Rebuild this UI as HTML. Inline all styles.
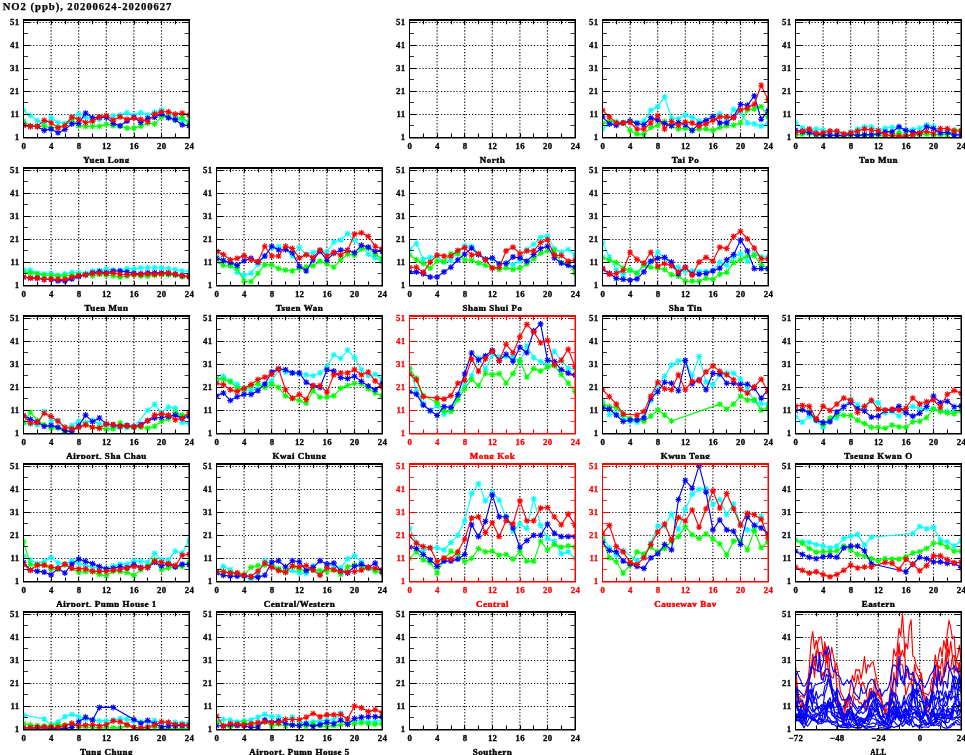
<!DOCTYPE html>
<html lang="en"><head><meta charset="utf-8"><title>NO2 (ppb), 20200624-20200627</title>
<style>
html,body{margin:0;padding:0;background:#fff;}
body{width:965px;height:755px;overflow:hidden;}
svg{display:block;}
text{font-family:"Liberation Serif","DejaVu Serif",serif;font-weight:bold;}
.t{font-size:8.8px;letter-spacing:0.3px;}
.l{font-size:7.2px;letter-spacing:0.42px;stroke-width:0.35px;}
.h{font-size:10.7px;letter-spacing:0.94px;}
.gr{stroke:#000;stroke-width:1.2;stroke-dasharray:1.15 1.95;fill:none;}
.ln{fill:none;stroke-width:1.15;stroke-linejoin:round;}
.mk{fill:none;stroke-width:1.1;}
</style></head><body>
<svg width="965" height="755" viewBox="0 0 965 755">
<defs><path id="s" d="M-3 0H3M0 -3V3M-2.2 -2.2L2.2 2.2M-2.2 2.2L2.2 -2.2"/></defs>
<rect width="965" height="755" fill="#fff"/>
<text class="h" x="2.7" y="10.4" stroke="#000" stroke-width="0.25">NO2 (ppb), 20200624-20200627</text>
<g>
<rect x="0" y="15" width="965" height="148" fill="#fff"/>
<clipPath id="k00"><rect x="23.5" y="20" width="165.6" height="118"/></clipPath><path class="gr" d="M51.1 21V137.5M78.7 21V137.5M106.3 21V137.5M133.9 21V137.5M161.5 21V137.5M24 114.5H189.1M24 91.5H189.1M24 68.5H189.1M24 45.5H189.1M24 22.5H189.1"/><g clip-path="url(#k00)"><g stroke="#00ffff"><path class="ln" d="M23.5 110.36L30.4 115.49L37.3 120.62L44.2 123.88L51.1 117.81L58 122.48L64.9 123.42L71.8 117.35L78.7 114.09L85.6 117.35L92.5 120.16L99.4 119.22L106.3 116.43L113.2 115.95L120.1 115.03L127 112.68L133.9 115.03L140.8 112.68L147.7 115.03L154.6 112.22L161.5 109.9L168.4 112.68L175.3 116.43L182.2 120.16L189.1 121.08"/><g class="mk"><use href="#s" x="23.5" y="110.36"/><use href="#s" x="30.4" y="115.49"/><use href="#s" x="37.3" y="120.62"/><use href="#s" x="44.2" y="123.88"/><use href="#s" x="51.1" y="117.81"/><use href="#s" x="58" y="122.48"/><use href="#s" x="64.9" y="123.42"/><use href="#s" x="71.8" y="117.35"/><use href="#s" x="78.7" y="114.09"/><use href="#s" x="85.6" y="117.35"/><use href="#s" x="92.5" y="120.16"/><use href="#s" x="99.4" y="119.22"/><use href="#s" x="106.3" y="116.43"/><use href="#s" x="113.2" y="115.95"/><use href="#s" x="120.1" y="115.03"/><use href="#s" x="127" y="112.68"/><use href="#s" x="133.9" y="115.03"/><use href="#s" x="140.8" y="112.68"/><use href="#s" x="147.7" y="115.03"/><use href="#s" x="154.6" y="112.22"/><use href="#s" x="161.5" y="109.9"/><use href="#s" x="168.4" y="112.68"/><use href="#s" x="175.3" y="116.43"/><use href="#s" x="182.2" y="120.16"/><use href="#s" x="189.1" y="121.08"/></g></g><g stroke="#00ff00"><path class="ln" d="M23.5 121.08L30.4 125.75L37.3 126.39L44.2 126.39L51.1 127.61L58 127.61L64.9 125.75L71.8 119.22L78.7 125.75L85.6 126.39L92.5 126.39L99.4 126.39L106.3 124.11L113.2 125.75L120.1 126.21L127 128.07L133.9 128.07L140.8 126.21L147.7 122.94L154.6 123.88L161.5 117.35L168.4 116.43L175.3 120.16L182.2 117.35L189.1 122.94"/><g class="mk"><use href="#s" x="23.5" y="121.08"/><use href="#s" x="30.4" y="125.75"/><use href="#s" x="37.3" y="126.39"/><use href="#s" x="44.2" y="126.39"/><use href="#s" x="51.1" y="127.61"/><use href="#s" x="58" y="127.61"/><use href="#s" x="64.9" y="125.75"/><use href="#s" x="71.8" y="119.22"/><use href="#s" x="78.7" y="125.75"/><use href="#s" x="85.6" y="126.39"/><use href="#s" x="92.5" y="126.39"/><use href="#s" x="99.4" y="126.39"/><use href="#s" x="106.3" y="124.11"/><use href="#s" x="113.2" y="125.75"/><use href="#s" x="120.1" y="126.21"/><use href="#s" x="127" y="128.07"/><use href="#s" x="133.9" y="128.07"/><use href="#s" x="140.8" y="126.21"/><use href="#s" x="147.7" y="122.94"/><use href="#s" x="154.6" y="123.88"/><use href="#s" x="161.5" y="117.35"/><use href="#s" x="168.4" y="116.43"/><use href="#s" x="175.3" y="120.16"/><use href="#s" x="182.2" y="117.35"/><use href="#s" x="189.1" y="122.94"/></g></g><g stroke="#0000ff"><path class="ln" d="M23.5 124.8L30.4 126.39L37.3 126.39L44.2 130.42L51.1 129.01L58 132.74L64.9 129.47L71.8 123.88L78.7 123.42L85.6 113.17L92.5 117.81L99.4 117.35L106.3 117.35L113.2 123.42L120.1 125.75L127 121.08L133.9 117.35L140.8 122.48L147.7 118.3L154.6 117.35L161.5 114.09L168.4 117.81L175.3 119.67L182.2 124.8L189.1 125.75"/><g class="mk"><use href="#s" x="23.5" y="124.8"/><use href="#s" x="30.4" y="126.39"/><use href="#s" x="37.3" y="126.39"/><use href="#s" x="44.2" y="130.42"/><use href="#s" x="51.1" y="129.01"/><use href="#s" x="58" y="132.74"/><use href="#s" x="64.9" y="129.47"/><use href="#s" x="71.8" y="123.88"/><use href="#s" x="78.7" y="123.42"/><use href="#s" x="85.6" y="113.17"/><use href="#s" x="92.5" y="117.81"/><use href="#s" x="99.4" y="117.35"/><use href="#s" x="106.3" y="117.35"/><use href="#s" x="113.2" y="123.42"/><use href="#s" x="120.1" y="125.75"/><use href="#s" x="127" y="121.08"/><use href="#s" x="133.9" y="117.35"/><use href="#s" x="140.8" y="122.48"/><use href="#s" x="147.7" y="118.3"/><use href="#s" x="154.6" y="117.35"/><use href="#s" x="161.5" y="114.09"/><use href="#s" x="168.4" y="117.81"/><use href="#s" x="175.3" y="119.67"/><use href="#s" x="182.2" y="124.8"/><use href="#s" x="189.1" y="125.75"/></g></g><g stroke="#ff0000"><path class="ln" d="M23.5 125.56L30.4 126.39L37.3 126.39L44.2 120.34L51.1 122.76L58 127.61L64.9 125.47L71.8 117.17L78.7 119.22L85.6 122.48L92.5 121.08L99.4 116.89L106.3 115.49L113.2 120.16L120.1 116.89L127 119.22L133.9 117.81L140.8 119.22L147.7 121.56L154.6 114.09L161.5 111.76L168.4 111.76L175.3 114.09L182.2 113.17L189.1 115.03"/><g class="mk"><use href="#s" x="23.5" y="125.56"/><use href="#s" x="30.4" y="126.39"/><use href="#s" x="37.3" y="126.39"/><use href="#s" x="44.2" y="120.34"/><use href="#s" x="51.1" y="122.76"/><use href="#s" x="58" y="127.61"/><use href="#s" x="64.9" y="125.47"/><use href="#s" x="71.8" y="117.17"/><use href="#s" x="78.7" y="119.22"/><use href="#s" x="85.6" y="122.48"/><use href="#s" x="92.5" y="121.08"/><use href="#s" x="99.4" y="116.89"/><use href="#s" x="106.3" y="115.49"/><use href="#s" x="113.2" y="120.16"/><use href="#s" x="120.1" y="116.89"/><use href="#s" x="127" y="119.22"/><use href="#s" x="133.9" y="117.81"/><use href="#s" x="140.8" y="119.22"/><use href="#s" x="147.7" y="121.56"/><use href="#s" x="154.6" y="114.09"/><use href="#s" x="161.5" y="111.76"/><use href="#s" x="168.4" y="111.76"/><use href="#s" x="175.3" y="114.09"/><use href="#s" x="182.2" y="113.17"/><use href="#s" x="189.1" y="115.03"/></g></g></g><path stroke="#000" stroke-width="1.1" fill="none" d="M51.5 137.5v-4M51.5 21v3.2M78.5 137.5v-4M78.5 21v3.2M106.5 137.5v-4M106.5 21v3.2M134.5 137.5v-4M134.5 21v3.2M161.5 137.5v-4M161.5 21v3.2M37.5 137.5v-4M37.5 21v3.2M65.5 137.5v-4M65.5 21v3.2M92.5 137.5v-4M92.5 21v3.2M120.5 137.5v-4M120.5 21v3.2M147.5 137.5v-4M147.5 21v3.2M175.5 137.5v-4M175.5 21v3.2M24 114.5h6M188.6 114.5h-6M24 91.5h6M188.6 91.5h-6M24 68.5h6M188.6 68.5h-6M24 45.5h6M188.6 45.5h-6M24 22.5h6M188.6 22.5h-6"/><path stroke="#000" stroke-width="0.8" fill="none" d="M24 125.5h4M188.6 125.5h-4M24 102.5h4M188.6 102.5h-4M24 79.5h4M188.6 79.5h-4M24 56.5h4M188.6 56.5h-4M24 33.5h4M188.6 33.5h-4"/><path fill="#000" d="M23 19h167v2h-167zM23 19h1v119h-1zM188.5 19h1.5v119h-1.5zM23 137h167v1.5h-167z"/><g fill="#000" stroke="#000" stroke-width="0.3"><text class="t" x="19.5" y="140.4" text-anchor="end">1</text><text class="t" x="19.5" y="117.4" text-anchor="end">11</text><text class="t" x="19.5" y="94.4" text-anchor="end">21</text><text class="t" x="19.5" y="71.4" text-anchor="end">31</text><text class="t" x="19.5" y="48.4" text-anchor="end">41</text><text class="t" x="19.5" y="25.4" text-anchor="end">51</text><text class="t" x="23.8" y="149" text-anchor="middle">0</text><text class="t" x="51.4" y="149" text-anchor="middle">4</text><text class="t" x="79" y="149" text-anchor="middle">8</text><text class="t" x="106.6" y="149" text-anchor="middle">12</text><text class="t" x="134.2" y="149" text-anchor="middle">16</text><text class="t" x="161.8" y="149" text-anchor="middle">20</text><text class="t" x="189.4" y="149" text-anchor="middle">24</text><text class="l" transform="translate(106.5 162.7) scale(1.25 1)" text-anchor="middle">Yuen Long</text></g>
<clipPath id="k02"><rect x="409.5" y="20" width="165.6" height="118"/></clipPath><path class="gr" d="M437.1 21V137.5M464.7 21V137.5M492.3 21V137.5M519.9 21V137.5M547.5 21V137.5M410 114.5H575.1M410 91.5H575.1M410 68.5H575.1M410 45.5H575.1M410 22.5H575.1"/><g clip-path="url(#k02)"></g><path stroke="#000" stroke-width="1.1" fill="none" d="M437.5 137.5v-4M437.5 21v3.2M464.5 137.5v-4M464.5 21v3.2M492.5 137.5v-4M492.5 21v3.2M520.5 137.5v-4M520.5 21v3.2M547.5 137.5v-4M547.5 21v3.2M423.5 137.5v-4M423.5 21v3.2M451.5 137.5v-4M451.5 21v3.2M478.5 137.5v-4M478.5 21v3.2M506.5 137.5v-4M506.5 21v3.2M533.5 137.5v-4M533.5 21v3.2M561.5 137.5v-4M561.5 21v3.2M410 114.5h6M574.6 114.5h-6M410 91.5h6M574.6 91.5h-6M410 68.5h6M574.6 68.5h-6M410 45.5h6M574.6 45.5h-6M410 22.5h6M574.6 22.5h-6"/><path stroke="#000" stroke-width="0.8" fill="none" d="M410 125.5h4M574.6 125.5h-4M410 102.5h4M574.6 102.5h-4M410 79.5h4M574.6 79.5h-4M410 56.5h4M574.6 56.5h-4M410 33.5h4M574.6 33.5h-4"/><path fill="#000" d="M409 19h167v2h-167zM409 19h1v119h-1zM574.5 19h1.5v119h-1.5zM409 137h167v1.5h-167z"/><g fill="#000" stroke="#000" stroke-width="0.3"><text class="t" x="405.5" y="140.4" text-anchor="end">1</text><text class="t" x="405.5" y="117.4" text-anchor="end">11</text><text class="t" x="405.5" y="94.4" text-anchor="end">21</text><text class="t" x="405.5" y="71.4" text-anchor="end">31</text><text class="t" x="405.5" y="48.4" text-anchor="end">41</text><text class="t" x="405.5" y="25.4" text-anchor="end">51</text><text class="t" x="409.8" y="149" text-anchor="middle">0</text><text class="t" x="437.4" y="149" text-anchor="middle">4</text><text class="t" x="465" y="149" text-anchor="middle">8</text><text class="t" x="492.6" y="149" text-anchor="middle">12</text><text class="t" x="520.2" y="149" text-anchor="middle">16</text><text class="t" x="547.8" y="149" text-anchor="middle">20</text><text class="t" x="575.4" y="149" text-anchor="middle">24</text><text class="l" transform="translate(492.5 162.7) scale(1.25 1)" text-anchor="middle">North</text></g>
<clipPath id="k03"><rect x="602.5" y="20" width="165.6" height="118"/></clipPath><path class="gr" d="M630.1 21V137.5M657.7 21V137.5M685.3 21V137.5M712.9 21V137.5M740.5 21V137.5M603 114.5H768.1M603 91.5H768.1M603 68.5H768.1M603 45.5H768.1M603 22.5H768.1"/><g clip-path="url(#k03)"><g stroke="#00ffff"><path class="ln" d="M602.5 129.01L609.4 123.88L616.3 121.56L623.2 122.48L630.1 121.08L637 122.48L643.9 121.08L650.8 110.36L657.7 106.63L664.6 96.84L671.5 118.3L678.4 118.75L685.3 115.03L692.2 117.35L699.1 121.08L706 120.16L712.9 117.35L719.8 113.63L726.7 121.08L733.6 109.42L740.5 112.68L747.4 122.94L754.3 123.88L761.2 126.21L768.1 123.42"/><g class="mk"><use href="#s" x="602.5" y="129.01"/><use href="#s" x="609.4" y="123.88"/><use href="#s" x="616.3" y="121.56"/><use href="#s" x="623.2" y="122.48"/><use href="#s" x="630.1" y="121.08"/><use href="#s" x="637" y="122.48"/><use href="#s" x="643.9" y="121.08"/><use href="#s" x="650.8" y="110.36"/><use href="#s" x="657.7" y="106.63"/><use href="#s" x="664.6" y="96.84"/><use href="#s" x="671.5" y="118.3"/><use href="#s" x="678.4" y="118.75"/><use href="#s" x="685.3" y="115.03"/><use href="#s" x="692.2" y="117.35"/><use href="#s" x="699.1" y="121.08"/><use href="#s" x="706" y="120.16"/><use href="#s" x="712.9" y="117.35"/><use href="#s" x="719.8" y="113.63"/><use href="#s" x="726.7" y="121.08"/><use href="#s" x="733.6" y="109.42"/><use href="#s" x="740.5" y="112.68"/><use href="#s" x="747.4" y="122.94"/><use href="#s" x="754.3" y="123.88"/><use href="#s" x="761.2" y="126.21"/><use href="#s" x="768.1" y="123.42"/></g></g><g stroke="#00ff00"><path class="ln" d="M602.5 123.42L609.4 120.62L616.3 122.94L623.2 122.94L630.1 130.42L637 134.14L643.9 134.14L650.8 127.61L657.7 125.29L664.6 121.56L671.5 126.21L678.4 129.01L685.3 128.07L692.2 130.42L699.1 129.01L706 129.01L712.9 130.42L719.8 127.61L726.7 125.75L733.6 125.29L740.5 122.94L747.4 109.9L754.3 108.96L761.2 106.63L768.1 116.89"/><g class="mk"><use href="#s" x="602.5" y="123.42"/><use href="#s" x="609.4" y="120.62"/><use href="#s" x="616.3" y="122.94"/><use href="#s" x="623.2" y="122.94"/><use href="#s" x="630.1" y="130.42"/><use href="#s" x="637" y="134.14"/><use href="#s" x="643.9" y="134.14"/><use href="#s" x="650.8" y="127.61"/><use href="#s" x="657.7" y="125.29"/><use href="#s" x="664.6" y="121.56"/><use href="#s" x="671.5" y="126.21"/><use href="#s" x="678.4" y="129.01"/><use href="#s" x="685.3" y="128.07"/><use href="#s" x="692.2" y="130.42"/><use href="#s" x="699.1" y="129.01"/><use href="#s" x="706" y="129.01"/><use href="#s" x="712.9" y="130.42"/><use href="#s" x="719.8" y="127.61"/><use href="#s" x="726.7" y="125.75"/><use href="#s" x="733.6" y="125.29"/><use href="#s" x="740.5" y="122.94"/><use href="#s" x="747.4" y="109.9"/><use href="#s" x="754.3" y="108.96"/><use href="#s" x="761.2" y="106.63"/><use href="#s" x="768.1" y="116.89"/></g></g><g stroke="#0000ff"><path class="ln" d="M602.5 116.89L609.4 123.88L616.3 125.29L623.2 122.94L630.1 121.08L637 123.42L643.9 124.8L650.8 117.81L657.7 120.16L664.6 123.42L671.5 125.75L678.4 122.48L685.3 124.8L692.2 130.42L699.1 123.88L706 120.62L712.9 116.43L719.8 122.94L726.7 122.94L733.6 116.89L740.5 104.29L747.4 105.23L754.3 95.89L761.2 119.22L768.1 110.82"/><g class="mk"><use href="#s" x="602.5" y="116.89"/><use href="#s" x="609.4" y="123.88"/><use href="#s" x="616.3" y="125.29"/><use href="#s" x="623.2" y="122.94"/><use href="#s" x="630.1" y="121.08"/><use href="#s" x="637" y="123.42"/><use href="#s" x="643.9" y="124.8"/><use href="#s" x="650.8" y="117.81"/><use href="#s" x="657.7" y="120.16"/><use href="#s" x="664.6" y="123.42"/><use href="#s" x="671.5" y="125.75"/><use href="#s" x="678.4" y="122.48"/><use href="#s" x="685.3" y="124.8"/><use href="#s" x="692.2" y="130.42"/><use href="#s" x="699.1" y="123.88"/><use href="#s" x="706" y="120.62"/><use href="#s" x="712.9" y="116.43"/><use href="#s" x="719.8" y="122.94"/><use href="#s" x="726.7" y="122.94"/><use href="#s" x="733.6" y="116.89"/><use href="#s" x="740.5" y="104.29"/><use href="#s" x="747.4" y="105.23"/><use href="#s" x="754.3" y="95.89"/><use href="#s" x="761.2" y="119.22"/><use href="#s" x="768.1" y="110.82"/></g></g><g stroke="#ff0000"><path class="ln" d="M602.5 110.36L609.4 116.89L616.3 122.94L623.2 122.94L630.1 122.48L637 129.01L643.9 129.01L650.8 122.94L657.7 115.49L664.6 129.01L671.5 121.56L678.4 125.29L685.3 122.02L692.2 122.94L699.1 126.21L706 123.88L712.9 120.16L719.8 116.89L726.7 116.89L733.6 117.81L740.5 109.9L747.4 108.04L754.3 104.29L761.2 85.18L768.1 99.64"/><g class="mk"><use href="#s" x="602.5" y="110.36"/><use href="#s" x="609.4" y="116.89"/><use href="#s" x="616.3" y="122.94"/><use href="#s" x="623.2" y="122.94"/><use href="#s" x="630.1" y="122.48"/><use href="#s" x="637" y="129.01"/><use href="#s" x="643.9" y="129.01"/><use href="#s" x="650.8" y="122.94"/><use href="#s" x="657.7" y="115.49"/><use href="#s" x="664.6" y="129.01"/><use href="#s" x="671.5" y="121.56"/><use href="#s" x="678.4" y="125.29"/><use href="#s" x="685.3" y="122.02"/><use href="#s" x="692.2" y="122.94"/><use href="#s" x="699.1" y="126.21"/><use href="#s" x="706" y="123.88"/><use href="#s" x="712.9" y="120.16"/><use href="#s" x="719.8" y="116.89"/><use href="#s" x="726.7" y="116.89"/><use href="#s" x="733.6" y="117.81"/><use href="#s" x="740.5" y="109.9"/><use href="#s" x="747.4" y="108.04"/><use href="#s" x="754.3" y="104.29"/><use href="#s" x="761.2" y="85.18"/><use href="#s" x="768.1" y="99.64"/></g></g></g><path stroke="#000" stroke-width="1.1" fill="none" d="M630.5 137.5v-4M630.5 21v3.2M657.5 137.5v-4M657.5 21v3.2M685.5 137.5v-4M685.5 21v3.2M713.5 137.5v-4M713.5 21v3.2M740.5 137.5v-4M740.5 21v3.2M616.5 137.5v-4M616.5 21v3.2M644.5 137.5v-4M644.5 21v3.2M671.5 137.5v-4M671.5 21v3.2M699.5 137.5v-4M699.5 21v3.2M726.5 137.5v-4M726.5 21v3.2M754.5 137.5v-4M754.5 21v3.2M603 114.5h6M767.6 114.5h-6M603 91.5h6M767.6 91.5h-6M603 68.5h6M767.6 68.5h-6M603 45.5h6M767.6 45.5h-6M603 22.5h6M767.6 22.5h-6"/><path stroke="#000" stroke-width="0.8" fill="none" d="M603 125.5h4M767.6 125.5h-4M603 102.5h4M767.6 102.5h-4M603 79.5h4M767.6 79.5h-4M603 56.5h4M767.6 56.5h-4M603 33.5h4M767.6 33.5h-4"/><path fill="#000" d="M602 19h167v2h-167zM602 19h1v119h-1zM767.5 19h1.5v119h-1.5zM602 137h167v1.5h-167z"/><g fill="#000" stroke="#000" stroke-width="0.3"><text class="t" x="598.5" y="140.4" text-anchor="end">1</text><text class="t" x="598.5" y="117.4" text-anchor="end">11</text><text class="t" x="598.5" y="94.4" text-anchor="end">21</text><text class="t" x="598.5" y="71.4" text-anchor="end">31</text><text class="t" x="598.5" y="48.4" text-anchor="end">41</text><text class="t" x="598.5" y="25.4" text-anchor="end">51</text><text class="t" x="602.8" y="149" text-anchor="middle">0</text><text class="t" x="630.4" y="149" text-anchor="middle">4</text><text class="t" x="658" y="149" text-anchor="middle">8</text><text class="t" x="685.6" y="149" text-anchor="middle">12</text><text class="t" x="713.2" y="149" text-anchor="middle">16</text><text class="t" x="740.8" y="149" text-anchor="middle">20</text><text class="t" x="768.4" y="149" text-anchor="middle">24</text><text class="l" transform="translate(685.5 162.7) scale(1.25 1)" text-anchor="middle">Tai Po</text></g>
<clipPath id="k04"><rect x="795.5" y="20" width="165.6" height="118"/></clipPath><path class="gr" d="M823.1 21V137.5M850.7 21V137.5M878.3 21V137.5M905.9 21V137.5M933.5 21V137.5M796 114.5H961.1M796 91.5H961.1M796 68.5H961.1M796 45.5H961.1M796 22.5H961.1"/><g clip-path="url(#k04)"><g stroke="#00ffff"><path class="ln" d="M795.5 122.57L802.4 127.7L809.3 129.1L816.2 129.1L823.1 130.05L830 131.43L836.9 131.91L843.8 134.23L850.7 131.91L857.6 129.1L864.5 126.78L871.4 126.78L878.3 130.05L885.2 128.16L892.1 127.24L899 127.7L905.9 130.05L912.8 129.56L919.7 128.16L926.6 124.92L933.5 126.78L940.4 132.37L947.3 132.37L954.2 133.31L961.1 135.18"/><g class="mk"><use href="#s" x="795.5" y="122.57"/><use href="#s" x="802.4" y="127.7"/><use href="#s" x="809.3" y="129.1"/><use href="#s" x="816.2" y="129.1"/><use href="#s" x="823.1" y="130.05"/><use href="#s" x="830" y="131.43"/><use href="#s" x="836.9" y="131.91"/><use href="#s" x="843.8" y="134.23"/><use href="#s" x="850.7" y="131.91"/><use href="#s" x="857.6" y="129.1"/><use href="#s" x="864.5" y="126.78"/><use href="#s" x="871.4" y="126.78"/><use href="#s" x="878.3" y="130.05"/><use href="#s" x="885.2" y="128.16"/><use href="#s" x="892.1" y="127.24"/><use href="#s" x="899" y="127.7"/><use href="#s" x="905.9" y="130.05"/><use href="#s" x="912.8" y="129.56"/><use href="#s" x="919.7" y="128.16"/><use href="#s" x="926.6" y="124.92"/><use href="#s" x="933.5" y="126.78"/><use href="#s" x="940.4" y="132.37"/><use href="#s" x="947.3" y="132.37"/><use href="#s" x="954.2" y="133.31"/><use href="#s" x="961.1" y="135.18"/></g></g><g stroke="#00ff00"><path class="ln" d="M795.5 135.18L802.4 134.23L809.3 133.31L816.2 135.64L823.1 135.18L830 135.64L836.9 135.64L843.8 136.1L850.7 134.69L857.6 134.69L864.5 135.18L871.4 135.64L878.3 134.69L885.2 136.1L892.1 135.18L899 132.83L905.9 135.18L912.8 135.18L919.7 134.69L926.6 134.23L933.5 134.69L940.4 134.69L947.3 134.69L954.2 130.05L961.1 130.05"/><g class="mk"><use href="#s" x="795.5" y="135.18"/><use href="#s" x="802.4" y="134.23"/><use href="#s" x="809.3" y="133.31"/><use href="#s" x="816.2" y="135.64"/><use href="#s" x="823.1" y="135.18"/><use href="#s" x="830" y="135.64"/><use href="#s" x="836.9" y="135.64"/><use href="#s" x="843.8" y="136.1"/><use href="#s" x="850.7" y="134.69"/><use href="#s" x="857.6" y="134.69"/><use href="#s" x="864.5" y="135.18"/><use href="#s" x="871.4" y="135.64"/><use href="#s" x="878.3" y="134.69"/><use href="#s" x="885.2" y="136.1"/><use href="#s" x="892.1" y="135.18"/><use href="#s" x="899" y="132.83"/><use href="#s" x="905.9" y="135.18"/><use href="#s" x="912.8" y="135.18"/><use href="#s" x="919.7" y="134.69"/><use href="#s" x="926.6" y="134.23"/><use href="#s" x="933.5" y="134.69"/><use href="#s" x="940.4" y="134.69"/><use href="#s" x="947.3" y="134.69"/><use href="#s" x="954.2" y="130.05"/><use href="#s" x="961.1" y="130.05"/></g></g><g stroke="#0000ff"><path class="ln" d="M795.5 130.05L802.4 131.91L809.3 132.37L816.2 134.23L823.1 134.69L830 135.18L836.9 135.18L843.8 135.64L850.7 134.23L857.6 135.64L864.5 134.69L871.4 134.69L878.3 133.77L885.2 131.91L892.1 131.91L899 126.78L905.9 130.51L912.8 131.91L919.7 133.31L926.6 126.78L933.5 128.65L940.4 132.83L947.3 132.37L954.2 135.18L961.1 134.69"/><g class="mk"><use href="#s" x="795.5" y="130.05"/><use href="#s" x="802.4" y="131.91"/><use href="#s" x="809.3" y="132.37"/><use href="#s" x="816.2" y="134.23"/><use href="#s" x="823.1" y="134.69"/><use href="#s" x="830" y="135.18"/><use href="#s" x="836.9" y="135.18"/><use href="#s" x="843.8" y="135.64"/><use href="#s" x="850.7" y="134.23"/><use href="#s" x="857.6" y="135.64"/><use href="#s" x="864.5" y="134.69"/><use href="#s" x="871.4" y="134.69"/><use href="#s" x="878.3" y="133.77"/><use href="#s" x="885.2" y="131.91"/><use href="#s" x="892.1" y="131.91"/><use href="#s" x="899" y="126.78"/><use href="#s" x="905.9" y="130.51"/><use href="#s" x="912.8" y="131.91"/><use href="#s" x="919.7" y="133.31"/><use href="#s" x="926.6" y="126.78"/><use href="#s" x="933.5" y="128.65"/><use href="#s" x="940.4" y="132.83"/><use href="#s" x="947.3" y="132.37"/><use href="#s" x="954.2" y="135.18"/><use href="#s" x="961.1" y="134.69"/></g></g><g stroke="#ff0000"><path class="ln" d="M795.5 132.83L802.4 130.97L809.3 129.1L816.2 133.31L823.1 132.83L830 130.97L836.9 130.97L843.8 133.77L850.7 132.83L857.6 130.97L864.5 129.1L871.4 130.05L878.3 130.74L885.2 134.69L892.1 135.64L899 136.1L905.9 136.1L912.8 134.69L919.7 132.83L926.6 131.43L933.5 133.31L940.4 128.65L947.3 128.65L954.2 130.97L961.1 130.97"/><g class="mk"><use href="#s" x="795.5" y="132.83"/><use href="#s" x="802.4" y="130.97"/><use href="#s" x="809.3" y="129.1"/><use href="#s" x="816.2" y="133.31"/><use href="#s" x="823.1" y="132.83"/><use href="#s" x="830" y="130.97"/><use href="#s" x="836.9" y="130.97"/><use href="#s" x="843.8" y="133.77"/><use href="#s" x="850.7" y="132.83"/><use href="#s" x="857.6" y="130.97"/><use href="#s" x="864.5" y="129.1"/><use href="#s" x="871.4" y="130.05"/><use href="#s" x="878.3" y="130.74"/><use href="#s" x="885.2" y="134.69"/><use href="#s" x="892.1" y="135.64"/><use href="#s" x="899" y="136.1"/><use href="#s" x="905.9" y="136.1"/><use href="#s" x="912.8" y="134.69"/><use href="#s" x="919.7" y="132.83"/><use href="#s" x="926.6" y="131.43"/><use href="#s" x="933.5" y="133.31"/><use href="#s" x="940.4" y="128.65"/><use href="#s" x="947.3" y="128.65"/><use href="#s" x="954.2" y="130.97"/><use href="#s" x="961.1" y="130.97"/></g></g></g><path stroke="#000" stroke-width="1.1" fill="none" d="M823.5 137.5v-4M823.5 21v3.2M850.5 137.5v-4M850.5 21v3.2M878.5 137.5v-4M878.5 21v3.2M906.5 137.5v-4M906.5 21v3.2M933.5 137.5v-4M933.5 21v3.2M809.5 137.5v-4M809.5 21v3.2M837.5 137.5v-4M837.5 21v3.2M864.5 137.5v-4M864.5 21v3.2M892.5 137.5v-4M892.5 21v3.2M919.5 137.5v-4M919.5 21v3.2M947.5 137.5v-4M947.5 21v3.2M796 114.5h6M960.6 114.5h-6M796 91.5h6M960.6 91.5h-6M796 68.5h6M960.6 68.5h-6M796 45.5h6M960.6 45.5h-6M796 22.5h6M960.6 22.5h-6"/><path stroke="#000" stroke-width="0.8" fill="none" d="M796 125.5h4M960.6 125.5h-4M796 102.5h4M960.6 102.5h-4M796 79.5h4M960.6 79.5h-4M796 56.5h4M960.6 56.5h-4M796 33.5h4M960.6 33.5h-4"/><path fill="#000" d="M795 19h167v2h-167zM795 19h1v119h-1zM960.5 19h1.5v119h-1.5zM795 137h167v1.5h-167z"/><g fill="#000" stroke="#000" stroke-width="0.3"><text class="t" x="791.5" y="140.4" text-anchor="end">1</text><text class="t" x="791.5" y="117.4" text-anchor="end">11</text><text class="t" x="791.5" y="94.4" text-anchor="end">21</text><text class="t" x="791.5" y="71.4" text-anchor="end">31</text><text class="t" x="791.5" y="48.4" text-anchor="end">41</text><text class="t" x="791.5" y="25.4" text-anchor="end">51</text><text class="t" x="795.8" y="149" text-anchor="middle">0</text><text class="t" x="823.4" y="149" text-anchor="middle">4</text><text class="t" x="851" y="149" text-anchor="middle">8</text><text class="t" x="878.6" y="149" text-anchor="middle">12</text><text class="t" x="906.2" y="149" text-anchor="middle">16</text><text class="t" x="933.8" y="149" text-anchor="middle">20</text><text class="t" x="961.4" y="149" text-anchor="middle">24</text><text class="l" transform="translate(878.5 162.7) scale(1.25 1)" text-anchor="middle">Tap Mun</text></g>
</g>
<g>
<rect x="0" y="163" width="965" height="148" fill="#fff"/>
<clipPath id="k10"><rect x="23.5" y="168" width="165.6" height="118"/></clipPath><path class="gr" d="M51.1 169V285.5M78.7 169V285.5M106.3 169V285.5M133.9 169V285.5M161.5 169V285.5M24 262.5H189.1M24 239.5H189.1M24 216.5H189.1M24 193.5H189.1M24 170.5H189.1"/><g clip-path="url(#k10)"><g stroke="#00ffff"><path class="ln" d="M23.5 269.65L30.4 270.11L37.3 273.38L44.2 273.84L51.1 273.38L58 275.24L64.9 273.84L71.8 272.44L78.7 272.44L85.6 273.38L92.5 271.03L99.4 270.57L106.3 269.17L113.2 270.11L120.1 270.57L127 268.71L133.9 269.17L140.8 267.79L147.7 267.79L154.6 267.79L161.5 267.79L168.4 268.71L175.3 269.65L182.2 271.03L189.1 271.52"/><g class="mk"><use href="#s" x="23.5" y="269.65"/><use href="#s" x="30.4" y="270.11"/><use href="#s" x="37.3" y="273.38"/><use href="#s" x="44.2" y="273.84"/><use href="#s" x="51.1" y="273.38"/><use href="#s" x="58" y="275.24"/><use href="#s" x="64.9" y="273.84"/><use href="#s" x="71.8" y="272.44"/><use href="#s" x="78.7" y="272.44"/><use href="#s" x="85.6" y="273.38"/><use href="#s" x="92.5" y="271.03"/><use href="#s" x="99.4" y="270.57"/><use href="#s" x="106.3" y="269.17"/><use href="#s" x="113.2" y="270.11"/><use href="#s" x="120.1" y="270.57"/><use href="#s" x="127" y="268.71"/><use href="#s" x="133.9" y="269.17"/><use href="#s" x="140.8" y="267.79"/><use href="#s" x="147.7" y="267.79"/><use href="#s" x="154.6" y="267.79"/><use href="#s" x="161.5" y="267.79"/><use href="#s" x="168.4" y="268.71"/><use href="#s" x="175.3" y="269.65"/><use href="#s" x="182.2" y="271.03"/><use href="#s" x="189.1" y="271.52"/></g></g><g stroke="#00ff00"><path class="ln" d="M23.5 271.98L30.4 272.92L37.3 273.84L44.2 275.24L51.1 275.24L58 276.16L64.9 275.7L71.8 275.24L78.7 274.78L85.6 275.24L92.5 275.7L99.4 274.3L106.3 275.24L113.2 275.7L120.1 277.11L127 276.16L133.9 274.78L140.8 276.16L147.7 276.16L154.6 275.24L161.5 274.78L168.4 274.78L175.3 275.24L182.2 276.64L189.1 276.64"/><g class="mk"><use href="#s" x="23.5" y="271.98"/><use href="#s" x="30.4" y="272.92"/><use href="#s" x="37.3" y="273.84"/><use href="#s" x="44.2" y="275.24"/><use href="#s" x="51.1" y="275.24"/><use href="#s" x="58" y="276.16"/><use href="#s" x="64.9" y="275.7"/><use href="#s" x="71.8" y="275.24"/><use href="#s" x="78.7" y="274.78"/><use href="#s" x="85.6" y="275.24"/><use href="#s" x="92.5" y="275.7"/><use href="#s" x="99.4" y="274.3"/><use href="#s" x="106.3" y="275.24"/><use href="#s" x="113.2" y="275.7"/><use href="#s" x="120.1" y="277.11"/><use href="#s" x="127" y="276.16"/><use href="#s" x="133.9" y="274.78"/><use href="#s" x="140.8" y="276.16"/><use href="#s" x="147.7" y="276.16"/><use href="#s" x="154.6" y="275.24"/><use href="#s" x="161.5" y="274.78"/><use href="#s" x="168.4" y="274.78"/><use href="#s" x="175.3" y="275.24"/><use href="#s" x="182.2" y="276.64"/><use href="#s" x="189.1" y="276.64"/></g></g><g stroke="#0000ff"><path class="ln" d="M23.5 277.11L30.4 278.05L37.3 278.05L44.2 279.43L51.1 279.43L58 280.83L64.9 280.83L71.8 278.97L78.7 276.64L85.6 274.78L92.5 272.92L99.4 271.52L106.3 272.92L113.2 271.03L120.1 271.03L127 271.98L133.9 273.38L140.8 273.84L147.7 272.92L154.6 272.92L161.5 272.92L168.4 273.38L175.3 274.3L182.2 275.7L189.1 276.64"/><g class="mk"><use href="#s" x="23.5" y="277.11"/><use href="#s" x="30.4" y="278.05"/><use href="#s" x="37.3" y="278.05"/><use href="#s" x="44.2" y="279.43"/><use href="#s" x="51.1" y="279.43"/><use href="#s" x="58" y="280.83"/><use href="#s" x="64.9" y="280.83"/><use href="#s" x="71.8" y="278.97"/><use href="#s" x="78.7" y="276.64"/><use href="#s" x="85.6" y="274.78"/><use href="#s" x="92.5" y="272.92"/><use href="#s" x="99.4" y="271.52"/><use href="#s" x="106.3" y="272.92"/><use href="#s" x="113.2" y="271.03"/><use href="#s" x="120.1" y="271.03"/><use href="#s" x="127" y="271.98"/><use href="#s" x="133.9" y="273.38"/><use href="#s" x="140.8" y="273.84"/><use href="#s" x="147.7" y="272.92"/><use href="#s" x="154.6" y="272.92"/><use href="#s" x="161.5" y="272.92"/><use href="#s" x="168.4" y="273.38"/><use href="#s" x="175.3" y="274.3"/><use href="#s" x="182.2" y="275.7"/><use href="#s" x="189.1" y="276.64"/></g></g><g stroke="#ff0000"><path class="ln" d="M23.5 277.11L30.4 278.05L37.3 278.05L44.2 279.43L51.1 278.97L58 279.43L64.9 279.43L71.8 277.11L78.7 275.7L85.6 274.78L92.5 273.38L99.4 273.38L106.3 273.38L113.2 272.92L120.1 274.3L127 274.78L133.9 274.3L140.8 274.3L147.7 273.84L154.6 274.3L161.5 273.84L168.4 272.92L175.3 274.3L182.2 275.7L189.1 276.64"/><g class="mk"><use href="#s" x="23.5" y="277.11"/><use href="#s" x="30.4" y="278.05"/><use href="#s" x="37.3" y="278.05"/><use href="#s" x="44.2" y="279.43"/><use href="#s" x="51.1" y="278.97"/><use href="#s" x="58" y="279.43"/><use href="#s" x="64.9" y="279.43"/><use href="#s" x="71.8" y="277.11"/><use href="#s" x="78.7" y="275.7"/><use href="#s" x="85.6" y="274.78"/><use href="#s" x="92.5" y="273.38"/><use href="#s" x="99.4" y="273.38"/><use href="#s" x="106.3" y="273.38"/><use href="#s" x="113.2" y="272.92"/><use href="#s" x="120.1" y="274.3"/><use href="#s" x="127" y="274.78"/><use href="#s" x="133.9" y="274.3"/><use href="#s" x="140.8" y="274.3"/><use href="#s" x="147.7" y="273.84"/><use href="#s" x="154.6" y="274.3"/><use href="#s" x="161.5" y="273.84"/><use href="#s" x="168.4" y="272.92"/><use href="#s" x="175.3" y="274.3"/><use href="#s" x="182.2" y="275.7"/><use href="#s" x="189.1" y="276.64"/></g></g></g><path stroke="#000" stroke-width="1.1" fill="none" d="M51.5 285.5v-4M51.5 169v3.2M78.5 285.5v-4M78.5 169v3.2M106.5 285.5v-4M106.5 169v3.2M134.5 285.5v-4M134.5 169v3.2M161.5 285.5v-4M161.5 169v3.2M37.5 285.5v-4M37.5 169v3.2M65.5 285.5v-4M65.5 169v3.2M92.5 285.5v-4M92.5 169v3.2M120.5 285.5v-4M120.5 169v3.2M147.5 285.5v-4M147.5 169v3.2M175.5 285.5v-4M175.5 169v3.2M24 262.5h6M188.6 262.5h-6M24 239.5h6M188.6 239.5h-6M24 216.5h6M188.6 216.5h-6M24 193.5h6M188.6 193.5h-6M24 170.5h6M188.6 170.5h-6"/><path stroke="#000" stroke-width="0.8" fill="none" d="M24 273.5h4M188.6 273.5h-4M24 250.5h4M188.6 250.5h-4M24 227.5h4M188.6 227.5h-4M24 204.5h4M188.6 204.5h-4M24 181.5h4M188.6 181.5h-4"/><path fill="#000" d="M23 167h167v2h-167zM23 167h1v119h-1zM188.5 167h1.5v119h-1.5zM23 285h167v1.5h-167z"/><g fill="#000" stroke="#000" stroke-width="0.3"><text class="t" x="19.5" y="288.4" text-anchor="end">1</text><text class="t" x="19.5" y="265.4" text-anchor="end">11</text><text class="t" x="19.5" y="242.4" text-anchor="end">21</text><text class="t" x="19.5" y="219.4" text-anchor="end">31</text><text class="t" x="19.5" y="196.4" text-anchor="end">41</text><text class="t" x="19.5" y="173.4" text-anchor="end">51</text><text class="t" x="23.8" y="297" text-anchor="middle">0</text><text class="t" x="51.4" y="297" text-anchor="middle">4</text><text class="t" x="79" y="297" text-anchor="middle">8</text><text class="t" x="106.6" y="297" text-anchor="middle">12</text><text class="t" x="134.2" y="297" text-anchor="middle">16</text><text class="t" x="161.8" y="297" text-anchor="middle">20</text><text class="t" x="189.4" y="297" text-anchor="middle">24</text><text class="l" transform="translate(106.5 310.7) scale(1.25 1)" text-anchor="middle">Tuen Mun</text></g>
<clipPath id="k11"><rect x="216.5" y="168" width="165.6" height="118"/></clipPath><path class="gr" d="M244.1 169V285.5M271.7 169V285.5M299.3 169V285.5M326.9 169V285.5M354.5 169V285.5M217 262.5H382.1M217 239.5H382.1M217 216.5H382.1M217 193.5H382.1M217 170.5H382.1"/><g clip-path="url(#k11)"><g stroke="#00ffff"><path class="ln" d="M216.5 255.09L223.4 259.76L230.3 265.35L237.2 272.34L244.1 275.15L251 273.29L257.9 264.43L264.8 256.04L271.7 247.64L278.6 246.7L285.5 249.5L292.4 256.04L299.3 247.39L306.2 254.63L313.1 252.29L320 250.43L326.9 251.83L333.8 242.03L340.7 240.17L347.6 233.63L354.5 240.17L361.4 247.16L368.3 254.15L375.2 257.9L382.1 261.63"/><g class="mk"><use href="#s" x="216.5" y="255.09"/><use href="#s" x="223.4" y="259.76"/><use href="#s" x="230.3" y="265.35"/><use href="#s" x="237.2" y="272.34"/><use href="#s" x="244.1" y="275.15"/><use href="#s" x="251" y="273.29"/><use href="#s" x="257.9" y="264.43"/><use href="#s" x="264.8" y="256.04"/><use href="#s" x="271.7" y="247.64"/><use href="#s" x="278.6" y="246.7"/><use href="#s" x="285.5" y="249.5"/><use href="#s" x="292.4" y="256.04"/><use href="#s" x="299.3" y="247.39"/><use href="#s" x="306.2" y="254.63"/><use href="#s" x="313.1" y="252.29"/><use href="#s" x="320" y="250.43"/><use href="#s" x="326.9" y="251.83"/><use href="#s" x="333.8" y="242.03"/><use href="#s" x="340.7" y="240.17"/><use href="#s" x="347.6" y="233.63"/><use href="#s" x="354.5" y="240.17"/><use href="#s" x="361.4" y="247.16"/><use href="#s" x="368.3" y="254.15"/><use href="#s" x="375.2" y="257.9"/><use href="#s" x="382.1" y="261.63"/></g></g><g stroke="#00ff00"><path class="ln" d="M216.5 261.63L223.4 265.35L230.3 265.81L237.2 268.16L244.1 281.2L251 281.68L257.9 273.29L264.8 264.89L271.7 264.89L278.6 268.62L285.5 270.02L292.4 270.94L299.3 268.16L306.2 266.75L313.1 265.81L320 261.17L326.9 263.95L333.8 267.22L340.7 259.76L347.6 254.15L354.5 255.09L361.4 249.02L368.3 248.1L375.2 254.15L382.1 258.82"/><g class="mk"><use href="#s" x="216.5" y="261.63"/><use href="#s" x="223.4" y="265.35"/><use href="#s" x="230.3" y="265.81"/><use href="#s" x="237.2" y="268.16"/><use href="#s" x="244.1" y="281.2"/><use href="#s" x="251" y="281.68"/><use href="#s" x="257.9" y="273.29"/><use href="#s" x="264.8" y="264.89"/><use href="#s" x="271.7" y="264.89"/><use href="#s" x="278.6" y="268.62"/><use href="#s" x="285.5" y="270.02"/><use href="#s" x="292.4" y="270.94"/><use href="#s" x="299.3" y="268.16"/><use href="#s" x="306.2" y="266.75"/><use href="#s" x="313.1" y="265.81"/><use href="#s" x="320" y="261.17"/><use href="#s" x="326.9" y="263.95"/><use href="#s" x="333.8" y="267.22"/><use href="#s" x="340.7" y="259.76"/><use href="#s" x="347.6" y="254.15"/><use href="#s" x="354.5" y="255.09"/><use href="#s" x="361.4" y="249.02"/><use href="#s" x="368.3" y="248.1"/><use href="#s" x="375.2" y="254.15"/><use href="#s" x="382.1" y="258.82"/></g></g><g stroke="#0000ff"><path class="ln" d="M216.5 258.36L223.4 260.68L230.3 262.55L237.2 265.35L244.1 260.68L251 258.36L257.9 262.09L264.8 256.04L271.7 246.24L278.6 249.97L285.5 249.5L292.4 252.77L299.3 266.3L306.2 270.94L313.1 259.76L320 251.37L326.9 260.22L333.8 253.23L340.7 249.97L347.6 250.43L354.5 252.77L361.4 245.3L368.3 247.16L375.2 251.37L382.1 251.37"/><g class="mk"><use href="#s" x="216.5" y="258.36"/><use href="#s" x="223.4" y="260.68"/><use href="#s" x="230.3" y="262.55"/><use href="#s" x="237.2" y="265.35"/><use href="#s" x="244.1" y="260.68"/><use href="#s" x="251" y="258.36"/><use href="#s" x="257.9" y="262.09"/><use href="#s" x="264.8" y="256.04"/><use href="#s" x="271.7" y="246.24"/><use href="#s" x="278.6" y="249.97"/><use href="#s" x="285.5" y="249.5"/><use href="#s" x="292.4" y="252.77"/><use href="#s" x="299.3" y="266.3"/><use href="#s" x="306.2" y="270.94"/><use href="#s" x="313.1" y="259.76"/><use href="#s" x="320" y="251.37"/><use href="#s" x="326.9" y="260.22"/><use href="#s" x="333.8" y="253.23"/><use href="#s" x="340.7" y="249.97"/><use href="#s" x="347.6" y="250.43"/><use href="#s" x="354.5" y="252.77"/><use href="#s" x="361.4" y="245.3"/><use href="#s" x="368.3" y="247.16"/><use href="#s" x="375.2" y="251.37"/><use href="#s" x="382.1" y="251.37"/></g></g><g stroke="#ff0000"><path class="ln" d="M216.5 251.37L223.4 254.63L230.3 259.76L237.2 258.36L244.1 255.55L251 259.76L257.9 261.63L264.8 246.24L271.7 256.04L278.6 256.04L285.5 246.24L292.4 248.56L299.3 257.9L306.2 254.63L313.1 257.42L320 249.97L326.9 256.04L333.8 252.29L340.7 255.09L347.6 250.43L354.5 234.12L361.4 232.72L368.3 236.44L375.2 246.24L382.1 249.02"/><g class="mk"><use href="#s" x="216.5" y="251.37"/><use href="#s" x="223.4" y="254.63"/><use href="#s" x="230.3" y="259.76"/><use href="#s" x="237.2" y="258.36"/><use href="#s" x="244.1" y="255.55"/><use href="#s" x="251" y="259.76"/><use href="#s" x="257.9" y="261.63"/><use href="#s" x="264.8" y="246.24"/><use href="#s" x="271.7" y="256.04"/><use href="#s" x="278.6" y="256.04"/><use href="#s" x="285.5" y="246.24"/><use href="#s" x="292.4" y="248.56"/><use href="#s" x="299.3" y="257.9"/><use href="#s" x="306.2" y="254.63"/><use href="#s" x="313.1" y="257.42"/><use href="#s" x="320" y="249.97"/><use href="#s" x="326.9" y="256.04"/><use href="#s" x="333.8" y="252.29"/><use href="#s" x="340.7" y="255.09"/><use href="#s" x="347.6" y="250.43"/><use href="#s" x="354.5" y="234.12"/><use href="#s" x="361.4" y="232.72"/><use href="#s" x="368.3" y="236.44"/><use href="#s" x="375.2" y="246.24"/><use href="#s" x="382.1" y="249.02"/></g></g></g><path stroke="#000" stroke-width="1.1" fill="none" d="M244.5 285.5v-4M244.5 169v3.2M271.5 285.5v-4M271.5 169v3.2M299.5 285.5v-4M299.5 169v3.2M327.5 285.5v-4M327.5 169v3.2M354.5 285.5v-4M354.5 169v3.2M230.5 285.5v-4M230.5 169v3.2M258.5 285.5v-4M258.5 169v3.2M285.5 285.5v-4M285.5 169v3.2M313.5 285.5v-4M313.5 169v3.2M340.5 285.5v-4M340.5 169v3.2M368.5 285.5v-4M368.5 169v3.2M217 262.5h6M381.6 262.5h-6M217 239.5h6M381.6 239.5h-6M217 216.5h6M381.6 216.5h-6M217 193.5h6M381.6 193.5h-6M217 170.5h6M381.6 170.5h-6"/><path stroke="#000" stroke-width="0.8" fill="none" d="M217 273.5h4M381.6 273.5h-4M217 250.5h4M381.6 250.5h-4M217 227.5h4M381.6 227.5h-4M217 204.5h4M381.6 204.5h-4M217 181.5h4M381.6 181.5h-4"/><path fill="#000" d="M216 167h167v2h-167zM216 167h1v119h-1zM381.5 167h1.5v119h-1.5zM216 285h167v1.5h-167z"/><g fill="#000" stroke="#000" stroke-width="0.3"><text class="t" x="212.5" y="288.4" text-anchor="end">1</text><text class="t" x="212.5" y="265.4" text-anchor="end">11</text><text class="t" x="212.5" y="242.4" text-anchor="end">21</text><text class="t" x="212.5" y="219.4" text-anchor="end">31</text><text class="t" x="212.5" y="196.4" text-anchor="end">41</text><text class="t" x="212.5" y="173.4" text-anchor="end">51</text><text class="t" x="216.8" y="297" text-anchor="middle">0</text><text class="t" x="244.4" y="297" text-anchor="middle">4</text><text class="t" x="272" y="297" text-anchor="middle">8</text><text class="t" x="299.6" y="297" text-anchor="middle">12</text><text class="t" x="327.2" y="297" text-anchor="middle">16</text><text class="t" x="354.8" y="297" text-anchor="middle">20</text><text class="t" x="382.4" y="297" text-anchor="middle">24</text><text class="l" transform="translate(299.5 310.7) scale(1.25 1)" text-anchor="middle">Tsuen Wan</text></g>
<clipPath id="k12"><rect x="409.5" y="168" width="165.6" height="118"/></clipPath><path class="gr" d="M437.1 169V285.5M464.7 169V285.5M492.3 169V285.5M519.9 169V285.5M547.5 169V285.5M410 262.5H575.1M410 239.5H575.1M410 216.5H575.1M410 193.5H575.1M410 170.5H575.1"/><g clip-path="url(#k12)"><g stroke="#00ffff"><path class="ln" d="M409.5 249.5L416.4 243.43L423.3 259.3L430.2 257.42L437.1 256.04L444 262.09L450.9 260.22L457.8 251.37L464.7 245.78L471.6 246.24L478.5 253.69L485.4 258.82L492.3 258.82L499.2 263.95L506.1 263.03L513 264.89L519.9 261.17L526.8 249.5L533.7 244.38L540.6 237.38L547.5 235.98L554.4 249.02L561.3 252.29L568.2 249.5L575.1 255.09"/><g class="mk"><use href="#s" x="409.5" y="249.5"/><use href="#s" x="416.4" y="243.43"/><use href="#s" x="423.3" y="259.3"/><use href="#s" x="430.2" y="257.42"/><use href="#s" x="437.1" y="256.04"/><use href="#s" x="444" y="262.09"/><use href="#s" x="450.9" y="260.22"/><use href="#s" x="457.8" y="251.37"/><use href="#s" x="464.7" y="245.78"/><use href="#s" x="471.6" y="246.24"/><use href="#s" x="478.5" y="253.69"/><use href="#s" x="485.4" y="258.82"/><use href="#s" x="492.3" y="258.82"/><use href="#s" x="499.2" y="263.95"/><use href="#s" x="506.1" y="263.03"/><use href="#s" x="513" y="264.89"/><use href="#s" x="519.9" y="261.17"/><use href="#s" x="526.8" y="249.5"/><use href="#s" x="533.7" y="244.38"/><use href="#s" x="540.6" y="237.38"/><use href="#s" x="547.5" y="235.98"/><use href="#s" x="554.4" y="249.02"/><use href="#s" x="561.3" y="252.29"/><use href="#s" x="568.2" y="249.5"/><use href="#s" x="575.1" y="255.09"/></g></g><g stroke="#00ff00"><path class="ln" d="M409.5 255.09L416.4 259.76L423.3 263.49L430.2 268.16L437.1 261.17L444 261.63L450.9 253.69L457.8 253.69L464.7 259.76L471.6 260.22L478.5 263.03L485.4 265.35L492.3 267.68L499.2 269.56L506.1 267.68L513 269.56L519.9 268.16L526.8 263.95L533.7 258.82L540.6 253.23L547.5 250.91L554.4 250.43L561.3 263.03L568.2 263.95L575.1 272.8"/><g class="mk"><use href="#s" x="409.5" y="255.09"/><use href="#s" x="416.4" y="259.76"/><use href="#s" x="423.3" y="263.49"/><use href="#s" x="430.2" y="268.16"/><use href="#s" x="437.1" y="261.17"/><use href="#s" x="444" y="261.63"/><use href="#s" x="450.9" y="253.69"/><use href="#s" x="457.8" y="253.69"/><use href="#s" x="464.7" y="259.76"/><use href="#s" x="471.6" y="260.22"/><use href="#s" x="478.5" y="263.03"/><use href="#s" x="485.4" y="265.35"/><use href="#s" x="492.3" y="267.68"/><use href="#s" x="499.2" y="269.56"/><use href="#s" x="506.1" y="267.68"/><use href="#s" x="513" y="269.56"/><use href="#s" x="519.9" y="268.16"/><use href="#s" x="526.8" y="263.95"/><use href="#s" x="533.7" y="258.82"/><use href="#s" x="540.6" y="253.23"/><use href="#s" x="547.5" y="250.91"/><use href="#s" x="554.4" y="250.43"/><use href="#s" x="561.3" y="263.03"/><use href="#s" x="568.2" y="263.95"/><use href="#s" x="575.1" y="272.8"/></g></g><g stroke="#0000ff"><path class="ln" d="M409.5 271.88L416.4 271.88L423.3 273.75L430.2 277.01L437.1 277.01L444 271.88L450.9 267.22L457.8 259.76L464.7 254.15L471.6 248.1L478.5 254.63L485.4 259.3L492.3 257.9L499.2 263.95L506.1 263.49L513 256.96L519.9 257.9L526.8 261.17L533.7 254.63L540.6 248.56L547.5 246.24L554.4 257.9L561.3 263.03L568.2 265.35L575.1 267.22"/><g class="mk"><use href="#s" x="409.5" y="271.88"/><use href="#s" x="416.4" y="271.88"/><use href="#s" x="423.3" y="273.75"/><use href="#s" x="430.2" y="277.01"/><use href="#s" x="437.1" y="277.01"/><use href="#s" x="444" y="271.88"/><use href="#s" x="450.9" y="267.22"/><use href="#s" x="457.8" y="259.76"/><use href="#s" x="464.7" y="254.15"/><use href="#s" x="471.6" y="248.1"/><use href="#s" x="478.5" y="254.63"/><use href="#s" x="485.4" y="259.3"/><use href="#s" x="492.3" y="257.9"/><use href="#s" x="499.2" y="263.95"/><use href="#s" x="506.1" y="263.49"/><use href="#s" x="513" y="256.96"/><use href="#s" x="519.9" y="257.9"/><use href="#s" x="526.8" y="261.17"/><use href="#s" x="533.7" y="254.63"/><use href="#s" x="540.6" y="248.56"/><use href="#s" x="547.5" y="246.24"/><use href="#s" x="554.4" y="257.9"/><use href="#s" x="561.3" y="263.03"/><use href="#s" x="568.2" y="265.35"/><use href="#s" x="575.1" y="267.22"/></g></g><g stroke="#ff0000"><path class="ln" d="M409.5 267.22L416.4 267.22L423.3 272.34L430.2 262.09L437.1 255.09L444 256.04L450.9 256.04L457.8 250.43L464.7 247.64L471.6 255.09L478.5 253.69L485.4 259.76L492.3 268.16L499.2 267.22L506.1 250.91L513 247.16L519.9 253.69L526.8 250.91L533.7 250.91L540.6 242.51L547.5 239.71L554.4 255.09L561.3 255.55L568.2 261.17L575.1 260.22"/><g class="mk"><use href="#s" x="409.5" y="267.22"/><use href="#s" x="416.4" y="267.22"/><use href="#s" x="423.3" y="272.34"/><use href="#s" x="430.2" y="262.09"/><use href="#s" x="437.1" y="255.09"/><use href="#s" x="444" y="256.04"/><use href="#s" x="450.9" y="256.04"/><use href="#s" x="457.8" y="250.43"/><use href="#s" x="464.7" y="247.64"/><use href="#s" x="471.6" y="255.09"/><use href="#s" x="478.5" y="253.69"/><use href="#s" x="485.4" y="259.76"/><use href="#s" x="492.3" y="268.16"/><use href="#s" x="499.2" y="267.22"/><use href="#s" x="506.1" y="250.91"/><use href="#s" x="513" y="247.16"/><use href="#s" x="519.9" y="253.69"/><use href="#s" x="526.8" y="250.91"/><use href="#s" x="533.7" y="250.91"/><use href="#s" x="540.6" y="242.51"/><use href="#s" x="547.5" y="239.71"/><use href="#s" x="554.4" y="255.09"/><use href="#s" x="561.3" y="255.55"/><use href="#s" x="568.2" y="261.17"/><use href="#s" x="575.1" y="260.22"/></g></g></g><path stroke="#000" stroke-width="1.1" fill="none" d="M437.5 285.5v-4M437.5 169v3.2M464.5 285.5v-4M464.5 169v3.2M492.5 285.5v-4M492.5 169v3.2M520.5 285.5v-4M520.5 169v3.2M547.5 285.5v-4M547.5 169v3.2M423.5 285.5v-4M423.5 169v3.2M451.5 285.5v-4M451.5 169v3.2M478.5 285.5v-4M478.5 169v3.2M506.5 285.5v-4M506.5 169v3.2M533.5 285.5v-4M533.5 169v3.2M561.5 285.5v-4M561.5 169v3.2M410 262.5h6M574.6 262.5h-6M410 239.5h6M574.6 239.5h-6M410 216.5h6M574.6 216.5h-6M410 193.5h6M574.6 193.5h-6M410 170.5h6M574.6 170.5h-6"/><path stroke="#000" stroke-width="0.8" fill="none" d="M410 273.5h4M574.6 273.5h-4M410 250.5h4M574.6 250.5h-4M410 227.5h4M574.6 227.5h-4M410 204.5h4M574.6 204.5h-4M410 181.5h4M574.6 181.5h-4"/><path fill="#000" d="M409 167h167v2h-167zM409 167h1v119h-1zM574.5 167h1.5v119h-1.5zM409 285h167v1.5h-167z"/><g fill="#000" stroke="#000" stroke-width="0.3"><text class="t" x="405.5" y="288.4" text-anchor="end">1</text><text class="t" x="405.5" y="265.4" text-anchor="end">11</text><text class="t" x="405.5" y="242.4" text-anchor="end">21</text><text class="t" x="405.5" y="219.4" text-anchor="end">31</text><text class="t" x="405.5" y="196.4" text-anchor="end">41</text><text class="t" x="405.5" y="173.4" text-anchor="end">51</text><text class="t" x="409.8" y="297" text-anchor="middle">0</text><text class="t" x="437.4" y="297" text-anchor="middle">4</text><text class="t" x="465" y="297" text-anchor="middle">8</text><text class="t" x="492.6" y="297" text-anchor="middle">12</text><text class="t" x="520.2" y="297" text-anchor="middle">16</text><text class="t" x="547.8" y="297" text-anchor="middle">20</text><text class="t" x="575.4" y="297" text-anchor="middle">24</text><text class="l" transform="translate(492.5 310.7) scale(1.25 1)" text-anchor="middle">Sham Shui Po</text></g>
<clipPath id="k13"><rect x="602.5" y="168" width="165.6" height="118"/></clipPath><path class="gr" d="M630.1 169V285.5M657.7 169V285.5M685.3 169V285.5M712.9 169V285.5M740.5 169V285.5M603 262.5H768.1M603 239.5H768.1M603 216.5H768.1M603 193.5H768.1M603 170.5H768.1"/><g clip-path="url(#k13)"><g stroke="#00ffff"><path class="ln" d="M602.5 242.51L609.4 256.96L616.3 269.56L623.2 274.69L630.1 269.56L637 272.8L643.9 264.43L650.8 261.63L657.7 252.29L664.6 257.9L671.5 264.43L678.4 267.22L685.3 271.42L692.2 270.94L699.1 271.42L706 271.42L712.9 270.48L719.8 262.09L726.7 265.35L733.6 256.96L740.5 253.69L747.4 261.17L754.3 253.69L761.2 256.96L768.1 256.96"/><g class="mk"><use href="#s" x="602.5" y="242.51"/><use href="#s" x="609.4" y="256.96"/><use href="#s" x="616.3" y="269.56"/><use href="#s" x="623.2" y="274.69"/><use href="#s" x="630.1" y="269.56"/><use href="#s" x="637" y="272.8"/><use href="#s" x="643.9" y="264.43"/><use href="#s" x="650.8" y="261.63"/><use href="#s" x="657.7" y="252.29"/><use href="#s" x="664.6" y="257.9"/><use href="#s" x="671.5" y="264.43"/><use href="#s" x="678.4" y="267.22"/><use href="#s" x="685.3" y="271.42"/><use href="#s" x="692.2" y="270.94"/><use href="#s" x="699.1" y="271.42"/><use href="#s" x="706" y="271.42"/><use href="#s" x="712.9" y="270.48"/><use href="#s" x="719.8" y="262.09"/><use href="#s" x="726.7" y="265.35"/><use href="#s" x="733.6" y="256.96"/><use href="#s" x="740.5" y="253.69"/><use href="#s" x="747.4" y="261.17"/><use href="#s" x="754.3" y="253.69"/><use href="#s" x="761.2" y="256.96"/><use href="#s" x="768.1" y="256.96"/></g></g><g stroke="#00ff00"><path class="ln" d="M602.5 257.42L609.4 260.22L616.3 262.55L623.2 268.16L630.1 270.48L637 273.29L643.9 265.35L650.8 267.22L657.7 268.16L664.6 269.56L671.5 274.69L678.4 276.07L685.3 281.2L692.2 281.2L699.1 281.2L706 278.42L712.9 279.34L719.8 274.21L726.7 272.34L733.6 262.55L740.5 259.76L747.4 256.04L754.3 255.55L761.2 264.43L768.1 269.08"/><g class="mk"><use href="#s" x="602.5" y="257.42"/><use href="#s" x="609.4" y="260.22"/><use href="#s" x="616.3" y="262.55"/><use href="#s" x="623.2" y="268.16"/><use href="#s" x="630.1" y="270.48"/><use href="#s" x="637" y="273.29"/><use href="#s" x="643.9" y="265.35"/><use href="#s" x="650.8" y="267.22"/><use href="#s" x="657.7" y="268.16"/><use href="#s" x="664.6" y="269.56"/><use href="#s" x="671.5" y="274.69"/><use href="#s" x="678.4" y="276.07"/><use href="#s" x="685.3" y="281.2"/><use href="#s" x="692.2" y="281.2"/><use href="#s" x="699.1" y="281.2"/><use href="#s" x="706" y="278.42"/><use href="#s" x="712.9" y="279.34"/><use href="#s" x="719.8" y="274.21"/><use href="#s" x="726.7" y="272.34"/><use href="#s" x="733.6" y="262.55"/><use href="#s" x="740.5" y="259.76"/><use href="#s" x="747.4" y="256.04"/><use href="#s" x="754.3" y="255.55"/><use href="#s" x="761.2" y="264.43"/><use href="#s" x="768.1" y="269.08"/></g></g><g stroke="#0000ff"><path class="ln" d="M602.5 269.08L609.4 273.29L616.3 278.42L623.2 279.34L630.1 280.28L637 278.88L643.9 271.88L650.8 261.17L657.7 258.36L664.6 257.42L671.5 262.09L678.4 273.75L685.3 267.22L692.2 274.21L699.1 274.21L706 273.29L712.9 270.94L719.8 268.16L726.7 259.76L733.6 254.63L740.5 240.17L747.4 250.91L754.3 268.62L761.2 268.62L768.1 268.62"/><g class="mk"><use href="#s" x="602.5" y="269.08"/><use href="#s" x="609.4" y="273.29"/><use href="#s" x="616.3" y="278.42"/><use href="#s" x="623.2" y="279.34"/><use href="#s" x="630.1" y="280.28"/><use href="#s" x="637" y="278.88"/><use href="#s" x="643.9" y="271.88"/><use href="#s" x="650.8" y="261.17"/><use href="#s" x="657.7" y="258.36"/><use href="#s" x="664.6" y="257.42"/><use href="#s" x="671.5" y="262.09"/><use href="#s" x="678.4" y="273.75"/><use href="#s" x="685.3" y="267.22"/><use href="#s" x="692.2" y="274.21"/><use href="#s" x="699.1" y="274.21"/><use href="#s" x="706" y="273.29"/><use href="#s" x="712.9" y="270.94"/><use href="#s" x="719.8" y="268.16"/><use href="#s" x="726.7" y="259.76"/><use href="#s" x="733.6" y="254.63"/><use href="#s" x="740.5" y="240.17"/><use href="#s" x="747.4" y="250.91"/><use href="#s" x="754.3" y="268.62"/><use href="#s" x="761.2" y="268.62"/><use href="#s" x="768.1" y="268.62"/></g></g><g stroke="#ff0000"><path class="ln" d="M602.5 268.16L609.4 274.21L616.3 273.29L623.2 270.48L630.1 252.29L637 259.3L643.9 263.03L650.8 252.29L657.7 266.3L664.6 263.49L671.5 265.81L678.4 271.88L685.3 267.22L692.2 275.15L699.1 262.09L706 257.42L712.9 261.17L719.8 247.16L726.7 248.56L733.6 236.44L740.5 231.31L747.4 238.76L754.3 248.1L761.2 258.82L768.1 258.82"/><g class="mk"><use href="#s" x="602.5" y="268.16"/><use href="#s" x="609.4" y="274.21"/><use href="#s" x="616.3" y="273.29"/><use href="#s" x="623.2" y="270.48"/><use href="#s" x="630.1" y="252.29"/><use href="#s" x="637" y="259.3"/><use href="#s" x="643.9" y="263.03"/><use href="#s" x="650.8" y="252.29"/><use href="#s" x="657.7" y="266.3"/><use href="#s" x="664.6" y="263.49"/><use href="#s" x="671.5" y="265.81"/><use href="#s" x="678.4" y="271.88"/><use href="#s" x="685.3" y="267.22"/><use href="#s" x="692.2" y="275.15"/><use href="#s" x="699.1" y="262.09"/><use href="#s" x="706" y="257.42"/><use href="#s" x="712.9" y="261.17"/><use href="#s" x="719.8" y="247.16"/><use href="#s" x="726.7" y="248.56"/><use href="#s" x="733.6" y="236.44"/><use href="#s" x="740.5" y="231.31"/><use href="#s" x="747.4" y="238.76"/><use href="#s" x="754.3" y="248.1"/><use href="#s" x="761.2" y="258.82"/><use href="#s" x="768.1" y="258.82"/></g></g></g><path stroke="#000" stroke-width="1.1" fill="none" d="M630.5 285.5v-4M630.5 169v3.2M657.5 285.5v-4M657.5 169v3.2M685.5 285.5v-4M685.5 169v3.2M713.5 285.5v-4M713.5 169v3.2M740.5 285.5v-4M740.5 169v3.2M616.5 285.5v-4M616.5 169v3.2M644.5 285.5v-4M644.5 169v3.2M671.5 285.5v-4M671.5 169v3.2M699.5 285.5v-4M699.5 169v3.2M726.5 285.5v-4M726.5 169v3.2M754.5 285.5v-4M754.5 169v3.2M603 262.5h6M767.6 262.5h-6M603 239.5h6M767.6 239.5h-6M603 216.5h6M767.6 216.5h-6M603 193.5h6M767.6 193.5h-6M603 170.5h6M767.6 170.5h-6"/><path stroke="#000" stroke-width="0.8" fill="none" d="M603 273.5h4M767.6 273.5h-4M603 250.5h4M767.6 250.5h-4M603 227.5h4M767.6 227.5h-4M603 204.5h4M767.6 204.5h-4M603 181.5h4M767.6 181.5h-4"/><path fill="#000" d="M602 167h167v2h-167zM602 167h1v119h-1zM767.5 167h1.5v119h-1.5zM602 285h167v1.5h-167z"/><g fill="#000" stroke="#000" stroke-width="0.3"><text class="t" x="598.5" y="288.4" text-anchor="end">1</text><text class="t" x="598.5" y="265.4" text-anchor="end">11</text><text class="t" x="598.5" y="242.4" text-anchor="end">21</text><text class="t" x="598.5" y="219.4" text-anchor="end">31</text><text class="t" x="598.5" y="196.4" text-anchor="end">41</text><text class="t" x="598.5" y="173.4" text-anchor="end">51</text><text class="t" x="602.8" y="297" text-anchor="middle">0</text><text class="t" x="630.4" y="297" text-anchor="middle">4</text><text class="t" x="658" y="297" text-anchor="middle">8</text><text class="t" x="685.6" y="297" text-anchor="middle">12</text><text class="t" x="713.2" y="297" text-anchor="middle">16</text><text class="t" x="740.8" y="297" text-anchor="middle">20</text><text class="t" x="768.4" y="297" text-anchor="middle">24</text><text class="l" transform="translate(685.5 310.7) scale(1.25 1)" text-anchor="middle">Sha Tin</text></g>
</g>
<g>
<rect x="0" y="311" width="965" height="148" fill="#fff"/>
<clipPath id="k20"><rect x="23.5" y="316" width="165.6" height="118"/></clipPath><path class="gr" d="M51.1 317V433.5M78.7 317V433.5M106.3 317V433.5M133.9 317V433.5M161.5 317V433.5M24 410.5H189.1M24 387.5H189.1M24 364.5H189.1M24 341.5H189.1M24 318.5H189.1"/><g clip-path="url(#k20)"><g stroke="#00ffff"><path class="ln" d="M23.5 423.06L30.4 423.98L37.3 424.92L44.2 411.4L51.1 420.71L58 420.25L64.9 428.19L71.8 425.38L78.7 421.19L85.6 422.6L92.5 420.25L99.4 423.98L106.3 423.98L113.2 428.19L120.1 427.24L127 427.73L133.9 426.78L147.7 410.45L154.6 404.4L161.5 412.32L168.4 407.19L175.3 408.13L182.2 422.6L189.1 423.52"/><g class="mk"><use href="#s" x="23.5" y="423.06"/><use href="#s" x="30.4" y="423.98"/><use href="#s" x="37.3" y="424.92"/><use href="#s" x="44.2" y="411.4"/><use href="#s" x="51.1" y="420.71"/><use href="#s" x="58" y="420.25"/><use href="#s" x="64.9" y="428.19"/><use href="#s" x="71.8" y="425.38"/><use href="#s" x="78.7" y="421.19"/><use href="#s" x="85.6" y="422.6"/><use href="#s" x="92.5" y="420.25"/><use href="#s" x="99.4" y="423.98"/><use href="#s" x="106.3" y="423.98"/><use href="#s" x="113.2" y="428.19"/><use href="#s" x="120.1" y="427.24"/><use href="#s" x="127" y="427.73"/><use href="#s" x="133.9" y="426.78"/><use href="#s" x="147.7" y="410.45"/><use href="#s" x="154.6" y="404.4"/><use href="#s" x="161.5" y="412.32"/><use href="#s" x="168.4" y="407.19"/><use href="#s" x="175.3" y="408.13"/><use href="#s" x="182.2" y="422.6"/><use href="#s" x="189.1" y="423.52"/></g></g><g stroke="#00ff00"><path class="ln" d="M23.5 423.06L30.4 412.32L37.3 420.25L44.2 424.92L51.1 428.19L58 427.73L64.9 431.91L71.8 429.59L78.7 427.24L85.6 423.98L92.5 427.24L99.4 428.19L106.3 429.11L113.2 428.65L120.1 423.06L127 426.32L133.9 427.24L140.8 427.24L147.7 428.19L154.6 426.32L161.5 421.19L168.4 418.85L175.3 412.8L182.2 415.12L189.1 414.66"/><g class="mk"><use href="#s" x="23.5" y="423.06"/><use href="#s" x="30.4" y="412.32"/><use href="#s" x="37.3" y="420.25"/><use href="#s" x="44.2" y="424.92"/><use href="#s" x="51.1" y="428.19"/><use href="#s" x="58" y="427.73"/><use href="#s" x="64.9" y="431.91"/><use href="#s" x="71.8" y="429.59"/><use href="#s" x="78.7" y="427.24"/><use href="#s" x="85.6" y="423.98"/><use href="#s" x="92.5" y="427.24"/><use href="#s" x="99.4" y="428.19"/><use href="#s" x="106.3" y="429.11"/><use href="#s" x="113.2" y="428.65"/><use href="#s" x="120.1" y="423.06"/><use href="#s" x="127" y="426.32"/><use href="#s" x="133.9" y="427.24"/><use href="#s" x="140.8" y="427.24"/><use href="#s" x="147.7" y="428.19"/><use href="#s" x="154.6" y="426.32"/><use href="#s" x="161.5" y="421.19"/><use href="#s" x="168.4" y="418.85"/><use href="#s" x="175.3" y="412.8"/><use href="#s" x="182.2" y="415.12"/><use href="#s" x="189.1" y="414.66"/></g></g><g stroke="#0000ff"><path class="ln" d="M23.5 415.58L30.4 419.33L37.3 422.12L44.2 426.32L51.1 425.38L58 427.24L64.9 430.51L71.8 431.91L78.7 425.84L85.6 415.12L92.5 421.65L99.4 417.93L106.3 423.98L113.2 424.92L120.1 426.32L127 425.38L133.9 426.78L140.8 424.46L147.7 420.71L154.6 417.93L161.5 417.47L168.4 416.53L175.3 415.12L182.2 418.39L189.1 416.07"/><g class="mk"><use href="#s" x="23.5" y="415.58"/><use href="#s" x="30.4" y="419.33"/><use href="#s" x="37.3" y="422.12"/><use href="#s" x="44.2" y="426.32"/><use href="#s" x="51.1" y="425.38"/><use href="#s" x="58" y="427.24"/><use href="#s" x="64.9" y="430.51"/><use href="#s" x="71.8" y="431.91"/><use href="#s" x="78.7" y="425.84"/><use href="#s" x="85.6" y="415.12"/><use href="#s" x="92.5" y="421.65"/><use href="#s" x="99.4" y="417.93"/><use href="#s" x="106.3" y="423.98"/><use href="#s" x="113.2" y="424.92"/><use href="#s" x="120.1" y="426.32"/><use href="#s" x="127" y="425.38"/><use href="#s" x="133.9" y="426.78"/><use href="#s" x="140.8" y="424.46"/><use href="#s" x="147.7" y="420.71"/><use href="#s" x="154.6" y="417.93"/><use href="#s" x="161.5" y="417.47"/><use href="#s" x="168.4" y="416.53"/><use href="#s" x="175.3" y="415.12"/><use href="#s" x="182.2" y="418.39"/><use href="#s" x="189.1" y="416.07"/></g></g><g stroke="#ff0000"><path class="ln" d="M23.5 416.07L30.4 423.06L37.3 422.6L44.2 413.26L51.1 416.53L58 421.19L64.9 427.24L71.8 428.65L78.7 427.24L85.6 424.92L92.5 427.24L99.4 428.19L106.3 423.98L113.2 424.46L120.1 426.32L127 425.84L133.9 426.78L140.8 425.84L147.7 420.71L154.6 415.12L161.5 413.72L168.4 415.12L175.3 419.79L182.2 418.39L189.1 412.32"/><g class="mk"><use href="#s" x="23.5" y="416.07"/><use href="#s" x="30.4" y="423.06"/><use href="#s" x="37.3" y="422.6"/><use href="#s" x="44.2" y="413.26"/><use href="#s" x="51.1" y="416.53"/><use href="#s" x="58" y="421.19"/><use href="#s" x="64.9" y="427.24"/><use href="#s" x="71.8" y="428.65"/><use href="#s" x="78.7" y="427.24"/><use href="#s" x="85.6" y="424.92"/><use href="#s" x="92.5" y="427.24"/><use href="#s" x="99.4" y="428.19"/><use href="#s" x="106.3" y="423.98"/><use href="#s" x="113.2" y="424.46"/><use href="#s" x="120.1" y="426.32"/><use href="#s" x="127" y="425.84"/><use href="#s" x="133.9" y="426.78"/><use href="#s" x="140.8" y="425.84"/><use href="#s" x="147.7" y="420.71"/><use href="#s" x="154.6" y="415.12"/><use href="#s" x="161.5" y="413.72"/><use href="#s" x="168.4" y="415.12"/><use href="#s" x="175.3" y="419.79"/><use href="#s" x="182.2" y="418.39"/><use href="#s" x="189.1" y="412.32"/></g></g></g><path stroke="#000" stroke-width="1.1" fill="none" d="M51.5 433.5v-4M51.5 317v3.2M78.5 433.5v-4M78.5 317v3.2M106.5 433.5v-4M106.5 317v3.2M134.5 433.5v-4M134.5 317v3.2M161.5 433.5v-4M161.5 317v3.2M37.5 433.5v-4M37.5 317v3.2M65.5 433.5v-4M65.5 317v3.2M92.5 433.5v-4M92.5 317v3.2M120.5 433.5v-4M120.5 317v3.2M147.5 433.5v-4M147.5 317v3.2M175.5 433.5v-4M175.5 317v3.2M24 410.5h6M188.6 410.5h-6M24 387.5h6M188.6 387.5h-6M24 364.5h6M188.6 364.5h-6M24 341.5h6M188.6 341.5h-6M24 318.5h6M188.6 318.5h-6"/><path stroke="#000" stroke-width="0.8" fill="none" d="M24 421.5h4M188.6 421.5h-4M24 398.5h4M188.6 398.5h-4M24 375.5h4M188.6 375.5h-4M24 352.5h4M188.6 352.5h-4M24 329.5h4M188.6 329.5h-4"/><path fill="#000" d="M23 315h167v2h-167zM23 315h1v119h-1zM188.5 315h1.5v119h-1.5zM23 433h167v1.5h-167z"/><g fill="#000" stroke="#000" stroke-width="0.3"><text class="t" x="19.5" y="436.4" text-anchor="end">1</text><text class="t" x="19.5" y="413.4" text-anchor="end">11</text><text class="t" x="19.5" y="390.4" text-anchor="end">21</text><text class="t" x="19.5" y="367.4" text-anchor="end">31</text><text class="t" x="19.5" y="344.4" text-anchor="end">41</text><text class="t" x="19.5" y="321.4" text-anchor="end">51</text><text class="t" x="23.8" y="445" text-anchor="middle">0</text><text class="t" x="51.4" y="445" text-anchor="middle">4</text><text class="t" x="79" y="445" text-anchor="middle">8</text><text class="t" x="106.6" y="445" text-anchor="middle">12</text><text class="t" x="134.2" y="445" text-anchor="middle">16</text><text class="t" x="161.8" y="445" text-anchor="middle">20</text><text class="t" x="189.4" y="445" text-anchor="middle">24</text><text class="l" transform="translate(106.5 458.7) scale(1.25 1)" text-anchor="middle">Airport, Sha Chau</text></g>
<clipPath id="k21"><rect x="216.5" y="316" width="165.6" height="118"/></clipPath><path class="gr" d="M244.1 317V433.5M271.7 317V433.5M299.3 317V433.5M326.9 317V433.5M354.5 317V433.5M217 410.5H382.1M217 387.5H382.1M217 364.5H382.1M217 341.5H382.1M217 318.5H382.1"/><g clip-path="url(#k21)"><g stroke="#00ffff"><path class="ln" d="M216.5 380.9L223.4 376.23L230.3 380.9L237.2 384.17L244.1 389.75L251 390.21L257.9 388.83L264.8 384.17L271.7 380.9L278.6 370.18L285.5 372.04L292.4 372.96L299.3 373.91L306.2 374.83L313.1 375.77L320 372.96L326.9 366.92L333.8 354.77L340.7 358.52L347.6 350.12L354.5 357.58L361.4 369.7L368.3 375.77L375.2 374.37L382.1 379.04"/><g class="mk"><use href="#s" x="216.5" y="380.9"/><use href="#s" x="223.4" y="376.23"/><use href="#s" x="230.3" y="380.9"/><use href="#s" x="237.2" y="384.17"/><use href="#s" x="244.1" y="389.75"/><use href="#s" x="251" y="390.21"/><use href="#s" x="257.9" y="388.83"/><use href="#s" x="264.8" y="384.17"/><use href="#s" x="271.7" y="380.9"/><use href="#s" x="278.6" y="370.18"/><use href="#s" x="285.5" y="372.04"/><use href="#s" x="292.4" y="372.96"/><use href="#s" x="299.3" y="373.91"/><use href="#s" x="306.2" y="374.83"/><use href="#s" x="313.1" y="375.77"/><use href="#s" x="320" y="372.96"/><use href="#s" x="326.9" y="366.92"/><use href="#s" x="333.8" y="354.77"/><use href="#s" x="340.7" y="358.52"/><use href="#s" x="347.6" y="350.12"/><use href="#s" x="354.5" y="357.58"/><use href="#s" x="361.4" y="369.7"/><use href="#s" x="368.3" y="375.77"/><use href="#s" x="375.2" y="374.37"/><use href="#s" x="382.1" y="379.04"/></g></g><g stroke="#00ff00"><path class="ln" d="M216.5 378.09L223.4 379.5L230.3 381.82L237.2 387.89L244.1 389.29L251 386.03L257.9 383.7L264.8 387.43L271.7 384.17L278.6 387.43L285.5 395.83L292.4 398.61L299.3 400.47L306.2 403.28L313.1 390.7L320 397.23L326.9 397.23L333.8 395.83L340.7 388.35L347.6 385.57L354.5 383.22L361.4 383.7L368.3 388.83L375.2 393.02L382.1 395.83"/><g class="mk"><use href="#s" x="216.5" y="378.09"/><use href="#s" x="223.4" y="379.5"/><use href="#s" x="230.3" y="381.82"/><use href="#s" x="237.2" y="387.89"/><use href="#s" x="244.1" y="389.29"/><use href="#s" x="251" y="386.03"/><use href="#s" x="257.9" y="383.7"/><use href="#s" x="264.8" y="387.43"/><use href="#s" x="271.7" y="384.17"/><use href="#s" x="278.6" y="387.43"/><use href="#s" x="285.5" y="395.83"/><use href="#s" x="292.4" y="398.61"/><use href="#s" x="299.3" y="400.47"/><use href="#s" x="306.2" y="403.28"/><use href="#s" x="313.1" y="390.7"/><use href="#s" x="320" y="397.23"/><use href="#s" x="326.9" y="397.23"/><use href="#s" x="333.8" y="395.83"/><use href="#s" x="340.7" y="388.35"/><use href="#s" x="347.6" y="385.57"/><use href="#s" x="354.5" y="383.22"/><use href="#s" x="361.4" y="383.7"/><use href="#s" x="368.3" y="388.83"/><use href="#s" x="375.2" y="393.02"/><use href="#s" x="382.1" y="395.83"/></g></g><g stroke="#0000ff"><path class="ln" d="M216.5 395.83L223.4 393.02L230.3 400.47L237.2 396.75L244.1 394.42L251 394.42L257.9 390.7L264.8 384.17L271.7 372.04L278.6 368.78L285.5 369.7L292.4 372.96L299.3 372.96L306.2 382.3L313.1 386.03L320 387.43L326.9 369.7L333.8 371.1L340.7 377.63L347.6 378.58L354.5 376.23L361.4 381.36L368.3 386.03L375.2 389.75L382.1 383.7"/><g class="mk"><use href="#s" x="216.5" y="395.83"/><use href="#s" x="223.4" y="393.02"/><use href="#s" x="230.3" y="400.47"/><use href="#s" x="237.2" y="396.75"/><use href="#s" x="244.1" y="394.42"/><use href="#s" x="251" y="394.42"/><use href="#s" x="257.9" y="390.7"/><use href="#s" x="264.8" y="384.17"/><use href="#s" x="271.7" y="372.04"/><use href="#s" x="278.6" y="368.78"/><use href="#s" x="285.5" y="369.7"/><use href="#s" x="292.4" y="372.96"/><use href="#s" x="299.3" y="372.96"/><use href="#s" x="306.2" y="382.3"/><use href="#s" x="313.1" y="386.03"/><use href="#s" x="320" y="387.43"/><use href="#s" x="326.9" y="369.7"/><use href="#s" x="333.8" y="371.1"/><use href="#s" x="340.7" y="377.63"/><use href="#s" x="347.6" y="378.58"/><use href="#s" x="354.5" y="376.23"/><use href="#s" x="361.4" y="381.36"/><use href="#s" x="368.3" y="386.03"/><use href="#s" x="375.2" y="389.75"/><use href="#s" x="382.1" y="383.7"/></g></g><g stroke="#ff0000"><path class="ln" d="M216.5 383.22L223.4 384.62L230.3 389.75L237.2 391.62L244.1 388.35L251 384.62L257.9 379.5L264.8 377.17L271.7 374.37L278.6 368.78L285.5 389.75L292.4 398.15L299.3 394.65L306.2 399.55L313.1 385.57L320 385.57L326.9 392.1L333.8 374.83L340.7 372.96L347.6 372.96L354.5 369.7L361.4 374.83L368.3 372.04L375.2 380.9L382.1 386.95"/><g class="mk"><use href="#s" x="216.5" y="383.22"/><use href="#s" x="223.4" y="384.62"/><use href="#s" x="230.3" y="389.75"/><use href="#s" x="237.2" y="391.62"/><use href="#s" x="244.1" y="388.35"/><use href="#s" x="251" y="384.62"/><use href="#s" x="257.9" y="379.5"/><use href="#s" x="264.8" y="377.17"/><use href="#s" x="271.7" y="374.37"/><use href="#s" x="278.6" y="368.78"/><use href="#s" x="285.5" y="389.75"/><use href="#s" x="292.4" y="398.15"/><use href="#s" x="299.3" y="394.65"/><use href="#s" x="306.2" y="399.55"/><use href="#s" x="313.1" y="385.57"/><use href="#s" x="320" y="385.57"/><use href="#s" x="326.9" y="392.1"/><use href="#s" x="333.8" y="374.83"/><use href="#s" x="340.7" y="372.96"/><use href="#s" x="347.6" y="372.96"/><use href="#s" x="354.5" y="369.7"/><use href="#s" x="361.4" y="374.83"/><use href="#s" x="368.3" y="372.04"/><use href="#s" x="375.2" y="380.9"/><use href="#s" x="382.1" y="386.95"/></g></g></g><path stroke="#000" stroke-width="1.1" fill="none" d="M244.5 433.5v-4M244.5 317v3.2M271.5 433.5v-4M271.5 317v3.2M299.5 433.5v-4M299.5 317v3.2M327.5 433.5v-4M327.5 317v3.2M354.5 433.5v-4M354.5 317v3.2M230.5 433.5v-4M230.5 317v3.2M258.5 433.5v-4M258.5 317v3.2M285.5 433.5v-4M285.5 317v3.2M313.5 433.5v-4M313.5 317v3.2M340.5 433.5v-4M340.5 317v3.2M368.5 433.5v-4M368.5 317v3.2M217 410.5h6M381.6 410.5h-6M217 387.5h6M381.6 387.5h-6M217 364.5h6M381.6 364.5h-6M217 341.5h6M381.6 341.5h-6M217 318.5h6M381.6 318.5h-6"/><path stroke="#000" stroke-width="0.8" fill="none" d="M217 421.5h4M381.6 421.5h-4M217 398.5h4M381.6 398.5h-4M217 375.5h4M381.6 375.5h-4M217 352.5h4M381.6 352.5h-4M217 329.5h4M381.6 329.5h-4"/><path fill="#000" d="M216 315h167v2h-167zM216 315h1v119h-1zM381.5 315h1.5v119h-1.5zM216 433h167v1.5h-167z"/><g fill="#000" stroke="#000" stroke-width="0.3"><text class="t" x="212.5" y="436.4" text-anchor="end">1</text><text class="t" x="212.5" y="413.4" text-anchor="end">11</text><text class="t" x="212.5" y="390.4" text-anchor="end">21</text><text class="t" x="212.5" y="367.4" text-anchor="end">31</text><text class="t" x="212.5" y="344.4" text-anchor="end">41</text><text class="t" x="212.5" y="321.4" text-anchor="end">51</text><text class="t" x="216.8" y="445" text-anchor="middle">0</text><text class="t" x="244.4" y="445" text-anchor="middle">4</text><text class="t" x="272" y="445" text-anchor="middle">8</text><text class="t" x="299.6" y="445" text-anchor="middle">12</text><text class="t" x="327.2" y="445" text-anchor="middle">16</text><text class="t" x="354.8" y="445" text-anchor="middle">20</text><text class="t" x="382.4" y="445" text-anchor="middle">24</text><text class="l" transform="translate(299.5 458.7) scale(1.25 1)" text-anchor="middle">Kwai Chung</text></g>
<clipPath id="k22"><rect x="409.5" y="316" width="165.6" height="118"/></clipPath><path class="gr" d="M437.1 317V433.5M464.7 317V433.5M492.3 317V433.5M519.9 317V433.5M547.5 317V433.5M410 410.5H575.1M410 387.5H575.1M410 364.5H575.1M410 341.5H575.1M410 318.5H575.1"/><g clip-path="url(#k22)"><g stroke="#00ffff"><path class="ln" d="M409.5 367.84L416.4 390.67L423.3 403.6L430.2 411.05L437.1 405.58L444 414.52L450.9 408.57L457.8 396.63L464.7 384.72L471.6 375.77L478.5 357.9L485.4 369.33L492.3 354.56L499.2 356.7L506.1 356.2L513 356.7L519.9 361.67L526.8 345.78L533.7 357.69L540.6 361.67L547.5 364.64L554.4 351.23L561.3 360.68L568.2 368.13L575.1 368.62"/><g class="mk"><use href="#s" x="409.5" y="367.84"/><use href="#s" x="416.4" y="390.67"/><use href="#s" x="423.3" y="403.6"/><use href="#s" x="430.2" y="411.05"/><use href="#s" x="437.1" y="405.58"/><use href="#s" x="444" y="414.52"/><use href="#s" x="450.9" y="408.57"/><use href="#s" x="457.8" y="396.63"/><use href="#s" x="464.7" y="384.72"/><use href="#s" x="471.6" y="375.77"/><use href="#s" x="478.5" y="357.9"/><use href="#s" x="485.4" y="369.33"/><use href="#s" x="492.3" y="354.56"/><use href="#s" x="499.2" y="356.7"/><use href="#s" x="506.1" y="356.2"/><use href="#s" x="513" y="356.7"/><use href="#s" x="519.9" y="361.67"/><use href="#s" x="526.8" y="345.78"/><use href="#s" x="533.7" y="357.69"/><use href="#s" x="540.6" y="361.67"/><use href="#s" x="547.5" y="364.64"/><use href="#s" x="554.4" y="351.23"/><use href="#s" x="561.3" y="360.68"/><use href="#s" x="568.2" y="368.13"/><use href="#s" x="575.1" y="368.62"/></g></g><g stroke="#00ff00"><path class="ln" d="M409.5 368.82L416.4 378.25L423.3 395.64L437.1 402.61L444 411.05L450.9 411.54L457.8 399.62L464.7 388.7L471.6 379.24L478.5 385.71L485.4 373.29L492.3 374.69L499.2 373.58L506.1 383.04L513 373.58L519.9 360.68L526.8 377.06L533.7 368.62L540.6 371.1L547.5 367.12L554.4 365.65L561.3 374.57L568.2 383.04L575.1 391.48"/><g class="mk"><use href="#s" x="409.5" y="368.82"/><use href="#s" x="416.4" y="378.25"/><use href="#s" x="423.3" y="395.64"/><use href="#s" x="437.1" y="402.61"/><use href="#s" x="444" y="411.05"/><use href="#s" x="450.9" y="411.54"/><use href="#s" x="457.8" y="399.62"/><use href="#s" x="464.7" y="388.7"/><use href="#s" x="471.6" y="379.24"/><use href="#s" x="478.5" y="385.71"/><use href="#s" x="485.4" y="373.29"/><use href="#s" x="492.3" y="374.69"/><use href="#s" x="499.2" y="373.58"/><use href="#s" x="506.1" y="383.04"/><use href="#s" x="513" y="373.58"/><use href="#s" x="519.9" y="360.68"/><use href="#s" x="526.8" y="377.06"/><use href="#s" x="533.7" y="368.62"/><use href="#s" x="540.6" y="371.1"/><use href="#s" x="547.5" y="367.12"/><use href="#s" x="554.4" y="365.65"/><use href="#s" x="561.3" y="374.57"/><use href="#s" x="568.2" y="383.04"/><use href="#s" x="575.1" y="391.48"/></g></g><g stroke="#0000ff"><path class="ln" d="M409.5 391.66L416.4 394.15L423.3 405.1L430.2 410.55L437.1 415.51L444 406.57L450.9 407.58L457.8 394.65L464.7 373.79L471.6 352.93L478.5 359.88L485.4 355.9L492.3 350.33L499.2 360.68L506.1 354.22L513 361.16L519.9 347.27L526.8 352.72L533.7 330.87L540.6 323.91L547.5 360.18L554.4 361.67L561.3 369.61L568.2 373.1L575.1 375.08"/><g class="mk"><use href="#s" x="409.5" y="391.66"/><use href="#s" x="416.4" y="394.15"/><use href="#s" x="423.3" y="405.1"/><use href="#s" x="430.2" y="410.55"/><use href="#s" x="437.1" y="415.51"/><use href="#s" x="444" y="406.57"/><use href="#s" x="450.9" y="407.58"/><use href="#s" x="457.8" y="394.65"/><use href="#s" x="464.7" y="373.79"/><use href="#s" x="471.6" y="352.93"/><use href="#s" x="478.5" y="359.88"/><use href="#s" x="485.4" y="355.9"/><use href="#s" x="492.3" y="350.33"/><use href="#s" x="499.2" y="360.68"/><use href="#s" x="506.1" y="354.22"/><use href="#s" x="513" y="361.16"/><use href="#s" x="519.9" y="347.27"/><use href="#s" x="526.8" y="352.72"/><use href="#s" x="533.7" y="330.87"/><use href="#s" x="540.6" y="323.91"/><use href="#s" x="547.5" y="360.18"/><use href="#s" x="554.4" y="361.67"/><use href="#s" x="561.3" y="369.61"/><use href="#s" x="568.2" y="373.1"/><use href="#s" x="575.1" y="375.08"/></g></g><g stroke="#ff0000"><path class="ln" d="M409.5 374.27L416.4 379.75L423.3 396.63L437.1 398.13L444 399.12L450.9 395.64L457.8 383.22L464.7 380.25L471.6 358.89L478.5 371.31L485.4 358.89L492.3 351.34L499.2 360.68L506.1 344.28L513 352.72L519.9 336.83L526.8 324.41L533.7 331.86L540.6 342.79L547.5 340.3L554.4 364.64L561.3 360.18L568.2 349.25L575.1 366.64"/><g class="mk"><use href="#s" x="409.5" y="374.27"/><use href="#s" x="416.4" y="379.75"/><use href="#s" x="423.3" y="396.63"/><use href="#s" x="437.1" y="398.13"/><use href="#s" x="444" y="399.12"/><use href="#s" x="450.9" y="395.64"/><use href="#s" x="457.8" y="383.22"/><use href="#s" x="464.7" y="380.25"/><use href="#s" x="471.6" y="358.89"/><use href="#s" x="478.5" y="371.31"/><use href="#s" x="485.4" y="358.89"/><use href="#s" x="492.3" y="351.34"/><use href="#s" x="499.2" y="360.68"/><use href="#s" x="506.1" y="344.28"/><use href="#s" x="513" y="352.72"/><use href="#s" x="519.9" y="336.83"/><use href="#s" x="526.8" y="324.41"/><use href="#s" x="533.7" y="331.86"/><use href="#s" x="540.6" y="342.79"/><use href="#s" x="547.5" y="340.3"/><use href="#s" x="554.4" y="364.64"/><use href="#s" x="561.3" y="360.18"/><use href="#s" x="568.2" y="349.25"/><use href="#s" x="575.1" y="366.64"/></g></g></g><path stroke="#ff0000" stroke-width="1.1" fill="none" d="M437.5 433.5v-4M437.5 317v3.2M464.5 433.5v-4M464.5 317v3.2M492.5 433.5v-4M492.5 317v3.2M520.5 433.5v-4M520.5 317v3.2M547.5 433.5v-4M547.5 317v3.2M423.5 433.5v-4M423.5 317v3.2M451.5 433.5v-4M451.5 317v3.2M478.5 433.5v-4M478.5 317v3.2M506.5 433.5v-4M506.5 317v3.2M533.5 433.5v-4M533.5 317v3.2M561.5 433.5v-4M561.5 317v3.2M410 410.5h6M574.6 410.5h-6M410 387.5h6M574.6 387.5h-6M410 364.5h6M574.6 364.5h-6M410 341.5h6M574.6 341.5h-6M410 318.5h6M574.6 318.5h-6"/><path stroke="#ff0000" stroke-width="0.8" fill="none" d="M410 421.5h4M574.6 421.5h-4M410 398.5h4M574.6 398.5h-4M410 375.5h4M574.6 375.5h-4M410 352.5h4M574.6 352.5h-4M410 329.5h4M574.6 329.5h-4"/><path fill="#ff0000" d="M409 315h167v2h-167zM409 315h1v119h-1zM574.5 315h1.5v119h-1.5zM409 433h167v1.5h-167z"/><g fill="#ff0000" stroke="#ff0000" stroke-width="0.3"><text class="t" x="405.5" y="436.4" text-anchor="end">1</text><text class="t" x="405.5" y="413.4" text-anchor="end">11</text><text class="t" x="405.5" y="390.4" text-anchor="end">21</text><text class="t" x="405.5" y="367.4" text-anchor="end">31</text><text class="t" x="405.5" y="344.4" text-anchor="end">41</text><text class="t" x="405.5" y="321.4" text-anchor="end">51</text><text class="t" x="409.8" y="445" text-anchor="middle">0</text><text class="t" x="437.4" y="445" text-anchor="middle">4</text><text class="t" x="465" y="445" text-anchor="middle">8</text><text class="t" x="492.6" y="445" text-anchor="middle">12</text><text class="t" x="520.2" y="445" text-anchor="middle">16</text><text class="t" x="547.8" y="445" text-anchor="middle">20</text><text class="t" x="575.4" y="445" text-anchor="middle">24</text><text class="l" transform="translate(492.5 458.7) scale(1.25 1)" text-anchor="middle">Mong Kok</text></g>
<clipPath id="k23"><rect x="602.5" y="316" width="165.6" height="118"/></clipPath><path class="gr" d="M630.1 317V433.5M657.7 317V433.5M685.3 317V433.5M712.9 317V433.5M740.5 317V433.5M603 410.5H768.1M603 387.5H768.1M603 364.5H768.1M603 341.5H768.1M603 318.5H768.1"/><g clip-path="url(#k23)"><g stroke="#00ffff"><path class="ln" d="M602.5 401.16L609.4 414.57L616.3 413.56L623.2 418.53L630.1 421.52L637 422.51L643.9 416.55L650.8 400.66L657.7 384.76L664.6 376.32L671.5 364.89L678.4 360.91L685.3 360.66L692.2 375.82L699.1 356.45L706 381.77L712.9 384.76L719.8 374.83L726.7 372.83L733.6 373.33L740.5 379.29L747.4 389.23L754.3 400.66L761.2 403.65L768.1 404.13"/><g class="mk"><use href="#s" x="602.5" y="401.16"/><use href="#s" x="609.4" y="414.57"/><use href="#s" x="616.3" y="413.56"/><use href="#s" x="623.2" y="418.53"/><use href="#s" x="630.1" y="421.52"/><use href="#s" x="637" y="422.51"/><use href="#s" x="643.9" y="416.55"/><use href="#s" x="650.8" y="400.66"/><use href="#s" x="657.7" y="384.76"/><use href="#s" x="664.6" y="376.32"/><use href="#s" x="671.5" y="364.89"/><use href="#s" x="678.4" y="360.91"/><use href="#s" x="685.3" y="360.66"/><use href="#s" x="692.2" y="375.82"/><use href="#s" x="699.1" y="356.45"/><use href="#s" x="706" y="381.77"/><use href="#s" x="712.9" y="384.76"/><use href="#s" x="719.8" y="374.83"/><use href="#s" x="726.7" y="372.83"/><use href="#s" x="733.6" y="373.33"/><use href="#s" x="740.5" y="379.29"/><use href="#s" x="747.4" y="389.23"/><use href="#s" x="754.3" y="400.66"/><use href="#s" x="761.2" y="403.65"/><use href="#s" x="768.1" y="404.13"/></g></g><g stroke="#00ff00"><path class="ln" d="M602.5 404.13L609.4 406.61L616.3 407.6L623.2 414.57L630.1 418.53L637 419.54L643.9 421.52L650.8 416.04L657.7 410.09L664.6 415.05L671.5 421.01L719.8 404.13L726.7 409.1L733.6 404.13L740.5 396.19L747.4 400.15L754.3 399.67L761.2 410.09L768.1 407.6"/><g class="mk"><use href="#s" x="602.5" y="404.13"/><use href="#s" x="609.4" y="406.61"/><use href="#s" x="616.3" y="407.6"/><use href="#s" x="623.2" y="414.57"/><use href="#s" x="630.1" y="418.53"/><use href="#s" x="637" y="419.54"/><use href="#s" x="643.9" y="421.52"/><use href="#s" x="650.8" y="416.04"/><use href="#s" x="657.7" y="410.09"/><use href="#s" x="664.6" y="415.05"/><use href="#s" x="671.5" y="421.01"/><use href="#s" x="719.8" y="404.13"/><use href="#s" x="726.7" y="409.1"/><use href="#s" x="733.6" y="404.13"/><use href="#s" x="740.5" y="396.19"/><use href="#s" x="747.4" y="400.15"/><use href="#s" x="754.3" y="399.67"/><use href="#s" x="761.2" y="410.09"/><use href="#s" x="768.1" y="407.6"/></g></g><g stroke="#0000ff"><path class="ln" d="M602.5 407.6L609.4 409.1L616.3 415.05L623.2 421.52L630.1 420.02L637 420.02L643.9 418.04L650.8 398.68L657.7 391.71L664.6 382.28L671.5 383.27L678.4 390.72L685.3 360.41L692.2 383.77L699.1 379.8L706 389.73L712.9 373.33L719.8 373.84L726.7 383.27L733.6 383.27L740.5 384.26L747.4 384.26L754.3 388.24L761.2 398.17L768.1 389.73"/><g class="mk"><use href="#s" x="602.5" y="407.6"/><use href="#s" x="609.4" y="409.1"/><use href="#s" x="616.3" y="415.05"/><use href="#s" x="623.2" y="421.52"/><use href="#s" x="630.1" y="420.02"/><use href="#s" x="637" y="420.02"/><use href="#s" x="643.9" y="418.04"/><use href="#s" x="650.8" y="398.68"/><use href="#s" x="657.7" y="391.71"/><use href="#s" x="664.6" y="382.28"/><use href="#s" x="671.5" y="383.27"/><use href="#s" x="678.4" y="390.72"/><use href="#s" x="685.3" y="360.41"/><use href="#s" x="692.2" y="383.77"/><use href="#s" x="699.1" y="379.8"/><use href="#s" x="706" y="389.73"/><use href="#s" x="712.9" y="373.33"/><use href="#s" x="719.8" y="373.84"/><use href="#s" x="726.7" y="383.27"/><use href="#s" x="733.6" y="383.27"/><use href="#s" x="740.5" y="384.26"/><use href="#s" x="747.4" y="384.26"/><use href="#s" x="754.3" y="388.24"/><use href="#s" x="761.2" y="398.17"/><use href="#s" x="768.1" y="389.73"/></g></g><g stroke="#ff0000"><path class="ln" d="M602.5 389.73L609.4 396.68L616.3 404.13L623.2 414.06L637 415.05L643.9 411.58L650.8 396.19L657.7 382.28L664.6 388.74L671.5 389.73L678.4 374.83L685.3 389.73L692.2 381.29L699.1 380.78L706 371.84L712.9 365.88L719.8 371.35L726.7 374.83L733.6 379.8L740.5 389.23L747.4 393.2L754.3 386.74L761.2 379.29L768.1 391.71"/><g class="mk"><use href="#s" x="602.5" y="389.73"/><use href="#s" x="609.4" y="396.68"/><use href="#s" x="616.3" y="404.13"/><use href="#s" x="623.2" y="414.06"/><use href="#s" x="637" y="415.05"/><use href="#s" x="643.9" y="411.58"/><use href="#s" x="650.8" y="396.19"/><use href="#s" x="657.7" y="382.28"/><use href="#s" x="664.6" y="388.74"/><use href="#s" x="671.5" y="389.73"/><use href="#s" x="678.4" y="374.83"/><use href="#s" x="685.3" y="389.73"/><use href="#s" x="692.2" y="381.29"/><use href="#s" x="699.1" y="380.78"/><use href="#s" x="706" y="371.84"/><use href="#s" x="712.9" y="365.88"/><use href="#s" x="719.8" y="371.35"/><use href="#s" x="726.7" y="374.83"/><use href="#s" x="733.6" y="379.8"/><use href="#s" x="740.5" y="389.23"/><use href="#s" x="747.4" y="393.2"/><use href="#s" x="754.3" y="386.74"/><use href="#s" x="761.2" y="379.29"/><use href="#s" x="768.1" y="391.71"/></g></g></g><path stroke="#000" stroke-width="1.1" fill="none" d="M630.5 433.5v-4M630.5 317v3.2M657.5 433.5v-4M657.5 317v3.2M685.5 433.5v-4M685.5 317v3.2M713.5 433.5v-4M713.5 317v3.2M740.5 433.5v-4M740.5 317v3.2M616.5 433.5v-4M616.5 317v3.2M644.5 433.5v-4M644.5 317v3.2M671.5 433.5v-4M671.5 317v3.2M699.5 433.5v-4M699.5 317v3.2M726.5 433.5v-4M726.5 317v3.2M754.5 433.5v-4M754.5 317v3.2M603 410.5h6M767.6 410.5h-6M603 387.5h6M767.6 387.5h-6M603 364.5h6M767.6 364.5h-6M603 341.5h6M767.6 341.5h-6M603 318.5h6M767.6 318.5h-6"/><path stroke="#000" stroke-width="0.8" fill="none" d="M603 421.5h4M767.6 421.5h-4M603 398.5h4M767.6 398.5h-4M603 375.5h4M767.6 375.5h-4M603 352.5h4M767.6 352.5h-4M603 329.5h4M767.6 329.5h-4"/><path fill="#000" d="M602 315h167v2h-167zM602 315h1v119h-1zM767.5 315h1.5v119h-1.5zM602 433h167v1.5h-167z"/><g fill="#000" stroke="#000" stroke-width="0.3"><text class="t" x="598.5" y="436.4" text-anchor="end">1</text><text class="t" x="598.5" y="413.4" text-anchor="end">11</text><text class="t" x="598.5" y="390.4" text-anchor="end">21</text><text class="t" x="598.5" y="367.4" text-anchor="end">31</text><text class="t" x="598.5" y="344.4" text-anchor="end">41</text><text class="t" x="598.5" y="321.4" text-anchor="end">51</text><text class="t" x="602.8" y="445" text-anchor="middle">0</text><text class="t" x="630.4" y="445" text-anchor="middle">4</text><text class="t" x="658" y="445" text-anchor="middle">8</text><text class="t" x="685.6" y="445" text-anchor="middle">12</text><text class="t" x="713.2" y="445" text-anchor="middle">16</text><text class="t" x="740.8" y="445" text-anchor="middle">20</text><text class="t" x="768.4" y="445" text-anchor="middle">24</text><text class="l" transform="translate(685.5 458.7) scale(1.25 1)" text-anchor="middle">Kwun Tong</text></g>
<clipPath id="k24"><rect x="795.5" y="316" width="165.6" height="118"/></clipPath><path class="gr" d="M823.1 317V433.5M850.7 317V433.5M878.3 317V433.5M905.9 317V433.5M933.5 317V433.5M796 410.5H961.1M796 387.5H961.1M796 364.5H961.1M796 341.5H961.1M796 318.5H961.1"/><g clip-path="url(#k24)"><g stroke="#00ffff"><path class="ln" d="M795.5 416.62L802.4 422.21L809.3 416.62L816.2 420.8L823.1 427.34L830 419.88L836.9 418.02L843.8 406.82L850.7 399.37L857.6 404.96L864.5 407.76L871.4 401.23L878.3 402.63L885.2 412.89L892.1 411.49L899 416.16L905.9 408.68L912.8 406.36L919.7 408.68L926.6 408.68L933.5 408.68L940.4 410.55L947.3 411.49L954.2 411.49L961.1 410.55"/><g class="mk"><use href="#s" x="795.5" y="416.62"/><use href="#s" x="802.4" y="422.21"/><use href="#s" x="809.3" y="416.62"/><use href="#s" x="816.2" y="420.8"/><use href="#s" x="823.1" y="427.34"/><use href="#s" x="830" y="419.88"/><use href="#s" x="836.9" y="418.02"/><use href="#s" x="843.8" y="406.82"/><use href="#s" x="850.7" y="399.37"/><use href="#s" x="857.6" y="404.96"/><use href="#s" x="864.5" y="407.76"/><use href="#s" x="871.4" y="401.23"/><use href="#s" x="878.3" y="402.63"/><use href="#s" x="885.2" y="412.89"/><use href="#s" x="892.1" y="411.49"/><use href="#s" x="899" y="416.16"/><use href="#s" x="905.9" y="408.68"/><use href="#s" x="912.8" y="406.36"/><use href="#s" x="919.7" y="408.68"/><use href="#s" x="926.6" y="408.68"/><use href="#s" x="933.5" y="408.68"/><use href="#s" x="940.4" y="410.55"/><use href="#s" x="947.3" y="411.49"/><use href="#s" x="954.2" y="411.49"/><use href="#s" x="961.1" y="410.55"/></g></g><g stroke="#00ff00"><path class="ln" d="M795.5 410.55L802.4 409.63L809.3 411.49L816.2 419.42L823.1 424.55L830 418.02L836.9 415.22L843.8 415.22L850.7 415.68L857.6 420.34L864.5 423.61L871.4 427.34L878.3 427.34L885.2 428.28L892.1 425.01L899 426.88L905.9 427.34L912.8 421.75L919.7 421.29L926.6 417.56L933.5 409.17L940.4 411.49L947.3 412.89L954.2 413.81L961.1 411.03"/><g class="mk"><use href="#s" x="795.5" y="410.55"/><use href="#s" x="802.4" y="409.63"/><use href="#s" x="809.3" y="411.49"/><use href="#s" x="816.2" y="419.42"/><use href="#s" x="823.1" y="424.55"/><use href="#s" x="830" y="418.02"/><use href="#s" x="836.9" y="415.22"/><use href="#s" x="843.8" y="415.22"/><use href="#s" x="850.7" y="415.68"/><use href="#s" x="857.6" y="420.34"/><use href="#s" x="864.5" y="423.61"/><use href="#s" x="871.4" y="427.34"/><use href="#s" x="878.3" y="427.34"/><use href="#s" x="885.2" y="428.28"/><use href="#s" x="892.1" y="425.01"/><use href="#s" x="899" y="426.88"/><use href="#s" x="905.9" y="427.34"/><use href="#s" x="912.8" y="421.75"/><use href="#s" x="919.7" y="421.29"/><use href="#s" x="926.6" y="417.56"/><use href="#s" x="933.5" y="409.17"/><use href="#s" x="940.4" y="411.49"/><use href="#s" x="947.3" y="412.89"/><use href="#s" x="954.2" y="413.81"/><use href="#s" x="961.1" y="411.03"/></g></g><g stroke="#0000ff"><path class="ln" d="M795.5 410.55L802.4 409.63L809.3 412.89L816.2 419.88L823.1 422.69L830 421.75L836.9 411.95L843.8 406.82L850.7 402.63L857.6 408.68L864.5 411.03L871.4 417.08L878.3 416.16L885.2 410.55L892.1 410.09L899 406.36L905.9 412.89L912.8 416.16L919.7 413.35L926.6 406.36L933.5 396.1L940.4 402.63L947.3 401.23L954.2 406.82L961.1 405.9"/><g class="mk"><use href="#s" x="795.5" y="410.55"/><use href="#s" x="802.4" y="409.63"/><use href="#s" x="809.3" y="412.89"/><use href="#s" x="816.2" y="419.88"/><use href="#s" x="823.1" y="422.69"/><use href="#s" x="830" y="421.75"/><use href="#s" x="836.9" y="411.95"/><use href="#s" x="843.8" y="406.82"/><use href="#s" x="850.7" y="402.63"/><use href="#s" x="857.6" y="408.68"/><use href="#s" x="864.5" y="411.03"/><use href="#s" x="871.4" y="417.08"/><use href="#s" x="878.3" y="416.16"/><use href="#s" x="885.2" y="410.55"/><use href="#s" x="892.1" y="410.09"/><use href="#s" x="899" y="406.36"/><use href="#s" x="905.9" y="412.89"/><use href="#s" x="912.8" y="416.16"/><use href="#s" x="919.7" y="413.35"/><use href="#s" x="926.6" y="406.36"/><use href="#s" x="933.5" y="396.1"/><use href="#s" x="940.4" y="402.63"/><use href="#s" x="947.3" y="401.23"/><use href="#s" x="954.2" y="406.82"/><use href="#s" x="961.1" y="405.9"/></g></g><g stroke="#ff0000"><path class="ln" d="M795.5 405.9L802.4 405.42L809.3 406.36L816.2 418.94L823.1 406.36L830 410.55L836.9 404.04L843.8 397.97L850.7 400.29L857.6 412.43L864.5 406.36L871.4 400.29L878.3 409.17L885.2 410.09L892.1 409.17L899 410.09L905.9 408.22L912.8 397.97L919.7 404.04L926.6 401.69L933.5 399.83L940.4 407.3L947.3 394.24L954.2 390.51L961.1 393.3"/><g class="mk"><use href="#s" x="795.5" y="405.9"/><use href="#s" x="802.4" y="405.42"/><use href="#s" x="809.3" y="406.36"/><use href="#s" x="816.2" y="418.94"/><use href="#s" x="823.1" y="406.36"/><use href="#s" x="830" y="410.55"/><use href="#s" x="836.9" y="404.04"/><use href="#s" x="843.8" y="397.97"/><use href="#s" x="850.7" y="400.29"/><use href="#s" x="857.6" y="412.43"/><use href="#s" x="864.5" y="406.36"/><use href="#s" x="871.4" y="400.29"/><use href="#s" x="878.3" y="409.17"/><use href="#s" x="885.2" y="410.09"/><use href="#s" x="892.1" y="409.17"/><use href="#s" x="899" y="410.09"/><use href="#s" x="905.9" y="408.22"/><use href="#s" x="912.8" y="397.97"/><use href="#s" x="919.7" y="404.04"/><use href="#s" x="926.6" y="401.69"/><use href="#s" x="933.5" y="399.83"/><use href="#s" x="940.4" y="407.3"/><use href="#s" x="947.3" y="394.24"/><use href="#s" x="954.2" y="390.51"/><use href="#s" x="961.1" y="393.3"/></g></g></g><path stroke="#000" stroke-width="1.1" fill="none" d="M823.5 433.5v-4M823.5 317v3.2M850.5 433.5v-4M850.5 317v3.2M878.5 433.5v-4M878.5 317v3.2M906.5 433.5v-4M906.5 317v3.2M933.5 433.5v-4M933.5 317v3.2M809.5 433.5v-4M809.5 317v3.2M837.5 433.5v-4M837.5 317v3.2M864.5 433.5v-4M864.5 317v3.2M892.5 433.5v-4M892.5 317v3.2M919.5 433.5v-4M919.5 317v3.2M947.5 433.5v-4M947.5 317v3.2M796 410.5h6M960.6 410.5h-6M796 387.5h6M960.6 387.5h-6M796 364.5h6M960.6 364.5h-6M796 341.5h6M960.6 341.5h-6M796 318.5h6M960.6 318.5h-6"/><path stroke="#000" stroke-width="0.8" fill="none" d="M796 421.5h4M960.6 421.5h-4M796 398.5h4M960.6 398.5h-4M796 375.5h4M960.6 375.5h-4M796 352.5h4M960.6 352.5h-4M796 329.5h4M960.6 329.5h-4"/><path fill="#000" d="M795 315h167v2h-167zM795 315h1v119h-1zM960.5 315h1.5v119h-1.5zM795 433h167v1.5h-167z"/><g fill="#000" stroke="#000" stroke-width="0.3"><text class="t" x="791.5" y="436.4" text-anchor="end">1</text><text class="t" x="791.5" y="413.4" text-anchor="end">11</text><text class="t" x="791.5" y="390.4" text-anchor="end">21</text><text class="t" x="791.5" y="367.4" text-anchor="end">31</text><text class="t" x="791.5" y="344.4" text-anchor="end">41</text><text class="t" x="791.5" y="321.4" text-anchor="end">51</text><text class="t" x="795.8" y="445" text-anchor="middle">0</text><text class="t" x="823.4" y="445" text-anchor="middle">4</text><text class="t" x="851" y="445" text-anchor="middle">8</text><text class="t" x="878.6" y="445" text-anchor="middle">12</text><text class="t" x="906.2" y="445" text-anchor="middle">16</text><text class="t" x="933.8" y="445" text-anchor="middle">20</text><text class="t" x="961.4" y="445" text-anchor="middle">24</text><text class="l" transform="translate(878.5 458.7) scale(1.25 1)" text-anchor="middle">Tseung Kwan O</text></g>
</g>
<g>
<rect x="0" y="459" width="965" height="148" fill="#fff"/>
<clipPath id="k30"><rect x="23.5" y="464" width="165.6" height="118"/></clipPath><path class="gr" d="M51.1 465V581.5M78.7 465V581.5M106.3 465V581.5M133.9 465V581.5M161.5 465V581.5M24 558.5H189.1M24 535.5H189.1M24 512.5H189.1M24 489.5H189.1M24 466.5H189.1"/><g clip-path="url(#k30)"><g stroke="#00ffff"><path class="ln" d="M23.5 555.76L30.4 559.95L37.3 563.67L44.2 561.35L51.1 557.63L58 562.75L64.9 564.16L71.8 560.89L78.7 563.22L85.6 565.56L92.5 567.42L99.4 567.88L106.3 569.29L113.2 566.02L120.1 564.16L127 564.16L133.9 560.89L140.8 561.35L147.7 562.29L154.6 553.42L161.5 559.95L168.4 559.95L175.3 551.09L182.2 552.96L189.1 540.84"/><g class="mk"><use href="#s" x="23.5" y="555.76"/><use href="#s" x="30.4" y="559.95"/><use href="#s" x="37.3" y="563.67"/><use href="#s" x="44.2" y="561.35"/><use href="#s" x="51.1" y="557.63"/><use href="#s" x="58" y="562.75"/><use href="#s" x="64.9" y="564.16"/><use href="#s" x="71.8" y="560.89"/><use href="#s" x="78.7" y="563.22"/><use href="#s" x="85.6" y="565.56"/><use href="#s" x="92.5" y="567.42"/><use href="#s" x="99.4" y="567.88"/><use href="#s" x="106.3" y="569.29"/><use href="#s" x="113.2" y="566.02"/><use href="#s" x="120.1" y="564.16"/><use href="#s" x="127" y="564.16"/><use href="#s" x="133.9" y="560.89"/><use href="#s" x="140.8" y="561.35"/><use href="#s" x="147.7" y="562.29"/><use href="#s" x="154.6" y="553.42"/><use href="#s" x="161.5" y="559.95"/><use href="#s" x="168.4" y="559.95"/><use href="#s" x="175.3" y="551.09"/><use href="#s" x="182.2" y="552.96"/><use href="#s" x="189.1" y="540.84"/></g></g><g stroke="#00ff00"><path class="ln" d="M23.5 541.3L30.4 564.62L37.3 565.08L44.2 565.08L51.1 569.29L58 569.29L64.9 564.62L71.8 568.34L78.7 572.07L85.6 571.61L92.5 571.61L99.4 574.42L106.3 575.82L113.2 571.15L120.1 571.61L127 572.55L133.9 575.34L140.8 569.75L147.7 566.02L154.6 559.95L161.5 569.75L168.4 567.88L175.3 566.94L182.2 566.48L189.1 562.29"/><g class="mk"><use href="#s" x="23.5" y="541.3"/><use href="#s" x="30.4" y="564.62"/><use href="#s" x="37.3" y="565.08"/><use href="#s" x="44.2" y="565.08"/><use href="#s" x="51.1" y="569.29"/><use href="#s" x="58" y="569.29"/><use href="#s" x="64.9" y="564.62"/><use href="#s" x="71.8" y="568.34"/><use href="#s" x="78.7" y="572.07"/><use href="#s" x="85.6" y="571.61"/><use href="#s" x="92.5" y="571.61"/><use href="#s" x="99.4" y="574.42"/><use href="#s" x="106.3" y="575.82"/><use href="#s" x="113.2" y="571.15"/><use href="#s" x="120.1" y="571.61"/><use href="#s" x="127" y="572.55"/><use href="#s" x="133.9" y="575.34"/><use href="#s" x="140.8" y="569.75"/><use href="#s" x="147.7" y="566.02"/><use href="#s" x="154.6" y="559.95"/><use href="#s" x="161.5" y="569.75"/><use href="#s" x="168.4" y="567.88"/><use href="#s" x="175.3" y="566.94"/><use href="#s" x="182.2" y="566.48"/><use href="#s" x="189.1" y="562.29"/></g></g><g stroke="#0000ff"><path class="ln" d="M23.5 562.29L30.4 570.21L37.3 571.15L44.2 572.07L51.1 574.88L58 568.34L64.9 573.01L71.8 564.16L78.7 559.03L85.6 561.35L92.5 563.67L99.4 566.48L106.3 568.8L113.2 568.34L120.1 566.48L127 567.88L133.9 564.62L140.8 567.42L147.7 567.42L154.6 562.29L161.5 566.02L168.4 564.16L175.3 566.94L182.2 564.16L189.1 564.62"/><g class="mk"><use href="#s" x="23.5" y="562.29"/><use href="#s" x="30.4" y="570.21"/><use href="#s" x="37.3" y="571.15"/><use href="#s" x="44.2" y="572.07"/><use href="#s" x="51.1" y="574.88"/><use href="#s" x="58" y="568.34"/><use href="#s" x="64.9" y="573.01"/><use href="#s" x="71.8" y="564.16"/><use href="#s" x="78.7" y="559.03"/><use href="#s" x="85.6" y="561.35"/><use href="#s" x="92.5" y="563.67"/><use href="#s" x="99.4" y="566.48"/><use href="#s" x="106.3" y="568.8"/><use href="#s" x="113.2" y="568.34"/><use href="#s" x="120.1" y="566.48"/><use href="#s" x="127" y="567.88"/><use href="#s" x="133.9" y="564.62"/><use href="#s" x="140.8" y="567.42"/><use href="#s" x="147.7" y="567.42"/><use href="#s" x="154.6" y="562.29"/><use href="#s" x="161.5" y="566.02"/><use href="#s" x="168.4" y="564.16"/><use href="#s" x="175.3" y="566.94"/><use href="#s" x="182.2" y="564.16"/><use href="#s" x="189.1" y="564.62"/></g></g><g stroke="#ff0000"><path class="ln" d="M23.5 564.62L30.4 570.21L37.3 565.08L44.2 565.08L51.1 566.94L58 568.34L64.9 564.16L71.8 568.34L78.7 568.8L85.6 568.8L92.5 571.15L99.4 571.15L106.3 571.38L113.2 570.21L120.1 569.75L127 567.88L133.9 566.48L140.8 567.88L147.7 567.42L154.6 561.35L161.5 562.29L168.4 563.67L175.3 565.56L182.2 555.3L189.1 554.36"/><g class="mk"><use href="#s" x="23.5" y="564.62"/><use href="#s" x="30.4" y="570.21"/><use href="#s" x="37.3" y="565.08"/><use href="#s" x="44.2" y="565.08"/><use href="#s" x="51.1" y="566.94"/><use href="#s" x="58" y="568.34"/><use href="#s" x="64.9" y="564.16"/><use href="#s" x="71.8" y="568.34"/><use href="#s" x="78.7" y="568.8"/><use href="#s" x="85.6" y="568.8"/><use href="#s" x="92.5" y="571.15"/><use href="#s" x="99.4" y="571.15"/><use href="#s" x="106.3" y="571.38"/><use href="#s" x="113.2" y="570.21"/><use href="#s" x="120.1" y="569.75"/><use href="#s" x="127" y="567.88"/><use href="#s" x="133.9" y="566.48"/><use href="#s" x="140.8" y="567.88"/><use href="#s" x="147.7" y="567.42"/><use href="#s" x="154.6" y="561.35"/><use href="#s" x="161.5" y="562.29"/><use href="#s" x="168.4" y="563.67"/><use href="#s" x="175.3" y="565.56"/><use href="#s" x="182.2" y="555.3"/><use href="#s" x="189.1" y="554.36"/></g></g></g><path stroke="#000" stroke-width="1.1" fill="none" d="M51.5 581.5v-4M51.5 465v3.2M78.5 581.5v-4M78.5 465v3.2M106.5 581.5v-4M106.5 465v3.2M134.5 581.5v-4M134.5 465v3.2M161.5 581.5v-4M161.5 465v3.2M37.5 581.5v-4M37.5 465v3.2M65.5 581.5v-4M65.5 465v3.2M92.5 581.5v-4M92.5 465v3.2M120.5 581.5v-4M120.5 465v3.2M147.5 581.5v-4M147.5 465v3.2M175.5 581.5v-4M175.5 465v3.2M24 558.5h6M188.6 558.5h-6M24 535.5h6M188.6 535.5h-6M24 512.5h6M188.6 512.5h-6M24 489.5h6M188.6 489.5h-6M24 466.5h6M188.6 466.5h-6"/><path stroke="#000" stroke-width="0.8" fill="none" d="M24 569.5h4M188.6 569.5h-4M24 546.5h4M188.6 546.5h-4M24 523.5h4M188.6 523.5h-4M24 500.5h4M188.6 500.5h-4M24 477.5h4M188.6 477.5h-4"/><path fill="#000" d="M23 463h167v2h-167zM23 463h1v119h-1zM188.5 463h1.5v119h-1.5zM23 581h167v1.5h-167z"/><g fill="#000" stroke="#000" stroke-width="0.3"><text class="t" x="19.5" y="584.4" text-anchor="end">1</text><text class="t" x="19.5" y="561.4" text-anchor="end">11</text><text class="t" x="19.5" y="538.4" text-anchor="end">21</text><text class="t" x="19.5" y="515.4" text-anchor="end">31</text><text class="t" x="19.5" y="492.4" text-anchor="end">41</text><text class="t" x="19.5" y="469.4" text-anchor="end">51</text><text class="t" x="23.8" y="593" text-anchor="middle">0</text><text class="t" x="51.4" y="593" text-anchor="middle">4</text><text class="t" x="79" y="593" text-anchor="middle">8</text><text class="t" x="106.6" y="593" text-anchor="middle">12</text><text class="t" x="134.2" y="593" text-anchor="middle">16</text><text class="t" x="161.8" y="593" text-anchor="middle">20</text><text class="t" x="189.4" y="593" text-anchor="middle">24</text><text class="l" transform="translate(106.5 606.7) scale(1.25 1)" text-anchor="middle">Airport, Pump House 1</text></g>
<clipPath id="k31"><rect x="216.5" y="464" width="165.6" height="118"/></clipPath><path class="gr" d="M244.1 465V581.5M271.7 465V581.5M299.3 465V581.5M326.9 465V581.5M354.5 465V581.5M217 558.5H382.1M217 535.5H382.1M217 512.5H382.1M217 489.5H382.1M217 466.5H382.1"/><g clip-path="url(#k31)"><g stroke="#00ffff"><path class="ln" d="M216.5 571.52L223.4 566.39L230.3 569.65L237.2 574.78L244.1 576.19L251 579.91L257.9 575.24L264.8 560.8L271.7 564.07L278.6 568.71L285.5 571.98L292.4 570.6L299.3 572.92L306.2 573.38L313.1 565.93L320 574.32L326.9 564.99L333.8 565.93L340.7 567.79L347.6 558.94L354.5 555.67L361.4 562.2L368.3 568.71L375.2 569.2L382.1 571.06"/><g class="mk"><use href="#s" x="216.5" y="571.52"/><use href="#s" x="223.4" y="566.39"/><use href="#s" x="230.3" y="569.65"/><use href="#s" x="237.2" y="574.78"/><use href="#s" x="244.1" y="576.19"/><use href="#s" x="251" y="579.91"/><use href="#s" x="257.9" y="575.24"/><use href="#s" x="264.8" y="560.8"/><use href="#s" x="271.7" y="564.07"/><use href="#s" x="278.6" y="568.71"/><use href="#s" x="285.5" y="571.98"/><use href="#s" x="292.4" y="570.6"/><use href="#s" x="299.3" y="572.92"/><use href="#s" x="306.2" y="573.38"/><use href="#s" x="313.1" y="565.93"/><use href="#s" x="320" y="574.32"/><use href="#s" x="326.9" y="564.99"/><use href="#s" x="333.8" y="565.93"/><use href="#s" x="340.7" y="567.79"/><use href="#s" x="347.6" y="558.94"/><use href="#s" x="354.5" y="555.67"/><use href="#s" x="361.4" y="562.2"/><use href="#s" x="368.3" y="568.71"/><use href="#s" x="375.2" y="569.2"/><use href="#s" x="382.1" y="571.06"/></g></g><g stroke="#00ff00"><path class="ln" d="M216.5 571.06L223.4 571.98L230.3 573.38L237.2 573.84L244.1 574.78L251 567.33L257.9 565.47L264.8 564.99L271.7 565.93L278.6 569.2L285.5 571.06L292.4 566.39L299.3 569.2L306.2 570.6L313.1 569.65L320 570.6L326.9 571.52L333.8 570.12L340.7 574.32L347.6 566.85L354.5 564.99L361.4 566.85L368.3 567.79L375.2 571.52L382.1 572.92"/><g class="mk"><use href="#s" x="216.5" y="571.06"/><use href="#s" x="223.4" y="571.98"/><use href="#s" x="230.3" y="573.38"/><use href="#s" x="237.2" y="573.84"/><use href="#s" x="244.1" y="574.78"/><use href="#s" x="251" y="567.33"/><use href="#s" x="257.9" y="565.47"/><use href="#s" x="264.8" y="564.99"/><use href="#s" x="271.7" y="565.93"/><use href="#s" x="278.6" y="569.2"/><use href="#s" x="285.5" y="571.06"/><use href="#s" x="292.4" y="566.39"/><use href="#s" x="299.3" y="569.2"/><use href="#s" x="306.2" y="570.6"/><use href="#s" x="313.1" y="569.65"/><use href="#s" x="320" y="570.6"/><use href="#s" x="326.9" y="571.52"/><use href="#s" x="333.8" y="570.12"/><use href="#s" x="340.7" y="574.32"/><use href="#s" x="347.6" y="566.85"/><use href="#s" x="354.5" y="564.99"/><use href="#s" x="361.4" y="566.85"/><use href="#s" x="368.3" y="567.79"/><use href="#s" x="375.2" y="571.52"/><use href="#s" x="382.1" y="572.92"/></g></g><g stroke="#0000ff"><path class="ln" d="M216.5 572.92L223.4 575.24L230.3 576.19L237.2 576.19L244.1 575.73L251 576.65L257.9 577.11L264.8 575.24L271.7 562.2L278.6 560.8L285.5 566.85L292.4 560.8L299.3 561.72L306.2 570.6L313.1 567.33L320 560.8L326.9 564.07L333.8 563.12L340.7 571.06L347.6 572.92L354.5 566.39L361.4 564.07L368.3 567.33L375.2 563.12L382.1 571.98"/><g class="mk"><use href="#s" x="216.5" y="572.92"/><use href="#s" x="223.4" y="575.24"/><use href="#s" x="230.3" y="576.19"/><use href="#s" x="237.2" y="576.19"/><use href="#s" x="244.1" y="575.73"/><use href="#s" x="251" y="576.65"/><use href="#s" x="257.9" y="577.11"/><use href="#s" x="264.8" y="575.24"/><use href="#s" x="271.7" y="562.2"/><use href="#s" x="278.6" y="560.8"/><use href="#s" x="285.5" y="566.85"/><use href="#s" x="292.4" y="560.8"/><use href="#s" x="299.3" y="561.72"/><use href="#s" x="306.2" y="570.6"/><use href="#s" x="313.1" y="567.33"/><use href="#s" x="320" y="560.8"/><use href="#s" x="326.9" y="564.07"/><use href="#s" x="333.8" y="563.12"/><use href="#s" x="340.7" y="571.06"/><use href="#s" x="347.6" y="572.92"/><use href="#s" x="354.5" y="566.39"/><use href="#s" x="361.4" y="564.07"/><use href="#s" x="368.3" y="567.33"/><use href="#s" x="375.2" y="563.12"/><use href="#s" x="382.1" y="571.98"/></g></g><g stroke="#ff0000"><path class="ln" d="M216.5 571.52L223.4 571.52L230.3 572.92L237.2 572.92L244.1 575.24L251 576.65L257.9 571.06L264.8 563.12L271.7 567.33L278.6 570.6L285.5 572.46L292.4 565.93L299.3 566.85L306.2 565.47L313.1 570.12L320 575.24L326.9 567.79L333.8 569.65L340.7 571.52L347.6 571.98L354.5 571.52L361.4 570.12L368.3 567.33L375.2 568.25L382.1 570.12"/><g class="mk"><use href="#s" x="216.5" y="571.52"/><use href="#s" x="223.4" y="571.52"/><use href="#s" x="230.3" y="572.92"/><use href="#s" x="237.2" y="572.92"/><use href="#s" x="244.1" y="575.24"/><use href="#s" x="251" y="576.65"/><use href="#s" x="257.9" y="571.06"/><use href="#s" x="264.8" y="563.12"/><use href="#s" x="271.7" y="567.33"/><use href="#s" x="278.6" y="570.6"/><use href="#s" x="285.5" y="572.46"/><use href="#s" x="292.4" y="565.93"/><use href="#s" x="299.3" y="566.85"/><use href="#s" x="306.2" y="565.47"/><use href="#s" x="313.1" y="570.12"/><use href="#s" x="320" y="575.24"/><use href="#s" x="326.9" y="567.79"/><use href="#s" x="333.8" y="569.65"/><use href="#s" x="340.7" y="571.52"/><use href="#s" x="347.6" y="571.98"/><use href="#s" x="354.5" y="571.52"/><use href="#s" x="361.4" y="570.12"/><use href="#s" x="368.3" y="567.33"/><use href="#s" x="375.2" y="568.25"/><use href="#s" x="382.1" y="570.12"/></g></g></g><path stroke="#000" stroke-width="1.1" fill="none" d="M244.5 581.5v-4M244.5 465v3.2M271.5 581.5v-4M271.5 465v3.2M299.5 581.5v-4M299.5 465v3.2M327.5 581.5v-4M327.5 465v3.2M354.5 581.5v-4M354.5 465v3.2M230.5 581.5v-4M230.5 465v3.2M258.5 581.5v-4M258.5 465v3.2M285.5 581.5v-4M285.5 465v3.2M313.5 581.5v-4M313.5 465v3.2M340.5 581.5v-4M340.5 465v3.2M368.5 581.5v-4M368.5 465v3.2M217 558.5h6M381.6 558.5h-6M217 535.5h6M381.6 535.5h-6M217 512.5h6M381.6 512.5h-6M217 489.5h6M381.6 489.5h-6M217 466.5h6M381.6 466.5h-6"/><path stroke="#000" stroke-width="0.8" fill="none" d="M217 569.5h4M381.6 569.5h-4M217 546.5h4M381.6 546.5h-4M217 523.5h4M381.6 523.5h-4M217 500.5h4M381.6 500.5h-4M217 477.5h4M381.6 477.5h-4"/><path fill="#000" d="M216 463h167v2h-167zM216 463h1v119h-1zM381.5 463h1.5v119h-1.5zM216 581h167v1.5h-167z"/><g fill="#000" stroke="#000" stroke-width="0.3"><text class="t" x="212.5" y="584.4" text-anchor="end">1</text><text class="t" x="212.5" y="561.4" text-anchor="end">11</text><text class="t" x="212.5" y="538.4" text-anchor="end">21</text><text class="t" x="212.5" y="515.4" text-anchor="end">31</text><text class="t" x="212.5" y="492.4" text-anchor="end">41</text><text class="t" x="212.5" y="469.4" text-anchor="end">51</text><text class="t" x="216.8" y="593" text-anchor="middle">0</text><text class="t" x="244.4" y="593" text-anchor="middle">4</text><text class="t" x="272" y="593" text-anchor="middle">8</text><text class="t" x="299.6" y="593" text-anchor="middle">12</text><text class="t" x="327.2" y="593" text-anchor="middle">16</text><text class="t" x="354.8" y="593" text-anchor="middle">20</text><text class="t" x="382.4" y="593" text-anchor="middle">24</text><text class="l" transform="translate(299.5 606.7) scale(1.25 1)" text-anchor="middle">Central/Western</text></g>
<clipPath id="k32"><rect x="409.5" y="464" width="165.6" height="118"/></clipPath><path class="gr" d="M437.1 465V581.5M464.7 465V581.5M492.3 465V581.5M519.9 465V581.5M547.5 465V581.5M410 558.5H575.1M410 535.5H575.1M410 512.5H575.1M410 489.5H575.1M410 466.5H575.1"/><g clip-path="url(#k32)"><g stroke="#00ffff"><path class="ln" d="M409.5 528L416.4 542.56L423.3 550.52L430.2 547.87L437.1 547.87L444 549.85L450.9 542.56L457.8 535.29L464.7 520.73L471.6 493.57L478.5 483.66L485.4 500.86L492.3 492.26L499.2 500.19L506.1 517.42L513 531.31L519.9 524.02L526.8 528.67L533.7 498.88L540.6 525.36L547.5 538.61L554.4 541.25L561.3 553.83L568.2 551.83L575.1 558.45"/><g class="mk"><use href="#s" x="409.5" y="528"/><use href="#s" x="416.4" y="542.56"/><use href="#s" x="423.3" y="550.52"/><use href="#s" x="430.2" y="547.87"/><use href="#s" x="437.1" y="547.87"/><use href="#s" x="444" y="549.85"/><use href="#s" x="450.9" y="542.56"/><use href="#s" x="457.8" y="535.29"/><use href="#s" x="464.7" y="520.73"/><use href="#s" x="471.6" y="493.57"/><use href="#s" x="478.5" y="483.66"/><use href="#s" x="485.4" y="500.86"/><use href="#s" x="492.3" y="492.26"/><use href="#s" x="499.2" y="500.19"/><use href="#s" x="506.1" y="517.42"/><use href="#s" x="513" y="531.31"/><use href="#s" x="519.9" y="524.02"/><use href="#s" x="526.8" y="528.67"/><use href="#s" x="533.7" y="498.88"/><use href="#s" x="540.6" y="525.36"/><use href="#s" x="547.5" y="538.61"/><use href="#s" x="554.4" y="541.25"/><use href="#s" x="561.3" y="553.83"/><use href="#s" x="568.2" y="551.83"/><use href="#s" x="575.1" y="558.45"/></g></g><g stroke="#00ff00"><path class="ln" d="M409.5 558.45L416.4 551.83L423.3 559.79L430.2 562.43L437.1 573.04L444 559.79L450.9 551.19L457.8 554.5L464.7 561.77L471.6 558.45L478.5 548.52L485.4 551.83L492.3 551.19L499.2 555.14L506.1 554.5L513 559.12L519.9 551.83L526.8 561.1L533.7 561.1L540.6 541.25L547.5 549.85L554.4 544.56L561.3 547.21L568.2 545.87L575.1 547.21"/><g class="mk"><use href="#s" x="409.5" y="558.45"/><use href="#s" x="416.4" y="551.83"/><use href="#s" x="423.3" y="559.79"/><use href="#s" x="430.2" y="562.43"/><use href="#s" x="437.1" y="573.04"/><use href="#s" x="444" y="559.79"/><use href="#s" x="450.9" y="551.19"/><use href="#s" x="457.8" y="554.5"/><use href="#s" x="464.7" y="561.77"/><use href="#s" x="471.6" y="558.45"/><use href="#s" x="478.5" y="548.52"/><use href="#s" x="485.4" y="551.83"/><use href="#s" x="492.3" y="551.19"/><use href="#s" x="499.2" y="555.14"/><use href="#s" x="506.1" y="554.5"/><use href="#s" x="513" y="559.12"/><use href="#s" x="519.9" y="551.83"/><use href="#s" x="526.8" y="561.1"/><use href="#s" x="533.7" y="561.1"/><use href="#s" x="540.6" y="541.25"/><use href="#s" x="547.5" y="549.85"/><use href="#s" x="554.4" y="544.56"/><use href="#s" x="561.3" y="547.21"/><use href="#s" x="568.2" y="545.87"/><use href="#s" x="575.1" y="547.21"/></g></g><g stroke="#0000ff"><path class="ln" d="M409.5 547.21L416.4 548.52L423.3 554.5L430.2 559.79L437.1 566.41L444 561.1L450.9 561.1L457.8 559.12L464.7 554.5L471.6 524.69L478.5 536.6L485.4 521.38L492.3 494.91L499.2 516.75L506.1 516.75L513 528L519.9 547.21L526.8 540.58L533.7 535.29L540.6 535.29L547.5 524.02L554.4 533.29L561.3 536.6L568.2 536.6L575.1 536.6"/><g class="mk"><use href="#s" x="409.5" y="547.21"/><use href="#s" x="416.4" y="548.52"/><use href="#s" x="423.3" y="554.5"/><use href="#s" x="430.2" y="559.79"/><use href="#s" x="437.1" y="566.41"/><use href="#s" x="444" y="561.1"/><use href="#s" x="450.9" y="561.1"/><use href="#s" x="457.8" y="559.12"/><use href="#s" x="464.7" y="554.5"/><use href="#s" x="471.6" y="524.69"/><use href="#s" x="478.5" y="536.6"/><use href="#s" x="485.4" y="521.38"/><use href="#s" x="492.3" y="494.91"/><use href="#s" x="499.2" y="516.75"/><use href="#s" x="506.1" y="516.75"/><use href="#s" x="513" y="528"/><use href="#s" x="519.9" y="547.21"/><use href="#s" x="526.8" y="540.58"/><use href="#s" x="533.7" y="535.29"/><use href="#s" x="540.6" y="535.29"/><use href="#s" x="547.5" y="524.02"/><use href="#s" x="554.4" y="533.29"/><use href="#s" x="561.3" y="536.6"/><use href="#s" x="568.2" y="536.6"/><use href="#s" x="575.1" y="536.6"/></g></g><g stroke="#ff0000"><path class="ln" d="M409.5 535.96L416.4 543.23L423.3 546.54L430.2 547.87L437.1 561.77L444 557.79L450.9 559.12L457.8 551.83L464.7 539.27L471.6 518.07L478.5 516.75L485.4 532.65L492.3 522.71L499.2 536.6L506.1 520.73L513 524.02L519.9 500.86L526.8 520.73L533.7 520.73L540.6 508.15L547.5 507.49L554.4 516.75L561.3 524.69L568.2 514.11L575.1 525.36"/><g class="mk"><use href="#s" x="409.5" y="535.96"/><use href="#s" x="416.4" y="543.23"/><use href="#s" x="423.3" y="546.54"/><use href="#s" x="430.2" y="547.87"/><use href="#s" x="437.1" y="561.77"/><use href="#s" x="444" y="557.79"/><use href="#s" x="450.9" y="559.12"/><use href="#s" x="457.8" y="551.83"/><use href="#s" x="464.7" y="539.27"/><use href="#s" x="471.6" y="518.07"/><use href="#s" x="478.5" y="516.75"/><use href="#s" x="485.4" y="532.65"/><use href="#s" x="492.3" y="522.71"/><use href="#s" x="499.2" y="536.6"/><use href="#s" x="506.1" y="520.73"/><use href="#s" x="513" y="524.02"/><use href="#s" x="519.9" y="500.86"/><use href="#s" x="526.8" y="520.73"/><use href="#s" x="533.7" y="520.73"/><use href="#s" x="540.6" y="508.15"/><use href="#s" x="547.5" y="507.49"/><use href="#s" x="554.4" y="516.75"/><use href="#s" x="561.3" y="524.69"/><use href="#s" x="568.2" y="514.11"/><use href="#s" x="575.1" y="525.36"/></g></g></g><path stroke="#ff0000" stroke-width="1.1" fill="none" d="M437.5 581.5v-4M437.5 465v3.2M464.5 581.5v-4M464.5 465v3.2M492.5 581.5v-4M492.5 465v3.2M520.5 581.5v-4M520.5 465v3.2M547.5 581.5v-4M547.5 465v3.2M423.5 581.5v-4M423.5 465v3.2M451.5 581.5v-4M451.5 465v3.2M478.5 581.5v-4M478.5 465v3.2M506.5 581.5v-4M506.5 465v3.2M533.5 581.5v-4M533.5 465v3.2M561.5 581.5v-4M561.5 465v3.2M410 558.5h6M574.6 558.5h-6M410 535.5h6M574.6 535.5h-6M410 512.5h6M574.6 512.5h-6M410 489.5h6M574.6 489.5h-6M410 466.5h6M574.6 466.5h-6"/><path stroke="#ff0000" stroke-width="0.8" fill="none" d="M410 569.5h4M574.6 569.5h-4M410 546.5h4M574.6 546.5h-4M410 523.5h4M574.6 523.5h-4M410 500.5h4M574.6 500.5h-4M410 477.5h4M574.6 477.5h-4"/><path fill="#ff0000" d="M409 463h167v2h-167zM409 463h1v119h-1zM574.5 463h1.5v119h-1.5zM409 581h167v1.5h-167z"/><g fill="#ff0000" stroke="#ff0000" stroke-width="0.3"><text class="t" x="405.5" y="584.4" text-anchor="end">1</text><text class="t" x="405.5" y="561.4" text-anchor="end">11</text><text class="t" x="405.5" y="538.4" text-anchor="end">21</text><text class="t" x="405.5" y="515.4" text-anchor="end">31</text><text class="t" x="405.5" y="492.4" text-anchor="end">41</text><text class="t" x="405.5" y="469.4" text-anchor="end">51</text><text class="t" x="409.8" y="593" text-anchor="middle">0</text><text class="t" x="437.4" y="593" text-anchor="middle">4</text><text class="t" x="465" y="593" text-anchor="middle">8</text><text class="t" x="492.6" y="593" text-anchor="middle">12</text><text class="t" x="520.2" y="593" text-anchor="middle">16</text><text class="t" x="547.8" y="593" text-anchor="middle">20</text><text class="t" x="575.4" y="593" text-anchor="middle">24</text><text class="l" transform="translate(492.5 606.7) scale(1.25 1)" text-anchor="middle">Central</text></g>
<clipPath id="k33"><rect x="602.5" y="464" width="165.6" height="118"/></clipPath><path class="gr" d="M630.1 465V581.5M657.7 465V581.5M685.3 465V581.5M712.9 465V581.5M740.5 465V581.5M603 558.5H768.1M603 535.5H768.1M603 512.5H768.1M603 489.5H768.1M603 466.5H768.1"/><g clip-path="url(#k33)"><g stroke="#00ffff"><path class="ln" d="M602.5 536.6L609.4 547.87L616.3 555.14L623.2 550.52L637 560.46L643.9 555.81L650.8 543.23L657.7 526.02L664.6 526.02L671.5 514.11L678.4 529.34L685.3 509.42L692.2 494.17L699.1 489.52L706 488.86L712.9 504.75L719.8 499.46L726.7 514.68L733.6 504.08L740.5 524.62L747.4 529.91L754.3 529.91L761.2 516.02L768.1 541.83"/><g class="mk"><use href="#s" x="602.5" y="536.6"/><use href="#s" x="609.4" y="547.87"/><use href="#s" x="616.3" y="555.14"/><use href="#s" x="623.2" y="550.52"/><use href="#s" x="637" y="560.46"/><use href="#s" x="643.9" y="555.81"/><use href="#s" x="650.8" y="543.23"/><use href="#s" x="657.7" y="526.02"/><use href="#s" x="664.6" y="526.02"/><use href="#s" x="671.5" y="514.11"/><use href="#s" x="678.4" y="529.34"/><use href="#s" x="685.3" y="509.42"/><use href="#s" x="692.2" y="494.17"/><use href="#s" x="699.1" y="489.52"/><use href="#s" x="706" y="488.86"/><use href="#s" x="712.9" y="504.75"/><use href="#s" x="719.8" y="499.46"/><use href="#s" x="726.7" y="514.68"/><use href="#s" x="733.6" y="504.08"/><use href="#s" x="740.5" y="524.62"/><use href="#s" x="747.4" y="529.91"/><use href="#s" x="754.3" y="529.91"/><use href="#s" x="761.2" y="516.02"/><use href="#s" x="768.1" y="541.83"/></g></g><g stroke="#00ff00"><path class="ln" d="M602.5 539.92L609.4 557.79L616.3 561.77L623.2 573.04L630.1 565.08L637 551.83L643.9 553.83L650.8 547.21L657.7 551.83L664.6 548.52L671.5 541.25L678.4 536.6L685.3 526.64L692.2 534.56L699.1 538.51L706 533.89L712.9 539.18L719.8 543.83L726.7 555.07L733.6 541.16L740.5 540.51L747.4 549.78L754.3 530.58L761.2 547.78L768.1 541.83"/><g class="mk"><use href="#s" x="602.5" y="539.92"/><use href="#s" x="609.4" y="557.79"/><use href="#s" x="616.3" y="561.77"/><use href="#s" x="623.2" y="573.04"/><use href="#s" x="630.1" y="565.08"/><use href="#s" x="637" y="551.83"/><use href="#s" x="643.9" y="553.83"/><use href="#s" x="650.8" y="547.21"/><use href="#s" x="657.7" y="551.83"/><use href="#s" x="664.6" y="548.52"/><use href="#s" x="671.5" y="541.25"/><use href="#s" x="678.4" y="536.6"/><use href="#s" x="685.3" y="526.64"/><use href="#s" x="692.2" y="534.56"/><use href="#s" x="699.1" y="538.51"/><use href="#s" x="706" y="533.89"/><use href="#s" x="712.9" y="539.18"/><use href="#s" x="719.8" y="543.83"/><use href="#s" x="726.7" y="555.07"/><use href="#s" x="733.6" y="541.16"/><use href="#s" x="740.5" y="540.51"/><use href="#s" x="747.4" y="549.78"/><use href="#s" x="754.3" y="530.58"/><use href="#s" x="761.2" y="547.78"/><use href="#s" x="768.1" y="541.83"/></g></g><g stroke="#0000ff"><path class="ln" d="M602.5 542.56L609.4 550.52L616.3 551.83L623.2 561.1L630.1 563.77L637 566.41L643.9 568.39L650.8 557.79L657.7 553.83L664.6 544.56L671.5 549.85L678.4 499.53L685.3 480.3L692.2 488.21L699.1 465.69L706 492.17L712.9 529.91L719.8 519.98L726.7 529.91L733.6 531.25L740.5 544.47L747.4 516.66L754.3 525.29L761.2 527.93L768.1 533.89"/><g class="mk"><use href="#s" x="602.5" y="542.56"/><use href="#s" x="609.4" y="550.52"/><use href="#s" x="616.3" y="551.83"/><use href="#s" x="623.2" y="561.1"/><use href="#s" x="630.1" y="563.77"/><use href="#s" x="637" y="566.41"/><use href="#s" x="643.9" y="568.39"/><use href="#s" x="650.8" y="557.79"/><use href="#s" x="657.7" y="553.83"/><use href="#s" x="664.6" y="544.56"/><use href="#s" x="671.5" y="549.85"/><use href="#s" x="678.4" y="499.53"/><use href="#s" x="685.3" y="480.3"/><use href="#s" x="692.2" y="488.21"/><use href="#s" x="699.1" y="465.69"/><use href="#s" x="706" y="492.17"/><use href="#s" x="712.9" y="529.91"/><use href="#s" x="719.8" y="519.98"/><use href="#s" x="726.7" y="529.91"/><use href="#s" x="733.6" y="531.25"/><use href="#s" x="740.5" y="544.47"/><use href="#s" x="747.4" y="516.66"/><use href="#s" x="754.3" y="525.29"/><use href="#s" x="761.2" y="527.93"/><use href="#s" x="768.1" y="533.89"/></g></g><g stroke="#ff0000"><path class="ln" d="M602.5 533.29L609.4 525.36L616.3 546.54L623.2 551.83L630.1 562.43L637 564.41L643.9 557.79L650.8 544.56L657.7 531.98L664.6 524.02L671.5 539.92L678.4 517.42L685.3 521.01L692.2 510.04L699.1 527.27L706 508.73L712.9 490.86L719.8 508.06L726.7 493.5L733.6 508.73L740.5 525.29L747.4 513.35L754.3 514.68L761.2 519.31L768.1 537.85"/><g class="mk"><use href="#s" x="602.5" y="533.29"/><use href="#s" x="609.4" y="525.36"/><use href="#s" x="616.3" y="546.54"/><use href="#s" x="623.2" y="551.83"/><use href="#s" x="630.1" y="562.43"/><use href="#s" x="637" y="564.41"/><use href="#s" x="643.9" y="557.79"/><use href="#s" x="650.8" y="544.56"/><use href="#s" x="657.7" y="531.98"/><use href="#s" x="664.6" y="524.02"/><use href="#s" x="671.5" y="539.92"/><use href="#s" x="678.4" y="517.42"/><use href="#s" x="685.3" y="521.01"/><use href="#s" x="692.2" y="510.04"/><use href="#s" x="699.1" y="527.27"/><use href="#s" x="706" y="508.73"/><use href="#s" x="712.9" y="490.86"/><use href="#s" x="719.8" y="508.06"/><use href="#s" x="726.7" y="493.5"/><use href="#s" x="733.6" y="508.73"/><use href="#s" x="740.5" y="525.29"/><use href="#s" x="747.4" y="513.35"/><use href="#s" x="754.3" y="514.68"/><use href="#s" x="761.2" y="519.31"/><use href="#s" x="768.1" y="537.85"/></g></g></g><path stroke="#ff0000" stroke-width="1.1" fill="none" d="M630.5 581.5v-4M630.5 465v3.2M657.5 581.5v-4M657.5 465v3.2M685.5 581.5v-4M685.5 465v3.2M713.5 581.5v-4M713.5 465v3.2M740.5 581.5v-4M740.5 465v3.2M616.5 581.5v-4M616.5 465v3.2M644.5 581.5v-4M644.5 465v3.2M671.5 581.5v-4M671.5 465v3.2M699.5 581.5v-4M699.5 465v3.2M726.5 581.5v-4M726.5 465v3.2M754.5 581.5v-4M754.5 465v3.2M603 558.5h6M767.6 558.5h-6M603 535.5h6M767.6 535.5h-6M603 512.5h6M767.6 512.5h-6M603 489.5h6M767.6 489.5h-6M603 466.5h6M767.6 466.5h-6"/><path stroke="#ff0000" stroke-width="0.8" fill="none" d="M603 569.5h4M767.6 569.5h-4M603 546.5h4M767.6 546.5h-4M603 523.5h4M767.6 523.5h-4M603 500.5h4M767.6 500.5h-4M603 477.5h4M767.6 477.5h-4"/><path fill="#ff0000" d="M602 463h167v2h-167zM602 463h1v119h-1zM767.5 463h1.5v119h-1.5zM602 581h167v1.5h-167z"/><g fill="#ff0000" stroke="#ff0000" stroke-width="0.3"><text class="t" x="598.5" y="584.4" text-anchor="end">1</text><text class="t" x="598.5" y="561.4" text-anchor="end">11</text><text class="t" x="598.5" y="538.4" text-anchor="end">21</text><text class="t" x="598.5" y="515.4" text-anchor="end">31</text><text class="t" x="598.5" y="492.4" text-anchor="end">41</text><text class="t" x="598.5" y="469.4" text-anchor="end">51</text><text class="t" x="602.8" y="593" text-anchor="middle">0</text><text class="t" x="630.4" y="593" text-anchor="middle">4</text><text class="t" x="658" y="593" text-anchor="middle">8</text><text class="t" x="685.6" y="593" text-anchor="middle">12</text><text class="t" x="713.2" y="593" text-anchor="middle">16</text><text class="t" x="740.8" y="593" text-anchor="middle">20</text><text class="t" x="768.4" y="593" text-anchor="middle">24</text><text class="l" transform="translate(685.5 606.7) scale(1.25 1)" text-anchor="middle">Causeway Bay</text></g>
<clipPath id="k34"><rect x="795.5" y="464" width="165.6" height="118"/></clipPath><path class="gr" d="M823.1 465V581.5M850.7 465V581.5M878.3 465V581.5M905.9 465V581.5M933.5 465V581.5M796 558.5H961.1M796 535.5H961.1M796 512.5H961.1M796 489.5H961.1M796 466.5H961.1"/><g clip-path="url(#k34)"><g stroke="#00ffff"><path class="ln" d="M795.5 539.99L802.4 541.87L809.3 542.33L816.2 544.65L823.1 546.06L830 547.92L836.9 546.06L843.8 538.61L850.7 536.26L857.6 534.4L864.5 545.11L871.4 537.2L912.8 533.48L919.7 526.46L926.6 528.81L933.5 527.4L940.4 539.99L947.3 541.87L954.2 546.06L961.1 540.93"/><g class="mk"><use href="#s" x="795.5" y="539.99"/><use href="#s" x="802.4" y="541.87"/><use href="#s" x="809.3" y="542.33"/><use href="#s" x="816.2" y="544.65"/><use href="#s" x="823.1" y="546.06"/><use href="#s" x="830" y="547.92"/><use href="#s" x="836.9" y="546.06"/><use href="#s" x="843.8" y="538.61"/><use href="#s" x="850.7" y="536.26"/><use href="#s" x="857.6" y="534.4"/><use href="#s" x="864.5" y="545.11"/><use href="#s" x="871.4" y="537.2"/><use href="#s" x="912.8" y="533.48"/><use href="#s" x="919.7" y="526.46"/><use href="#s" x="926.6" y="528.81"/><use href="#s" x="933.5" y="527.4"/><use href="#s" x="940.4" y="539.99"/><use href="#s" x="947.3" y="541.87"/><use href="#s" x="954.2" y="546.06"/><use href="#s" x="961.1" y="540.93"/></g></g><g stroke="#00ff00"><path class="ln" d="M795.5 540.47L802.4 543.25L809.3 548.38L816.2 552.13L823.1 551.65L830 551.65L836.9 550.73L843.8 546.06L850.7 549.78L857.6 554.45L864.5 555.86L871.4 558.64L878.3 560.98L885.2 558.64L892.1 559.12L899 559.12L905.9 556.77L912.8 553.05L919.7 551.65L926.6 548.38L933.5 543.25L940.4 543.25L947.3 547L954.2 551.19L961.1 551.19"/><g class="mk"><use href="#s" x="795.5" y="540.47"/><use href="#s" x="802.4" y="543.25"/><use href="#s" x="809.3" y="548.38"/><use href="#s" x="816.2" y="552.13"/><use href="#s" x="823.1" y="551.65"/><use href="#s" x="830" y="551.65"/><use href="#s" x="836.9" y="550.73"/><use href="#s" x="843.8" y="546.06"/><use href="#s" x="850.7" y="549.78"/><use href="#s" x="857.6" y="554.45"/><use href="#s" x="864.5" y="555.86"/><use href="#s" x="871.4" y="558.64"/><use href="#s" x="878.3" y="560.98"/><use href="#s" x="885.2" y="558.64"/><use href="#s" x="892.1" y="559.12"/><use href="#s" x="899" y="559.12"/><use href="#s" x="905.9" y="556.77"/><use href="#s" x="912.8" y="553.05"/><use href="#s" x="919.7" y="551.65"/><use href="#s" x="926.6" y="548.38"/><use href="#s" x="933.5" y="543.25"/><use href="#s" x="940.4" y="543.25"/><use href="#s" x="947.3" y="547"/><use href="#s" x="954.2" y="551.19"/><use href="#s" x="961.1" y="551.19"/></g></g><g stroke="#0000ff"><path class="ln" d="M795.5 551.19L802.4 554.45L809.3 557.26L816.2 558.64L823.1 556.77L830 555.86L836.9 557.26L843.8 547.92L850.7 546.06L857.6 546.06L864.5 550.73L871.4 563.79L905.9 571.7L912.8 564.25L919.7 557.26L926.6 558.64L933.5 561.9L940.4 561.9L947.3 563.31L954.2 563.31L961.1 567.52"/><g class="mk"><use href="#s" x="795.5" y="551.19"/><use href="#s" x="802.4" y="554.45"/><use href="#s" x="809.3" y="557.26"/><use href="#s" x="816.2" y="558.64"/><use href="#s" x="823.1" y="556.77"/><use href="#s" x="830" y="555.86"/><use href="#s" x="836.9" y="557.26"/><use href="#s" x="843.8" y="547.92"/><use href="#s" x="850.7" y="546.06"/><use href="#s" x="857.6" y="546.06"/><use href="#s" x="864.5" y="550.73"/><use href="#s" x="871.4" y="563.79"/><use href="#s" x="905.9" y="571.7"/><use href="#s" x="912.8" y="564.25"/><use href="#s" x="919.7" y="557.26"/><use href="#s" x="926.6" y="558.64"/><use href="#s" x="933.5" y="561.9"/><use href="#s" x="940.4" y="561.9"/><use href="#s" x="947.3" y="563.31"/><use href="#s" x="954.2" y="563.31"/><use href="#s" x="961.1" y="567.52"/></g></g><g stroke="#ff0000"><path class="ln" d="M795.5 567.03L802.4 570.3L809.3 573.11L816.2 571.7L823.1 574.51L830 576.83L836.9 574.51L843.8 570.3L850.7 565.17L857.6 567.98L864.5 567.03L871.4 567.03L885.2 562.39L892.1 563.31L899 569.38L905.9 559.12L912.8 564.25L919.7 570.78L926.6 565.65L933.5 555.86L940.4 555.86L947.3 559.58L954.2 562.85L961.1 562.39"/><g class="mk"><use href="#s" x="795.5" y="567.03"/><use href="#s" x="802.4" y="570.3"/><use href="#s" x="809.3" y="573.11"/><use href="#s" x="816.2" y="571.7"/><use href="#s" x="823.1" y="574.51"/><use href="#s" x="830" y="576.83"/><use href="#s" x="836.9" y="574.51"/><use href="#s" x="843.8" y="570.3"/><use href="#s" x="850.7" y="565.17"/><use href="#s" x="857.6" y="567.98"/><use href="#s" x="864.5" y="567.03"/><use href="#s" x="871.4" y="567.03"/><use href="#s" x="885.2" y="562.39"/><use href="#s" x="892.1" y="563.31"/><use href="#s" x="899" y="569.38"/><use href="#s" x="905.9" y="559.12"/><use href="#s" x="912.8" y="564.25"/><use href="#s" x="919.7" y="570.78"/><use href="#s" x="926.6" y="565.65"/><use href="#s" x="933.5" y="555.86"/><use href="#s" x="940.4" y="555.86"/><use href="#s" x="947.3" y="559.58"/><use href="#s" x="954.2" y="562.85"/><use href="#s" x="961.1" y="562.39"/></g></g></g><path stroke="#000" stroke-width="1.1" fill="none" d="M823.5 581.5v-4M823.5 465v3.2M850.5 581.5v-4M850.5 465v3.2M878.5 581.5v-4M878.5 465v3.2M906.5 581.5v-4M906.5 465v3.2M933.5 581.5v-4M933.5 465v3.2M809.5 581.5v-4M809.5 465v3.2M837.5 581.5v-4M837.5 465v3.2M864.5 581.5v-4M864.5 465v3.2M892.5 581.5v-4M892.5 465v3.2M919.5 581.5v-4M919.5 465v3.2M947.5 581.5v-4M947.5 465v3.2M796 558.5h6M960.6 558.5h-6M796 535.5h6M960.6 535.5h-6M796 512.5h6M960.6 512.5h-6M796 489.5h6M960.6 489.5h-6M796 466.5h6M960.6 466.5h-6"/><path stroke="#000" stroke-width="0.8" fill="none" d="M796 569.5h4M960.6 569.5h-4M796 546.5h4M960.6 546.5h-4M796 523.5h4M960.6 523.5h-4M796 500.5h4M960.6 500.5h-4M796 477.5h4M960.6 477.5h-4"/><path fill="#000" d="M795 463h167v2h-167zM795 463h1v119h-1zM960.5 463h1.5v119h-1.5zM795 581h167v1.5h-167z"/><g fill="#000" stroke="#000" stroke-width="0.3"><text class="t" x="791.5" y="584.4" text-anchor="end">1</text><text class="t" x="791.5" y="561.4" text-anchor="end">11</text><text class="t" x="791.5" y="538.4" text-anchor="end">21</text><text class="t" x="791.5" y="515.4" text-anchor="end">31</text><text class="t" x="791.5" y="492.4" text-anchor="end">41</text><text class="t" x="791.5" y="469.4" text-anchor="end">51</text><text class="t" x="795.8" y="593" text-anchor="middle">0</text><text class="t" x="823.4" y="593" text-anchor="middle">4</text><text class="t" x="851" y="593" text-anchor="middle">8</text><text class="t" x="878.6" y="593" text-anchor="middle">12</text><text class="t" x="906.2" y="593" text-anchor="middle">16</text><text class="t" x="933.8" y="593" text-anchor="middle">20</text><text class="t" x="961.4" y="593" text-anchor="middle">24</text><text class="l" transform="translate(878.5 606.7) scale(1.25 1)" text-anchor="middle">Eastern</text></g>
</g>
<g>
<rect x="0" y="607" width="965" height="148" fill="#fff"/>
<clipPath id="k40"><rect x="23.5" y="612" width="165.6" height="118"/></clipPath><path class="gr" d="M51.1 613V729.5M78.7 613V729.5M106.3 613V729.5M133.9 613V729.5M161.5 613V729.5M24 706.5H189.1M24 683.5H189.1M24 660.5H189.1M24 637.5H189.1M24 614.5H189.1"/><g clip-path="url(#k40)"><g stroke="#00ffff"><path class="ln" d="M23.5 714.85L44.2 719.06L51.1 725.11L58 721.84L64.9 716.71L71.8 714.39L78.7 716.71L85.6 719.06L92.5 719.98L99.4 720.92L106.3 720.92L113.2 719.98L120.1 718.6L127 719.06L133.9 720.92L140.8 721.84L147.7 721.84L154.6 720.46L161.5 722.78L168.4 722.78L175.3 722.32L182.2 723.24L189.1 722.32"/><g class="mk"><use href="#s" x="23.5" y="714.85"/><use href="#s" x="44.2" y="719.06"/><use href="#s" x="51.1" y="725.11"/><use href="#s" x="58" y="721.84"/><use href="#s" x="64.9" y="716.71"/><use href="#s" x="71.8" y="714.39"/><use href="#s" x="78.7" y="716.71"/><use href="#s" x="85.6" y="719.06"/><use href="#s" x="92.5" y="719.98"/><use href="#s" x="99.4" y="720.92"/><use href="#s" x="106.3" y="720.92"/><use href="#s" x="113.2" y="719.98"/><use href="#s" x="120.1" y="718.6"/><use href="#s" x="127" y="719.06"/><use href="#s" x="133.9" y="720.92"/><use href="#s" x="140.8" y="721.84"/><use href="#s" x="147.7" y="721.84"/><use href="#s" x="154.6" y="720.46"/><use href="#s" x="161.5" y="722.78"/><use href="#s" x="168.4" y="722.78"/><use href="#s" x="175.3" y="722.32"/><use href="#s" x="182.2" y="723.24"/><use href="#s" x="189.1" y="722.32"/></g></g><g stroke="#00ff00"><path class="ln" d="M23.5 723.24L30.4 725.11L37.3 725.59L44.2 726.05L51.1 725.59L58 724.65L64.9 725.11L71.8 724.19L78.7 726.99L85.6 726.99L92.5 727.45L99.4 727.91L106.3 727.91L113.2 727.91L120.1 727.91L127 725.59L133.9 727.91L140.8 728.37L147.7 727.91L154.6 727.45L161.5 727.91L168.4 728.86L175.3 728.86L182.2 728.86L189.1 728.37"/><g class="mk"><use href="#s" x="23.5" y="723.24"/><use href="#s" x="30.4" y="725.11"/><use href="#s" x="37.3" y="725.59"/><use href="#s" x="44.2" y="726.05"/><use href="#s" x="51.1" y="725.59"/><use href="#s" x="58" y="724.65"/><use href="#s" x="64.9" y="725.11"/><use href="#s" x="71.8" y="724.19"/><use href="#s" x="78.7" y="726.99"/><use href="#s" x="85.6" y="726.99"/><use href="#s" x="92.5" y="727.45"/><use href="#s" x="99.4" y="727.91"/><use href="#s" x="106.3" y="727.91"/><use href="#s" x="113.2" y="727.91"/><use href="#s" x="120.1" y="727.91"/><use href="#s" x="127" y="725.59"/><use href="#s" x="133.9" y="727.91"/><use href="#s" x="140.8" y="728.37"/><use href="#s" x="147.7" y="727.91"/><use href="#s" x="154.6" y="727.45"/><use href="#s" x="161.5" y="727.91"/><use href="#s" x="168.4" y="728.86"/><use href="#s" x="175.3" y="728.86"/><use href="#s" x="182.2" y="728.86"/><use href="#s" x="189.1" y="728.37"/></g></g><g stroke="#0000ff"><path class="ln" d="M23.5 727.91L30.4 727.91L37.3 727.91L44.2 727.91L51.1 728.37L58 728.37L64.9 728.37L71.8 727.45L78.7 721.84L85.6 717.2L92.5 719.98L99.4 707.4L113.2 707.4L133.9 719.52L140.8 723.24L147.7 720.46L154.6 723.73L161.5 726.99L168.4 726.05L175.3 725.59L182.2 725.59L189.1 725.59"/><g class="mk"><use href="#s" x="23.5" y="727.91"/><use href="#s" x="30.4" y="727.91"/><use href="#s" x="37.3" y="727.91"/><use href="#s" x="44.2" y="727.91"/><use href="#s" x="51.1" y="728.37"/><use href="#s" x="58" y="728.37"/><use href="#s" x="64.9" y="728.37"/><use href="#s" x="71.8" y="727.45"/><use href="#s" x="78.7" y="721.84"/><use href="#s" x="85.6" y="717.2"/><use href="#s" x="92.5" y="719.98"/><use href="#s" x="99.4" y="707.4"/><use href="#s" x="113.2" y="707.4"/><use href="#s" x="133.9" y="719.52"/><use href="#s" x="140.8" y="723.24"/><use href="#s" x="147.7" y="720.46"/><use href="#s" x="154.6" y="723.73"/><use href="#s" x="161.5" y="726.99"/><use href="#s" x="168.4" y="726.05"/><use href="#s" x="175.3" y="725.59"/><use href="#s" x="182.2" y="725.59"/><use href="#s" x="189.1" y="725.59"/></g></g><g stroke="#ff0000"><path class="ln" d="M23.5 727.45L30.4 727.91L37.3 726.99L44.2 726.99L51.1 726.99L58 727.45L64.9 725.59L71.8 723.24L78.7 725.59L85.6 725.11L92.5 724.65L99.4 726.05L106.3 724.65L113.2 720.92L120.1 721.84L127 724.65L133.9 727.45L140.8 727.91L147.7 726.99L154.6 725.11L161.5 721.84L168.4 722.32L175.3 724.65L182.2 724.65L189.1 725.11"/><g class="mk"><use href="#s" x="23.5" y="727.45"/><use href="#s" x="30.4" y="727.91"/><use href="#s" x="37.3" y="726.99"/><use href="#s" x="44.2" y="726.99"/><use href="#s" x="51.1" y="726.99"/><use href="#s" x="58" y="727.45"/><use href="#s" x="64.9" y="725.59"/><use href="#s" x="71.8" y="723.24"/><use href="#s" x="78.7" y="725.59"/><use href="#s" x="85.6" y="725.11"/><use href="#s" x="92.5" y="724.65"/><use href="#s" x="99.4" y="726.05"/><use href="#s" x="106.3" y="724.65"/><use href="#s" x="113.2" y="720.92"/><use href="#s" x="120.1" y="721.84"/><use href="#s" x="127" y="724.65"/><use href="#s" x="133.9" y="727.45"/><use href="#s" x="140.8" y="727.91"/><use href="#s" x="147.7" y="726.99"/><use href="#s" x="154.6" y="725.11"/><use href="#s" x="161.5" y="721.84"/><use href="#s" x="168.4" y="722.32"/><use href="#s" x="175.3" y="724.65"/><use href="#s" x="182.2" y="724.65"/><use href="#s" x="189.1" y="725.11"/></g></g></g><path stroke="#000" stroke-width="1.1" fill="none" d="M51.5 729.5v-4M51.5 613v3.2M78.5 729.5v-4M78.5 613v3.2M106.5 729.5v-4M106.5 613v3.2M134.5 729.5v-4M134.5 613v3.2M161.5 729.5v-4M161.5 613v3.2M37.5 729.5v-4M37.5 613v3.2M65.5 729.5v-4M65.5 613v3.2M92.5 729.5v-4M92.5 613v3.2M120.5 729.5v-4M120.5 613v3.2M147.5 729.5v-4M147.5 613v3.2M175.5 729.5v-4M175.5 613v3.2M24 706.5h6M188.6 706.5h-6M24 683.5h6M188.6 683.5h-6M24 660.5h6M188.6 660.5h-6M24 637.5h6M188.6 637.5h-6M24 614.5h6M188.6 614.5h-6"/><path stroke="#000" stroke-width="0.8" fill="none" d="M24 717.5h4M188.6 717.5h-4M24 694.5h4M188.6 694.5h-4M24 671.5h4M188.6 671.5h-4M24 648.5h4M188.6 648.5h-4M24 625.5h4M188.6 625.5h-4"/><path fill="#000" d="M23 611h167v2h-167zM23 611h1v119h-1zM188.5 611h1.5v119h-1.5zM23 729h167v1.5h-167z"/><g fill="#000" stroke="#000" stroke-width="0.3"><text class="t" x="19.5" y="732.4" text-anchor="end">1</text><text class="t" x="19.5" y="709.4" text-anchor="end">11</text><text class="t" x="19.5" y="686.4" text-anchor="end">21</text><text class="t" x="19.5" y="663.4" text-anchor="end">31</text><text class="t" x="19.5" y="640.4" text-anchor="end">41</text><text class="t" x="19.5" y="617.4" text-anchor="end">51</text><text class="t" x="23.8" y="741" text-anchor="middle">0</text><text class="t" x="51.4" y="741" text-anchor="middle">4</text><text class="t" x="79" y="741" text-anchor="middle">8</text><text class="t" x="106.6" y="741" text-anchor="middle">12</text><text class="t" x="134.2" y="741" text-anchor="middle">16</text><text class="t" x="161.8" y="741" text-anchor="middle">20</text><text class="t" x="189.4" y="741" text-anchor="middle">24</text><text class="l" transform="translate(106.5 754.7) scale(1.25 1)" text-anchor="middle">Tung Chung</text></g>
<clipPath id="k41"><rect x="216.5" y="612" width="165.6" height="118"/></clipPath><path class="gr" d="M244.1 613V729.5M271.7 613V729.5M299.3 613V729.5M326.9 613V729.5M354.5 613V729.5M217 706.5H382.1M217 683.5H382.1M217 660.5H382.1M217 637.5H382.1M217 614.5H382.1"/><g clip-path="url(#k41)"><g stroke="#00ffff"><path class="ln" d="M216.5 722.32L223.4 719.52L230.3 719.98L237.2 721.84L244.1 720.92L251 719.98L257.9 717.2L264.8 714.39L271.7 716.71L278.6 716.71L285.5 719.52L292.4 717.2L299.3 721.84L306.2 722.78L313.1 721.84L320 720.92L326.9 719.98L333.8 719.98L340.7 712.99L347.6 721.84L354.5 720.92L361.4 720.92L368.3 721.84L375.2 721.84L382.1 719.98"/><g class="mk"><use href="#s" x="216.5" y="722.32"/><use href="#s" x="223.4" y="719.52"/><use href="#s" x="230.3" y="719.98"/><use href="#s" x="237.2" y="721.84"/><use href="#s" x="244.1" y="720.92"/><use href="#s" x="251" y="719.98"/><use href="#s" x="257.9" y="717.2"/><use href="#s" x="264.8" y="714.39"/><use href="#s" x="271.7" y="716.71"/><use href="#s" x="278.6" y="716.71"/><use href="#s" x="285.5" y="719.52"/><use href="#s" x="292.4" y="717.2"/><use href="#s" x="299.3" y="721.84"/><use href="#s" x="306.2" y="722.78"/><use href="#s" x="313.1" y="721.84"/><use href="#s" x="320" y="720.92"/><use href="#s" x="326.9" y="719.98"/><use href="#s" x="333.8" y="719.98"/><use href="#s" x="340.7" y="712.99"/><use href="#s" x="347.6" y="721.84"/><use href="#s" x="354.5" y="720.92"/><use href="#s" x="361.4" y="720.92"/><use href="#s" x="368.3" y="721.84"/><use href="#s" x="375.2" y="721.84"/><use href="#s" x="382.1" y="719.98"/></g></g><g stroke="#00ff00"><path class="ln" d="M216.5 721.84L223.4 725.59L230.3 727.45L237.2 724.65L244.1 722.32L251 724.19L257.9 724.19L264.8 721.38L271.7 726.05L278.6 724.19L285.5 726.05L292.4 725.11L299.3 725.11L306.2 726.51L313.1 723.73L320 725.59L326.9 726.51L333.8 725.59L340.7 724.65L347.6 724.19L354.5 723.73L361.4 722.78L368.3 723.73L375.2 724.19L382.1 723.73"/><g class="mk"><use href="#s" x="216.5" y="721.84"/><use href="#s" x="223.4" y="725.59"/><use href="#s" x="230.3" y="727.45"/><use href="#s" x="237.2" y="724.65"/><use href="#s" x="244.1" y="722.32"/><use href="#s" x="251" y="724.19"/><use href="#s" x="257.9" y="724.19"/><use href="#s" x="264.8" y="721.38"/><use href="#s" x="271.7" y="726.05"/><use href="#s" x="278.6" y="724.19"/><use href="#s" x="285.5" y="726.05"/><use href="#s" x="292.4" y="725.11"/><use href="#s" x="299.3" y="725.11"/><use href="#s" x="306.2" y="726.51"/><use href="#s" x="313.1" y="723.73"/><use href="#s" x="320" y="725.59"/><use href="#s" x="326.9" y="726.51"/><use href="#s" x="333.8" y="725.59"/><use href="#s" x="340.7" y="724.65"/><use href="#s" x="347.6" y="724.19"/><use href="#s" x="354.5" y="723.73"/><use href="#s" x="361.4" y="722.78"/><use href="#s" x="368.3" y="723.73"/><use href="#s" x="375.2" y="724.19"/><use href="#s" x="382.1" y="723.73"/></g></g><g stroke="#0000ff"><path class="ln" d="M216.5 725.59L223.4 726.05L230.3 724.65L237.2 725.59L244.1 725.59L251 727.45L257.9 726.99L264.8 719.98L271.7 722.32L278.6 720.92L285.5 723.24L292.4 725.11L299.3 725.59L306.2 723.73L313.1 726.51L320 724.65L326.9 722.32L333.8 723.73L340.7 719.98L347.6 724.19L354.5 718.6L361.4 717.2L368.3 716.71L375.2 716.71L382.1 716.71"/><g class="mk"><use href="#s" x="216.5" y="725.59"/><use href="#s" x="223.4" y="726.05"/><use href="#s" x="230.3" y="724.65"/><use href="#s" x="237.2" y="725.59"/><use href="#s" x="244.1" y="725.59"/><use href="#s" x="251" y="727.45"/><use href="#s" x="257.9" y="726.99"/><use href="#s" x="264.8" y="719.98"/><use href="#s" x="271.7" y="722.32"/><use href="#s" x="278.6" y="720.92"/><use href="#s" x="285.5" y="723.24"/><use href="#s" x="292.4" y="725.11"/><use href="#s" x="299.3" y="725.59"/><use href="#s" x="306.2" y="723.73"/><use href="#s" x="313.1" y="726.51"/><use href="#s" x="320" y="724.65"/><use href="#s" x="326.9" y="722.32"/><use href="#s" x="333.8" y="723.73"/><use href="#s" x="340.7" y="719.98"/><use href="#s" x="347.6" y="724.19"/><use href="#s" x="354.5" y="718.6"/><use href="#s" x="361.4" y="717.2"/><use href="#s" x="368.3" y="716.71"/><use href="#s" x="375.2" y="716.71"/><use href="#s" x="382.1" y="716.71"/></g></g><g stroke="#ff0000"><path class="ln" d="M216.5 715.79L223.4 726.05L230.3 723.73L237.2 724.19L244.1 725.11L251 723.73L257.9 722.32L264.8 721.84L271.7 722.78L278.6 722.78L285.5 719.52L292.4 719.52L299.3 719.52L306.2 717.2L313.1 713.47L320 716.71L326.9 714.85L333.8 714.85L340.7 714.39L347.6 719.06L354.5 705.99L361.4 707.86L368.3 711.58L375.2 709.72L382.1 712.53"/><g class="mk"><use href="#s" x="216.5" y="715.79"/><use href="#s" x="223.4" y="726.05"/><use href="#s" x="230.3" y="723.73"/><use href="#s" x="237.2" y="724.19"/><use href="#s" x="244.1" y="725.11"/><use href="#s" x="251" y="723.73"/><use href="#s" x="257.9" y="722.32"/><use href="#s" x="264.8" y="721.84"/><use href="#s" x="271.7" y="722.78"/><use href="#s" x="278.6" y="722.78"/><use href="#s" x="285.5" y="719.52"/><use href="#s" x="292.4" y="719.52"/><use href="#s" x="299.3" y="719.52"/><use href="#s" x="306.2" y="717.2"/><use href="#s" x="313.1" y="713.47"/><use href="#s" x="320" y="716.71"/><use href="#s" x="326.9" y="714.85"/><use href="#s" x="333.8" y="714.85"/><use href="#s" x="340.7" y="714.39"/><use href="#s" x="347.6" y="719.06"/><use href="#s" x="354.5" y="705.99"/><use href="#s" x="361.4" y="707.86"/><use href="#s" x="368.3" y="711.58"/><use href="#s" x="375.2" y="709.72"/><use href="#s" x="382.1" y="712.53"/></g></g></g><path stroke="#000" stroke-width="1.1" fill="none" d="M244.5 729.5v-4M244.5 613v3.2M271.5 729.5v-4M271.5 613v3.2M299.5 729.5v-4M299.5 613v3.2M327.5 729.5v-4M327.5 613v3.2M354.5 729.5v-4M354.5 613v3.2M230.5 729.5v-4M230.5 613v3.2M258.5 729.5v-4M258.5 613v3.2M285.5 729.5v-4M285.5 613v3.2M313.5 729.5v-4M313.5 613v3.2M340.5 729.5v-4M340.5 613v3.2M368.5 729.5v-4M368.5 613v3.2M217 706.5h6M381.6 706.5h-6M217 683.5h6M381.6 683.5h-6M217 660.5h6M381.6 660.5h-6M217 637.5h6M381.6 637.5h-6M217 614.5h6M381.6 614.5h-6"/><path stroke="#000" stroke-width="0.8" fill="none" d="M217 717.5h4M381.6 717.5h-4M217 694.5h4M381.6 694.5h-4M217 671.5h4M381.6 671.5h-4M217 648.5h4M381.6 648.5h-4M217 625.5h4M381.6 625.5h-4"/><path fill="#000" d="M216 611h167v2h-167zM216 611h1v119h-1zM381.5 611h1.5v119h-1.5zM216 729h167v1.5h-167z"/><g fill="#000" stroke="#000" stroke-width="0.3"><text class="t" x="212.5" y="732.4" text-anchor="end">1</text><text class="t" x="212.5" y="709.4" text-anchor="end">11</text><text class="t" x="212.5" y="686.4" text-anchor="end">21</text><text class="t" x="212.5" y="663.4" text-anchor="end">31</text><text class="t" x="212.5" y="640.4" text-anchor="end">41</text><text class="t" x="212.5" y="617.4" text-anchor="end">51</text><text class="t" x="216.8" y="741" text-anchor="middle">0</text><text class="t" x="244.4" y="741" text-anchor="middle">4</text><text class="t" x="272" y="741" text-anchor="middle">8</text><text class="t" x="299.6" y="741" text-anchor="middle">12</text><text class="t" x="327.2" y="741" text-anchor="middle">16</text><text class="t" x="354.8" y="741" text-anchor="middle">20</text><text class="t" x="382.4" y="741" text-anchor="middle">24</text><text class="l" transform="translate(299.5 754.7) scale(1.25 1)" text-anchor="middle">Airport, Pump House 5</text></g>
<clipPath id="k42"><rect x="409.5" y="612" width="165.6" height="118"/></clipPath><path class="gr" d="M437.1 613V729.5M464.7 613V729.5M492.3 613V729.5M519.9 613V729.5M547.5 613V729.5M410 706.5H575.1M410 683.5H575.1M410 660.5H575.1M410 637.5H575.1M410 614.5H575.1"/><g clip-path="url(#k42)"></g><path stroke="#000" stroke-width="1.1" fill="none" d="M437.5 729.5v-4M437.5 613v3.2M464.5 729.5v-4M464.5 613v3.2M492.5 729.5v-4M492.5 613v3.2M520.5 729.5v-4M520.5 613v3.2M547.5 729.5v-4M547.5 613v3.2M423.5 729.5v-4M423.5 613v3.2M451.5 729.5v-4M451.5 613v3.2M478.5 729.5v-4M478.5 613v3.2M506.5 729.5v-4M506.5 613v3.2M533.5 729.5v-4M533.5 613v3.2M561.5 729.5v-4M561.5 613v3.2M410 706.5h6M574.6 706.5h-6M410 683.5h6M574.6 683.5h-6M410 660.5h6M574.6 660.5h-6M410 637.5h6M574.6 637.5h-6M410 614.5h6M574.6 614.5h-6"/><path stroke="#000" stroke-width="0.8" fill="none" d="M410 717.5h4M574.6 717.5h-4M410 694.5h4M574.6 694.5h-4M410 671.5h4M574.6 671.5h-4M410 648.5h4M574.6 648.5h-4M410 625.5h4M574.6 625.5h-4"/><path fill="#000" d="M409 611h167v2h-167zM409 611h1v119h-1zM574.5 611h1.5v119h-1.5zM409 729h167v1.5h-167z"/><g fill="#000" stroke="#000" stroke-width="0.3"><text class="t" x="405.5" y="732.4" text-anchor="end">1</text><text class="t" x="405.5" y="709.4" text-anchor="end">11</text><text class="t" x="405.5" y="686.4" text-anchor="end">21</text><text class="t" x="405.5" y="663.4" text-anchor="end">31</text><text class="t" x="405.5" y="640.4" text-anchor="end">41</text><text class="t" x="405.5" y="617.4" text-anchor="end">51</text><text class="t" x="409.8" y="741" text-anchor="middle">0</text><text class="t" x="437.4" y="741" text-anchor="middle">4</text><text class="t" x="465" y="741" text-anchor="middle">8</text><text class="t" x="492.6" y="741" text-anchor="middle">12</text><text class="t" x="520.2" y="741" text-anchor="middle">16</text><text class="t" x="547.8" y="741" text-anchor="middle">20</text><text class="t" x="575.4" y="741" text-anchor="middle">24</text><text class="l" transform="translate(492.5 754.7) scale(1.25 1)" text-anchor="middle">Southern</text></g>
<clipPath id="k44"><rect x="795.5" y="612" width="165.6" height="118"/></clipPath><path class="gr" d="M836.9 613V729.5M878.3 613V729.5M919.7 613V729.5M796 706.5H961.1M796 683.5H961.1M796 660.5H961.1M796 637.5H961.1M796 614.5H961.1"/><g clip-path="url(#k44)"><path class="ln" stroke="#ff0000" d="M795.5 663.84L797.23 686.67L798.95 699.6L800.67 707.05L802.4 701.58L804.12 710.52L805.85 704.57L807.58 692.63L809.3 680.72L811.02 671.77L812.75 653.9L814.48 665.33L816.2 650.56L817.92 652.7L819.65 652.2L821.38 652.7L823.1 657.67L824.83 641.78L826.55 653.69L828.27 657.67L830 660.64L831.73 647.23L833.45 656.68L835.17 664.13L836.9 664.62L838.62 674.25L840.35 691.64L843.8 698.61L845.52 707.05L847.25 707.53L848.98 695.62L850.7 684.7L852.42 675.24L854.15 681.71L855.88 669.29L857.6 670.69L859.33 669.59L861.05 679.04L862.77 669.59L864.5 656.68L866.23 673.06L867.95 664.62L869.67 667.1L871.4 663.12L873.12 661.65L874.85 670.57L876.58 679.04L878.3 687.48L880.02 690.15L881.75 701.1L883.48 706.55L885.2 711.51L886.92 702.57L888.65 703.58L890.38 690.65L892.1 669.79L893.83 648.93L895.55 655.88L897.27 651.9L899 646.33L900.73 656.68L902.45 650.22L904.17 657.16L905.9 643.27L907.62 648.72L909.35 626.87L911.08 619.9L912.8 656.18L914.52 657.67L916.25 665.61L917.98 669.1L919.7 671.08L921.42 675.75L923.15 692.63L926.6 694.13L928.33 695.12L930.05 691.64L931.77 679.22L933.5 676.25L935.23 654.89L936.95 667.31L938.67 654.89L940.4 647.34L942.12 656.68L943.85 640.28L945.58 648.72L947.3 632.83L949.02 620.41L950.75 627.86L952.48 638.79L954.2 636.3L955.92 660.64L957.65 656.18L959.38 645.25L961.1 662.64"/><path class="ln" stroke="#ff0000" d="M795.5 676L797.23 690.56L798.95 698.52L800.67 695.87L802.4 695.87L804.12 697.85L805.85 690.56L807.58 683.29L809.3 668.73L811.02 641.57L812.75 631.66L814.48 648.86L816.2 640.26L817.92 648.2L819.65 665.42L821.38 679.31L823.1 672.02L824.83 676.67L826.55 646.88L828.27 673.36L830 686.61L831.73 689.25L833.45 701.83L835.17 699.83L836.9 706.45L838.62 699.83L840.35 707.79L842.08 710.43L843.8 721.04L845.52 707.79L847.25 699.19L848.98 702.5L850.7 709.77L852.42 706.45L854.15 696.52L855.88 699.83L857.6 699.19L859.33 703.14L861.05 702.5L862.77 707.12L864.5 699.83L866.23 709.1L867.95 709.1L869.67 689.25L871.4 697.85L873.12 692.56L874.85 695.21L876.58 693.87L878.3 695.21L880.02 696.52L881.75 702.5L883.48 707.79L885.2 714.41L886.92 709.1L888.65 709.1L890.38 707.12L892.1 702.5L893.83 672.69L895.55 684.6L897.27 669.38L899 642.9L900.73 664.75L902.45 664.75L904.17 676L905.9 695.21L907.62 688.58L909.35 683.29L911.08 683.29L912.8 672.02L914.52 681.29L916.25 684.6L917.98 684.6L919.7 684.6L921.42 691.23L923.15 694.54L924.88 695.87L926.6 709.77L928.33 705.79L930.05 707.12L931.77 699.83L933.5 687.27L935.23 666.07L936.95 664.75L938.67 680.65L940.4 670.71L942.12 684.6L943.85 668.73L945.58 672.02L947.3 648.86L949.02 668.73L950.75 668.73L952.48 656.15L954.2 655.49L955.92 664.75L957.65 672.69L959.38 662.11L961.1 673.36"/><path class="ln" stroke="#ff0000" d="M795.5 684.6L797.23 695.87L798.95 703.14L800.67 698.52L804.12 708.46L805.85 703.81L807.58 691.23L809.3 674.02L811.02 674.02L812.75 662.11L814.48 677.34L816.2 657.42L817.92 642.17L819.65 637.52L821.38 636.86L823.1 652.75L824.83 647.46L826.55 662.68L828.27 652.08L830 672.62L831.73 677.91L833.45 677.91L835.17 664.02L836.9 689.83L838.62 705.79L840.35 709.77L842.08 721.04L843.8 713.08L845.52 699.83L847.25 701.83L848.98 695.21L850.7 699.83L852.42 696.52L854.15 689.25L855.88 684.6L857.6 674.64L859.33 682.56L861.05 686.51L862.77 681.89L864.5 687.18L866.23 691.83L867.95 703.07L869.67 689.16L871.4 688.51L873.12 697.78L874.85 678.58L876.58 695.78L878.3 689.83L880.02 698.52L881.75 699.83L883.48 709.1L885.2 711.77L886.92 714.41L888.65 716.39L890.38 705.79L892.1 701.83L893.83 692.56L895.55 697.85L897.27 647.53L899 628.3L900.73 636.21L902.45 613.7L904.17 640.17L905.9 677.91L907.62 667.98L909.35 677.91L911.08 679.25L912.8 692.47L914.52 664.66L916.25 673.29L917.98 675.93L919.7 681.89L921.42 673.36L923.15 694.54L924.88 699.83L926.6 710.43L928.33 712.41L930.05 705.79L931.77 692.56L933.5 679.98L935.23 672.02L936.95 687.92L938.67 665.42L940.4 669.01L942.12 658.04L943.85 675.27L945.58 656.73L947.3 638.86L949.02 656.06L950.75 641.5L952.48 656.73L954.2 673.29L955.92 661.35L957.65 662.68L959.38 667.31L961.1 685.85"/><path class="ln" stroke="#0000ff" d="M795.5 702.36L797.23 707.49L798.95 712.62L800.67 715.88L802.4 709.81L804.12 714.48L805.85 715.42L807.58 709.35L809.3 706.09L811.02 709.35L812.75 712.16L814.48 711.22L816.2 708.43L817.92 707.95L819.65 707.03L821.38 704.68L823.1 707.03L824.83 704.68L826.55 707.03L828.27 704.22L830 701.9L831.73 704.68L833.45 708.43L835.17 712.16L836.9 713.08L838.62 717.75L840.35 718.39L842.08 718.39L843.8 719.61L845.52 719.61L847.25 717.75L848.98 711.22L850.7 717.75L852.42 718.39L854.15 718.39L855.88 718.39L857.6 716.11L859.33 717.75L861.05 718.21L862.77 720.07L864.5 720.07L866.23 718.21L867.95 714.94L869.67 715.88L871.4 709.35L873.12 708.43L874.85 712.16L876.58 709.35L878.3 714.94L880.02 718.39L881.75 718.39L883.48 722.42L885.2 721.01L886.92 724.74L888.65 721.47L890.38 715.88L892.1 715.42L893.83 705.17L895.55 709.81L897.27 709.35L899 709.35L900.73 715.42L902.45 717.75L904.17 713.08L905.9 709.35L907.62 714.48L909.35 710.29L911.08 709.35L912.8 706.09L914.52 709.81L916.25 711.67L917.98 716.8L919.7 717.75L921.42 718.39L923.15 718.39L924.88 712.34L926.6 714.76L928.33 719.61L930.05 717.47L931.77 709.17L933.5 711.22L935.23 714.48L936.95 713.08L938.67 708.89L940.4 707.49L942.12 712.16L943.85 708.89L945.58 711.22L947.3 709.81L949.02 711.22L950.75 713.56L952.48 706.09L954.2 703.76L955.92 703.76L957.65 706.09L959.38 705.17L961.1 707.03"/><path class="ln" stroke="#0000ff" d="M795.5 721.01L797.23 715.88L798.95 713.56L800.67 714.48L802.4 713.08L804.12 714.48L805.85 713.08L807.58 702.36L809.3 698.63L811.02 688.84L812.75 710.29L814.48 710.75L816.2 707.03L817.92 709.35L819.65 713.08L821.38 712.16L823.1 709.35L824.83 705.63L826.55 713.08L828.27 701.42L830 704.68L831.73 714.94L833.45 715.88L835.17 718.21L836.9 715.42L838.62 712.62L840.35 714.94L842.08 714.94L843.8 722.42L845.52 726.14L847.25 726.14L848.98 719.61L850.7 717.29L852.42 713.56L854.15 718.21L855.88 721.01L857.6 720.07L859.33 722.42L861.05 721.01L862.77 721.01L864.5 722.42L866.23 719.61L867.95 717.75L869.67 717.29L871.4 714.94L873.12 701.9L874.85 700.96L876.58 698.63L878.3 708.89L880.02 715.88L881.75 717.29L883.48 714.94L885.2 713.08L886.92 715.42L888.65 716.8L890.38 709.81L892.1 712.16L893.83 715.42L895.55 717.75L897.27 714.48L899 716.8L900.73 722.42L902.45 715.88L904.17 712.62L905.9 708.43L907.62 714.94L909.35 714.94L911.08 708.89L912.8 696.29L914.52 697.23L916.25 687.89L917.98 711.22L919.7 702.82L921.42 708.89L923.15 714.94L924.88 714.94L926.6 714.48L928.33 721.01L930.05 721.01L931.77 714.94L933.5 707.49L935.23 721.01L936.95 713.56L938.67 717.29L940.4 714.02L942.12 714.94L943.85 718.21L945.58 715.88L947.3 712.16L949.02 708.89L950.75 708.89L952.48 709.81L954.2 701.9L955.92 700.04L957.65 696.29L959.38 677.17L961.1 691.64"/><path class="ln" stroke="#0000ff" d="M795.5 714.57L797.23 719.7L798.95 721.11L800.67 721.11L802.4 722.05L804.12 723.43L805.85 723.91L807.58 726.23L809.3 723.91L811.02 721.11L812.75 718.78L814.48 718.78L816.2 722.05L817.92 720.16L819.65 719.24L821.38 719.7L823.1 722.05L824.83 721.57L826.55 720.16L828.27 716.92L830 718.78L831.73 724.37L833.45 724.37L835.17 725.31L836.9 727.18L838.62 726.23L840.35 725.31L842.08 727.64L843.8 727.18L845.52 727.64L847.25 727.64L848.98 728.1L850.7 726.69L852.42 726.69L854.15 727.18L855.88 727.64L857.6 726.69L859.33 728.1L861.05 727.18L862.77 724.83L864.5 727.18L866.23 727.18L867.95 726.69L869.67 726.23L871.4 726.69L873.12 726.69L874.85 726.69L876.58 722.05L878.3 722.05L880.02 723.91L881.75 724.37L883.48 726.23L885.2 726.69L886.92 727.18L888.65 727.18L890.38 727.64L892.1 726.23L893.83 727.64L895.55 726.69L897.27 726.69L899 725.77L900.73 723.91L902.45 723.91L904.17 718.78L905.9 722.51L907.62 723.91L909.35 725.31L911.08 718.78L912.8 720.64L914.52 724.83L916.25 724.37L917.98 727.18L919.7 726.69L921.42 722.97L923.15 721.11L924.88 725.31L926.6 724.83L928.33 722.97L930.05 722.97L931.77 725.77L933.5 724.83L935.23 722.97L936.95 721.11L938.67 722.05L940.4 722.74L942.12 726.69L943.85 727.64L945.58 728.1L947.3 728.1L949.02 726.69L950.75 724.83L952.48 723.43L954.2 725.31L955.92 720.64L957.65 720.64L959.38 722.97L961.1 722.97"/><path class="ln" stroke="#0000ff" d="M795.5 713.65L797.23 714.11L798.95 717.38L800.67 717.84L802.4 717.38L804.12 719.24L805.85 717.84L807.58 716.44L809.3 716.44L811.02 717.38L812.75 715.03L814.48 714.57L816.2 713.17L817.92 714.11L819.65 714.57L821.38 712.71L823.1 713.17L824.83 711.79L826.55 711.79L828.27 711.79L830 711.79L831.73 712.71L833.45 713.65L835.17 715.03L836.9 715.52L838.62 716.92L840.35 717.84L842.08 719.24L843.8 719.24L845.52 720.16L847.25 719.7L848.98 719.24L850.7 718.78L852.42 719.24L854.15 719.7L855.88 718.3L857.6 719.24L859.33 719.7L861.05 721.11L862.77 720.16L864.5 718.78L866.23 720.16L867.95 720.16L869.67 719.24L871.4 718.78L873.12 718.78L874.85 719.24L876.58 720.64L878.3 720.64L880.02 722.05L881.75 722.05L883.48 723.43L885.2 723.43L886.92 724.83L888.65 724.83L890.38 722.97L892.1 720.64L893.83 718.78L895.55 716.92L897.27 715.52L899 716.92L900.73 715.03L902.45 715.03L904.17 715.98L905.9 717.38L907.62 717.84L909.35 716.92L911.08 716.92L912.8 716.92L914.52 717.38L916.25 718.3L917.98 719.7L919.7 720.64L921.42 722.05L923.15 722.05L924.88 723.43L926.6 722.97L928.33 723.43L930.05 723.43L931.77 721.11L933.5 719.7L935.23 718.78L936.95 717.38L938.67 717.38L940.4 717.38L942.12 716.92L943.85 718.3L945.58 718.78L947.3 718.3L949.02 718.3L950.75 717.84L952.48 718.3L954.2 717.84L955.92 716.92L957.65 718.3L959.38 719.7L961.1 720.64"/><path class="ln" stroke="#0000ff" d="M795.5 699.09L797.23 703.76L798.95 709.35L800.67 716.34L802.4 719.15L804.12 717.29L805.85 708.43L807.58 700.04L809.3 691.64L811.02 690.7L812.75 693.5L814.48 700.04L816.2 691.39L817.92 698.63L819.65 696.29L821.38 694.42L823.1 695.83L824.83 686.03L826.55 684.17L828.27 677.63L830 684.17L831.73 691.16L833.45 698.15L835.17 701.9L836.9 705.63L838.62 709.35L840.35 709.81L842.08 712.16L843.8 725.2L845.52 725.68L847.25 717.29L848.98 708.89L850.7 708.89L852.42 712.62L854.15 714.02L855.88 714.94L857.6 712.16L859.33 710.75L861.05 709.81L862.77 705.17L864.5 707.95L866.23 711.22L867.95 703.76L869.67 698.15L871.4 699.09L873.12 693.02L874.85 692.1L876.58 698.15L878.3 702.82L880.02 704.68L881.75 706.55L883.48 709.35L885.2 704.68L886.92 702.36L888.65 706.09L890.38 700.04L892.1 690.24L893.83 693.97L895.55 693.5L897.27 696.77L899 710.29L900.73 714.94L902.45 703.76L904.17 695.37L905.9 704.22L907.62 697.23L909.35 693.97L911.08 694.42L912.8 696.77L914.52 689.3L916.25 691.16L917.98 695.37L919.7 695.37L921.42 698.63L923.15 703.76L924.88 702.36L926.6 699.55L928.33 703.76L930.05 705.63L931.77 690.24L933.5 700.04L935.23 700.04L936.95 690.24L938.67 692.56L940.4 701.9L942.12 698.63L943.85 701.42L945.58 693.97L947.3 700.04L949.02 696.29L950.75 699.09L952.48 694.42L954.2 678.12L955.92 676.72L957.65 680.44L959.38 690.24L961.1 693.02"/><path class="ln" stroke="#0000ff" d="M795.5 693.5L797.23 687.43L798.95 703.3L800.67 701.42L802.4 700.04L804.12 706.09L805.85 704.22L807.58 695.37L809.3 689.78L811.02 690.24L812.75 697.69L814.48 702.82L816.2 702.82L817.92 707.95L819.65 707.03L821.38 708.89L823.1 705.17L824.83 693.5L826.55 688.38L828.27 681.38L830 679.98L831.73 693.02L833.45 696.29L835.17 693.5L836.9 699.09L838.62 703.76L840.35 707.49L842.08 712.16L843.8 705.17L845.52 705.63L847.25 697.69L848.98 697.69L850.7 703.76L852.42 704.22L854.15 707.03L855.88 709.35L857.6 711.67L859.33 713.56L861.05 711.67L862.77 713.56L864.5 712.16L866.23 707.95L867.95 702.82L869.67 697.23L871.4 694.91L873.12 694.42L874.85 707.03L876.58 707.95L878.3 716.8L880.02 715.88L881.75 717.75L883.48 721.01L885.2 721.01L886.92 715.88L888.65 711.22L890.38 703.76L892.1 698.15L893.83 692.1L895.55 698.63L897.27 703.3L899 701.9L900.73 707.95L902.45 707.49L904.17 700.96L905.9 701.9L907.62 705.17L909.35 698.63L911.08 692.56L912.8 690.24L914.52 701.9L916.25 707.03L917.98 709.35L919.7 711.22L921.42 711.22L923.15 716.34L924.88 706.09L926.6 699.09L928.33 700.04L930.05 700.04L931.77 694.42L933.5 691.64L935.23 699.09L936.95 697.69L938.67 703.76L940.4 712.16L942.12 711.22L943.85 694.91L945.58 691.16L947.3 697.69L949.02 694.91L950.75 694.91L952.48 686.51L954.2 683.71L955.92 699.09L957.65 699.55L959.38 705.17L961.1 704.22"/><path class="ln" stroke="#0000ff" d="M795.5 686.51L797.23 700.96L798.95 713.56L800.67 718.69L802.4 713.56L804.12 716.8L805.85 708.43L807.58 705.63L809.3 696.29L811.02 701.9L812.75 708.43L814.48 711.22L816.2 715.42L817.92 714.94L819.65 715.42L821.38 715.42L823.1 714.48L824.83 706.09L826.55 709.35L828.27 700.96L830 697.69L831.73 705.17L833.45 697.69L835.17 700.96L836.9 700.96L838.62 704.22L840.35 706.55L842.08 712.16L843.8 714.48L845.52 717.29L847.25 709.35L848.98 711.22L850.7 712.16L852.42 713.56L854.15 718.69L855.88 720.07L857.6 725.2L859.33 725.2L861.05 725.2L862.77 722.42L864.5 723.34L866.23 718.21L867.95 716.34L869.67 706.55L871.4 703.76L873.12 700.04L874.85 699.55L876.58 708.43L878.3 713.08L880.02 717.29L881.75 722.42L883.48 723.34L885.2 724.28L886.92 722.88L888.65 715.88L890.38 705.17L892.1 702.36L893.83 701.42L895.55 706.09L897.27 717.75L899 711.22L900.73 718.21L902.45 718.21L904.17 717.29L905.9 714.94L907.62 712.16L909.35 703.76L911.08 698.63L912.8 684.17L914.52 694.91L916.25 712.62L917.98 712.62L919.7 712.62L921.42 718.21L923.15 717.29L924.88 714.48L926.6 696.29L928.33 703.3L930.05 707.03L931.77 696.29L933.5 710.29L935.23 707.49L936.95 709.81L938.67 715.88L940.4 711.22L942.12 719.15L943.85 706.09L945.58 701.42L947.3 705.17L949.02 691.16L950.75 692.56L952.48 680.44L954.2 675.31L955.92 682.76L957.65 692.1L959.38 702.82L961.1 702.82"/><path class="ln" stroke="#0000ff" d="M795.5 719.06L797.23 719.98L798.95 720.92L800.67 707.4L802.4 716.71L804.12 716.25L805.85 724.19L807.58 721.38L809.3 717.2L811.02 718.6L812.75 716.25L814.48 719.98L816.2 719.98L817.92 724.19L819.65 723.24L821.38 723.73L823.1 722.78L826.55 706.45L828.27 700.4L830 708.32L831.73 703.19L833.45 704.13L835.17 718.6L836.9 719.52L838.62 708.32L840.35 716.25L842.08 720.92L843.8 724.19L845.52 723.73L847.25 727.91L848.98 725.59L850.7 723.24L852.42 719.98L854.15 723.24L855.88 724.19L857.6 725.11L859.33 724.65L861.05 719.06L862.77 722.32L864.5 723.24L866.23 723.24L867.95 724.19L869.67 722.32L871.4 717.2L873.12 714.85L874.85 708.8L876.58 711.12L878.3 710.66L880.02 715.33L881.75 718.12L883.48 722.32L885.2 721.38L886.92 723.24L888.65 726.51L890.38 727.91L892.1 721.84L893.83 711.12L895.55 717.65L897.27 713.93L899 719.98L900.73 720.92L902.45 722.32L904.17 721.38L905.9 722.78L907.62 720.46L909.35 716.71L911.08 713.93L912.8 713.47L914.52 712.53L916.25 711.12L917.98 714.39L919.7 712.07L921.42 719.06L923.15 718.6L924.88 709.26L926.6 712.53L928.33 717.2L930.05 723.24L931.77 724.65L933.5 723.24L935.23 720.92L936.95 723.24L938.67 724.19L940.4 719.98L942.12 720.46L943.85 722.32L945.58 721.84L947.3 722.78L949.02 721.84L950.75 716.71L952.48 711.12L954.2 709.72L955.92 711.12L957.65 715.79L959.38 714.39L961.1 708.32"/><path class="ln" stroke="#0000ff" d="M795.5 676.9L797.23 672.23L798.95 676.9L800.67 680.16L802.4 685.75L804.12 686.21L805.85 684.83L807.58 680.16L809.3 676.9L811.02 666.18L812.75 668.04L814.48 668.96L816.2 669.91L817.92 670.83L819.65 671.77L821.38 668.96L823.1 662.91L824.83 650.77L826.55 654.52L828.27 646.12L830 653.58L831.73 665.7L833.45 671.77L835.17 670.37L836.9 675.04L838.62 675.5L840.35 677.82L842.08 683.89L843.8 685.29L845.52 682.03L847.25 679.71L848.98 683.43L850.7 680.16L852.42 683.43L854.15 691.83L855.88 694.61L857.6 696.47L859.33 699.28L861.05 686.7L862.77 693.23L864.5 693.23L866.23 691.83L867.95 684.35L869.67 681.57L871.4 679.22L873.12 679.71L874.85 684.83L876.58 689.02L878.3 691.83L880.02 689.02L881.75 696.47L883.48 692.75L885.2 690.42L886.92 690.42L888.65 686.7L890.38 680.16L892.1 668.04L893.83 664.78L895.55 665.7L897.27 668.96L899 668.96L900.73 678.3L902.45 682.03L904.17 683.43L905.9 665.7L907.62 667.1L909.35 673.63L911.08 674.58L912.8 672.23L914.52 677.36L916.25 682.03L917.98 685.75L919.7 679.71L921.42 680.62L923.15 685.75L924.88 687.62L926.6 684.35L928.33 680.62L930.05 675.5L931.77 673.17L933.5 670.37L935.23 664.78L936.95 685.75L938.67 694.15L940.4 690.65L942.12 695.55L943.85 681.57L945.58 681.57L947.3 688.1L949.02 670.83L950.75 668.96L952.48 668.96L954.2 665.7L955.92 670.83L957.65 668.04L959.38 676.9L961.1 682.95"/><path class="ln" stroke="#0000ff" d="M795.5 697.16L797.23 710.57L798.95 709.56L800.67 714.53L802.4 717.52L804.12 718.51L805.85 712.55L807.58 696.66L809.3 680.76L811.02 672.32L812.75 660.89L814.48 656.91L816.2 656.66L817.92 671.82L819.65 652.45L821.38 677.77L823.1 680.76L824.83 670.83L826.55 668.83L828.27 669.33L830 675.29L831.73 685.23L833.45 696.66L835.17 699.65L836.9 700.13L838.62 702.61L840.35 703.6L842.08 710.57L843.8 714.53L845.52 715.54L847.25 717.52L848.98 712.04L850.7 706.09L852.42 711.05L854.15 717.01L866.23 700.13L867.95 705.1L869.67 700.13L871.4 692.19L873.12 696.15L874.85 695.67L876.58 706.09L878.3 703.6L880.02 705.1L881.75 711.05L883.48 717.52L885.2 716.02L886.92 716.02L888.65 714.04L890.38 694.68L892.1 687.71L893.83 678.28L895.55 679.27L897.27 686.72L899 656.41L900.73 679.77L902.45 675.79L904.17 685.73L905.9 669.33L907.62 669.84L909.35 679.27L911.08 679.27L912.8 680.26L914.52 680.26L916.25 684.24L917.98 694.17L919.7 685.73L921.42 692.68L923.15 700.13L924.88 710.07L928.33 711.05L930.05 707.58L931.77 692.19L933.5 678.28L935.23 684.74L936.95 685.73L938.67 670.83L940.4 685.73L942.12 677.29L943.85 676.78L945.58 667.84L947.3 661.88L949.02 667.35L950.75 670.83L952.48 675.79L954.2 685.23L955.92 689.2L957.65 682.74L959.38 675.29L961.1 687.71"/><path class="ln" stroke="#0000ff" d="M795.5 712.62L797.23 718.21L798.95 712.62L800.67 716.8L802.4 723.34L804.12 715.88L805.85 714.02L807.58 702.82L809.3 695.37L811.02 700.96L812.75 703.76L814.48 697.23L816.2 698.63L817.92 708.89L819.65 707.49L821.38 712.16L823.1 704.68L824.83 702.36L826.55 704.68L828.27 704.68L830 704.68L831.73 706.55L833.45 707.49L835.17 707.49L836.9 706.55L838.62 705.63L840.35 707.49L842.08 715.42L843.8 720.55L845.52 714.02L847.25 711.22L848.98 711.22L850.7 711.67L852.42 716.34L854.15 719.61L855.88 723.34L857.6 723.34L859.33 724.28L861.05 721.01L862.77 722.88L864.5 723.34L866.23 717.75L867.95 717.29L869.67 713.56L871.4 705.17L873.12 707.49L874.85 708.89L876.58 709.81L878.3 707.03L880.02 705.63L881.75 708.89L883.48 715.88L885.2 718.69L886.92 717.75L888.65 707.95L890.38 702.82L892.1 698.63L893.83 704.68L895.55 707.03L897.27 713.08L899 712.16L900.73 706.55L902.45 706.09L904.17 702.36L905.9 708.89L907.62 712.16L909.35 709.35L911.08 702.36L912.8 692.1L914.52 698.63L916.25 697.23L917.98 702.82L919.7 701.9L921.42 701.42L923.15 702.36L924.88 714.94L926.6 702.36L928.33 706.55L930.05 700.04L931.77 693.97L933.5 696.29L935.23 708.43L936.95 702.36L938.67 696.29L940.4 705.17L942.12 706.09L943.85 705.17L945.58 706.09L947.3 704.22L949.02 693.97L950.75 700.04L952.48 697.69L954.2 695.83L955.92 703.3L957.65 690.24L959.38 686.51L961.1 689.3"/><path class="ln" stroke="#0000ff" d="M795.5 703.76L797.23 707.95L798.95 711.67L800.67 709.35L802.4 705.63L804.12 710.75L805.85 712.16L807.58 708.89L809.3 711.22L811.02 713.56L812.75 715.42L814.48 715.88L816.2 717.29L817.92 714.02L819.65 712.16L821.38 712.16L823.1 708.89L824.83 709.35L826.55 710.29L828.27 701.42L830 707.95L831.73 707.95L833.45 699.09L835.17 700.96L836.9 688.84L838.62 712.62L840.35 713.08L842.08 713.08L843.8 717.29L845.52 717.29L847.25 712.62L848.98 716.34L850.7 720.07L852.42 719.61L854.15 719.61L855.88 722.42L857.6 723.82L859.33 719.15L861.05 719.61L862.77 720.55L864.5 723.34L866.23 717.75L867.95 714.02L869.67 707.95L871.4 717.75L873.12 715.88L874.85 714.94L876.58 714.48L878.3 710.29L880.02 718.21L881.75 719.15L883.48 720.07L885.2 722.88L886.92 716.34L888.65 721.01L890.38 712.16L892.1 707.03L893.83 709.35L895.55 711.67L897.27 714.48L899 716.8L900.73 716.34L902.45 714.48L904.17 715.88L905.9 712.62L907.62 715.42L909.35 715.42L911.08 710.29L912.8 714.02L914.52 712.16L916.25 714.94L917.98 712.16L919.7 712.62L921.42 718.21L923.15 713.08L924.88 713.08L926.6 714.94L928.33 716.34L930.05 712.16L931.77 716.34L933.5 716.8L935.23 716.8L936.95 719.15L938.67 719.15L940.4 719.38L942.12 718.21L943.85 717.75L945.58 715.88L947.3 714.48L949.02 715.88L950.75 715.42L952.48 709.35L954.2 710.29L955.92 711.67L957.65 713.56L959.38 703.3L961.1 702.36"/><path class="ln" stroke="#0000ff" d="M795.5 719.52L797.23 714.39L798.95 717.65L800.67 722.78L802.4 724.19L804.12 727.91L805.85 723.24L807.58 708.8L809.3 712.07L811.02 716.71L812.75 719.98L814.48 718.6L816.2 720.92L817.92 721.38L819.65 713.93L821.38 722.32L823.1 712.99L824.83 713.93L826.55 715.79L828.27 706.94L830 703.67L831.73 710.2L833.45 716.71L835.17 717.2L836.9 719.06L838.62 719.98L840.35 721.38L842.08 721.84L843.8 722.78L845.52 715.33L847.25 713.47L848.98 712.99L850.7 713.93L852.42 717.2L854.15 719.06L855.88 714.39L857.6 717.2L859.33 718.6L861.05 717.65L862.77 718.6L864.5 719.52L866.23 718.12L867.95 722.32L869.67 714.85L871.4 712.99L873.12 714.85L874.85 715.79L876.58 719.52L878.3 720.92L880.02 723.24L881.75 724.19L883.48 724.19L885.2 723.73L886.92 724.65L888.65 725.11L890.38 723.24L892.1 710.2L893.83 708.8L895.55 714.85L897.27 708.8L899 709.72L900.73 718.6L902.45 715.33L904.17 708.8L905.9 712.07L907.62 711.12L909.35 719.06L911.08 720.92L912.8 714.39L914.52 712.07L916.25 715.33L917.98 711.12L919.7 719.98L921.42 719.52L923.15 720.92L924.88 720.92L926.6 723.24L928.33 724.65L930.05 719.06L931.77 711.12L933.5 715.33L935.23 718.6L936.95 720.46L938.67 713.93L940.4 714.85L942.12 713.47L943.85 718.12L945.58 723.24L947.3 715.79L949.02 717.65L950.75 719.52L952.48 719.98L954.2 719.52L955.92 718.12L957.65 715.33L959.38 716.25L961.1 718.12"/><path class="ln" stroke="#0000ff" d="M795.5 687.99L797.23 689.87L798.95 690.33L800.67 692.65L802.4 694.06L804.12 695.92L805.85 694.06L807.58 686.61L809.3 684.26L811.02 682.4L812.75 693.11L814.48 685.2L824.83 681.48L826.55 674.46L828.27 676.81L830 675.4L831.73 687.99L833.45 689.87L835.17 694.06L836.9 688.93L838.62 691.25L840.35 696.38L842.08 700.13L843.8 699.65L845.52 699.65L847.25 698.73L848.98 694.06L850.7 697.78L852.42 702.45L854.15 703.86L855.88 706.64L857.6 708.98L859.33 706.64L861.05 707.12L862.77 707.12L864.5 704.77L866.23 701.05L867.95 699.65L869.67 696.38L871.4 691.25L873.12 691.25L874.85 695L876.58 699.19L878.3 699.19L880.02 702.45L881.75 705.26L883.48 706.64L885.2 704.77L886.92 703.86L888.65 705.26L890.38 695.92L892.1 694.06L893.83 694.06L895.55 698.73L897.27 711.79L905.9 719.7L907.62 712.25L909.35 705.26L911.08 706.64L912.8 709.9L914.52 709.9L916.25 711.31L917.98 711.31L919.7 715.52L921.42 718.3L923.15 721.11L924.88 719.7L926.6 722.51L928.33 724.83L930.05 722.51L931.77 718.3L933.5 713.17L935.23 715.98L936.95 715.03L938.67 715.03L942.12 710.39L943.85 711.31L945.58 717.38L947.3 707.12L949.02 712.25L950.75 718.78L952.48 713.65L954.2 703.86L955.92 703.86L957.65 707.58L959.38 710.85L961.1 710.39"/><path class="ln" stroke="#0000ff" d="M795.5 714.85L800.67 719.06L802.4 725.11L804.12 721.84L805.85 716.71L807.58 714.39L809.3 716.71L811.02 719.06L812.75 719.98L814.48 720.92L816.2 720.92L817.92 719.98L819.65 718.6L821.38 719.06L823.1 720.92L824.83 721.84L826.55 721.84L828.27 720.46L830 722.78L831.73 722.78L833.45 722.32L835.17 723.24L836.9 722.32L838.62 725.11L840.35 725.59L842.08 726.05L843.8 725.59L845.52 724.65L847.25 725.11L848.98 724.19L850.7 726.99L852.42 726.99L854.15 727.45L855.88 727.91L857.6 727.91L859.33 727.91L861.05 727.91L862.77 725.59L864.5 727.91L866.23 728.37L867.95 727.91L869.67 727.45L871.4 727.91L873.12 728.86L874.85 728.86L876.58 728.86L878.3 728.37L880.02 727.91L881.75 727.91L883.48 727.91L885.2 728.37L886.92 728.37L888.65 728.37L890.38 727.45L892.1 721.84L893.83 717.2L895.55 719.98L897.27 707.4L900.73 707.4L905.9 719.52L907.62 723.24L909.35 720.46L911.08 723.73L912.8 726.99L914.52 726.05L916.25 725.59L917.98 725.59L919.7 725.59L921.42 727.91L923.15 726.99L924.88 726.99L926.6 726.99L928.33 727.45L930.05 725.59L931.77 723.24L933.5 725.59L935.23 725.11L936.95 724.65L938.67 726.05L940.4 724.65L942.12 720.92L943.85 721.84L945.58 724.65L947.3 727.45L949.02 727.91L950.75 726.99L952.48 725.11L954.2 721.84L955.92 722.32L957.65 724.65L959.38 724.65L961.1 725.11"/><path class="ln" stroke="#0000ff" d="M795.5 722.32L797.23 719.52L798.95 719.98L800.67 721.84L802.4 720.92L804.12 719.98L805.85 717.2L807.58 714.39L809.3 716.71L811.02 716.71L812.75 719.52L814.48 717.2L816.2 721.84L817.92 722.78L819.65 721.84L821.38 720.92L823.1 719.98L824.83 719.98L826.55 712.99L828.27 721.84L830 720.92L831.73 720.92L833.45 721.84L835.17 721.84L836.9 719.98L838.62 725.59L840.35 727.45L842.08 724.65L843.8 722.32L845.52 724.19L847.25 724.19L848.98 721.38L850.7 726.05L852.42 724.19L854.15 726.05L855.88 725.11L857.6 725.11L859.33 726.51L861.05 723.73L862.77 725.59L864.5 726.51L866.23 725.59L867.95 724.65L869.67 724.19L871.4 723.73L873.12 722.78L874.85 723.73L876.58 724.19L878.3 723.73L880.02 726.05L881.75 724.65L883.48 725.59L885.2 725.59L886.92 727.45L888.65 726.99L890.38 719.98L892.1 722.32L893.83 720.92L895.55 723.24L897.27 725.11L899 725.59L900.73 723.73L902.45 726.51L904.17 724.65L905.9 722.32L907.62 723.73L909.35 719.98L911.08 724.19L912.8 718.6L914.52 717.2L916.25 716.71L917.98 716.71L919.7 716.71L921.42 726.05L923.15 723.73L924.88 724.19L926.6 725.11L928.33 723.73L930.05 722.32L931.77 721.84L933.5 722.78L935.23 722.78L936.95 719.52L938.67 719.52L940.4 719.52L942.12 717.2L943.85 713.47L945.58 716.71L947.3 714.85L949.02 714.85L950.75 714.39L952.48 719.06L954.2 705.99L955.92 707.86L957.65 711.58L959.38 709.72L961.1 712.53"/></g><path stroke="#000" stroke-width="1.1" fill="none" d="M837.5 729.5v-4M837.5 613v3.2M878.5 729.5v-4M878.5 613v3.2M919.5 729.5v-4M919.5 613v3.2M816.5 729.5v-4M816.5 613v3.2M857.5 729.5v-4M857.5 613v3.2M899.5 729.5v-4M899.5 613v3.2M940.5 729.5v-4M940.5 613v3.2M796 706.5h6M960.6 706.5h-6M796 683.5h6M960.6 683.5h-6M796 660.5h6M960.6 660.5h-6M796 637.5h6M960.6 637.5h-6M796 614.5h6M960.6 614.5h-6"/><path stroke="#000" stroke-width="0.8" fill="none" d="M796 717.5h4M960.6 717.5h-4M796 694.5h4M960.6 694.5h-4M796 671.5h4M960.6 671.5h-4M796 648.5h4M960.6 648.5h-4M796 625.5h4M960.6 625.5h-4"/><path fill="#000" d="M795 611h167v2h-167zM795 611h1v119h-1zM960.5 611h1.5v119h-1.5zM795 729h167v1.5h-167z"/><g fill="#000" stroke="#000" stroke-width="0.3"><text class="t" x="791.5" y="732.4" text-anchor="end">1</text><text class="t" x="791.5" y="709.4" text-anchor="end">11</text><text class="t" x="791.5" y="686.4" text-anchor="end">21</text><text class="t" x="791.5" y="663.4" text-anchor="end">31</text><text class="t" x="791.5" y="640.4" text-anchor="end">41</text><text class="t" x="791.5" y="617.4" text-anchor="end">51</text><text class="t" x="795.8" y="741" text-anchor="middle">−72</text><text class="t" x="837.2" y="741" text-anchor="middle">−48</text><text class="t" x="878.6" y="741" text-anchor="middle">−24</text><text class="t" x="920" y="741" text-anchor="middle">0</text><text class="t" x="961.4" y="741" text-anchor="middle">24</text><text class="l" transform="translate(878.5 754.7) scale(1.02 1)" text-anchor="middle">ALL</text></g>
</g>
</svg></body></html>
